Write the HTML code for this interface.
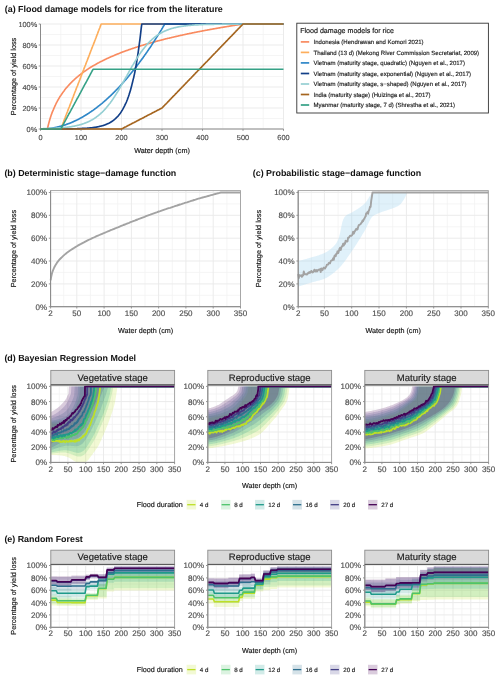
<!DOCTYPE html>
<html><head><meta charset="utf-8"><style>html,body{margin:0;padding:0;background:#fff;width:500px;height:680px;overflow:hidden}svg{display:block;will-change:transform}text{font-family:"Liberation Sans", sans-serif;text-rendering:geometricPrecision}</style></head>
<body><svg width="500" height="680" viewBox="0 0 500 680" font-family='"Liberation Sans", sans-serif'><text x="4.8" y="11.8" font-size="8.9" text-anchor="start" fill="#111" font-weight="bold">(a) Flood damage models for rice from the literature</text>
<text x="4.4" y="175.5" font-size="8.9" text-anchor="start" fill="#111" font-weight="bold">(b) Deterministic stage−damage function</text>
<text x="252.8" y="175.5" font-size="8.9" text-anchor="start" fill="#111" font-weight="bold">(c) Probabilistic stage−damage function</text>
<text x="4.4" y="360.6" font-size="8.9" text-anchor="start" fill="#111" font-weight="bold">(d) Bayesian Regression Model</text>
<text x="4.4" y="542.4" font-size="8.9" text-anchor="start" fill="#111" font-weight="bold">(e) Random Forest</text>
<line x1="40.5" y1="118.5" x2="283.5" y2="118.5" stroke="#f3f3f3" stroke-width="0.8"/>
<line x1="40.5" y1="97.5" x2="283.5" y2="97.5" stroke="#f3f3f3" stroke-width="0.8"/>
<line x1="40.5" y1="76.5" x2="283.5" y2="76.5" stroke="#f3f3f3" stroke-width="0.8"/>
<line x1="40.5" y1="55.5" x2="283.5" y2="55.5" stroke="#f3f3f3" stroke-width="0.8"/>
<line x1="40.5" y1="34.5" x2="283.5" y2="34.5" stroke="#f3f3f3" stroke-width="0.8"/>
<line x1="60.8" y1="24" x2="60.8" y2="129" stroke="#f3f3f3" stroke-width="0.8"/>
<line x1="101.2" y1="24" x2="101.2" y2="129" stroke="#f3f3f3" stroke-width="0.8"/>
<line x1="141.8" y1="24" x2="141.8" y2="129" stroke="#f3f3f3" stroke-width="0.8"/>
<line x1="182.2" y1="24" x2="182.2" y2="129" stroke="#f3f3f3" stroke-width="0.8"/>
<line x1="222.8" y1="24" x2="222.8" y2="129" stroke="#f3f3f3" stroke-width="0.8"/>
<line x1="263.2" y1="24" x2="263.2" y2="129" stroke="#f3f3f3" stroke-width="0.8"/>
<line x1="40.5" y1="129" x2="283.5" y2="129" stroke="#ebebeb" stroke-width="1"/>
<line x1="40.5" y1="108" x2="283.5" y2="108" stroke="#ebebeb" stroke-width="1"/>
<line x1="40.5" y1="87" x2="283.5" y2="87" stroke="#ebebeb" stroke-width="1"/>
<line x1="40.5" y1="66" x2="283.5" y2="66" stroke="#ebebeb" stroke-width="1"/>
<line x1="40.5" y1="45" x2="283.5" y2="45" stroke="#ebebeb" stroke-width="1"/>
<line x1="40.5" y1="24" x2="283.5" y2="24" stroke="#ebebeb" stroke-width="1"/>
<line x1="40.5" y1="24" x2="40.5" y2="129" stroke="#ebebeb" stroke-width="1"/>
<line x1="81" y1="24" x2="81" y2="129" stroke="#ebebeb" stroke-width="1"/>
<line x1="121.5" y1="24" x2="121.5" y2="129" stroke="#ebebeb" stroke-width="1"/>
<line x1="162" y1="24" x2="162" y2="129" stroke="#ebebeb" stroke-width="1"/>
<line x1="202.5" y1="24" x2="202.5" y2="129" stroke="#ebebeb" stroke-width="1"/>
<line x1="243" y1="24" x2="243" y2="129" stroke="#ebebeb" stroke-width="1"/>
<line x1="283.5" y1="24" x2="283.5" y2="129" stroke="#ebebeb" stroke-width="1"/>
<line x1="40.5" y1="24" x2="40.5" y2="129" stroke="#8a8a8a" stroke-width="1"/>
<line x1="40.5" y1="129" x2="283.5" y2="129" stroke="#8a8a8a" stroke-width="1"/>
<line x1="38.7" y1="129" x2="40.5" y2="129" stroke="#8a8a8a" stroke-width="0.9"/>
<text x="37.2" y="131.6" font-size="7.35" text-anchor="end" fill="#4d4d4d" stroke="#4d4d4d" stroke-width="0.15">0%</text>
<line x1="38.7" y1="108" x2="40.5" y2="108" stroke="#8a8a8a" stroke-width="0.9"/>
<text x="37.2" y="110.6" font-size="7.35" text-anchor="end" fill="#4d4d4d" stroke="#4d4d4d" stroke-width="0.15">20%</text>
<line x1="38.7" y1="87" x2="40.5" y2="87" stroke="#8a8a8a" stroke-width="0.9"/>
<text x="37.2" y="89.6" font-size="7.35" text-anchor="end" fill="#4d4d4d" stroke="#4d4d4d" stroke-width="0.15">40%</text>
<line x1="38.7" y1="66" x2="40.5" y2="66" stroke="#8a8a8a" stroke-width="0.9"/>
<text x="37.2" y="68.6" font-size="7.35" text-anchor="end" fill="#4d4d4d" stroke="#4d4d4d" stroke-width="0.15">60%</text>
<line x1="38.7" y1="45" x2="40.5" y2="45" stroke="#8a8a8a" stroke-width="0.9"/>
<text x="37.2" y="47.6" font-size="7.35" text-anchor="end" fill="#4d4d4d" stroke="#4d4d4d" stroke-width="0.15">80%</text>
<line x1="38.7" y1="24" x2="40.5" y2="24" stroke="#8a8a8a" stroke-width="0.9"/>
<text x="37.2" y="26.6" font-size="7.35" text-anchor="end" fill="#4d4d4d" stroke="#4d4d4d" stroke-width="0.15">100%</text>
<line x1="40.5" y1="129" x2="40.5" y2="130.8" stroke="#8a8a8a" stroke-width="0.9"/>
<text x="40.5" y="140" font-size="7.35" text-anchor="middle" fill="#4d4d4d" stroke="#4d4d4d" stroke-width="0.15">0</text>
<line x1="81" y1="129" x2="81" y2="130.8" stroke="#8a8a8a" stroke-width="0.9"/>
<text x="81" y="140" font-size="7.35" text-anchor="middle" fill="#4d4d4d" stroke="#4d4d4d" stroke-width="0.15">100</text>
<line x1="121.5" y1="129" x2="121.5" y2="130.8" stroke="#8a8a8a" stroke-width="0.9"/>
<text x="121.5" y="140" font-size="7.35" text-anchor="middle" fill="#4d4d4d" stroke="#4d4d4d" stroke-width="0.15">200</text>
<line x1="162" y1="129" x2="162" y2="130.8" stroke="#8a8a8a" stroke-width="0.9"/>
<text x="162" y="140" font-size="7.35" text-anchor="middle" fill="#4d4d4d" stroke="#4d4d4d" stroke-width="0.15">300</text>
<line x1="202.5" y1="129" x2="202.5" y2="130.8" stroke="#8a8a8a" stroke-width="0.9"/>
<text x="202.5" y="140" font-size="7.35" text-anchor="middle" fill="#4d4d4d" stroke="#4d4d4d" stroke-width="0.15">400</text>
<line x1="243" y1="129" x2="243" y2="130.8" stroke="#8a8a8a" stroke-width="0.9"/>
<text x="243" y="140" font-size="7.35" text-anchor="middle" fill="#4d4d4d" stroke="#4d4d4d" stroke-width="0.15">500</text>
<line x1="283.5" y1="129" x2="283.5" y2="130.8" stroke="#8a8a8a" stroke-width="0.9"/>
<text x="283.5" y="140" font-size="7.35" text-anchor="middle" fill="#4d4d4d" stroke="#4d4d4d" stroke-width="0.15">600</text>
<polyline points="40.5,129 40.9,129 41.3,129 41.7,129 42.1,129 42.5,129 42.9,129 43.3,129 43.7,129 44.1,129 44.5,129 45,129 45.4,129 45.8,129 46.2,129 46.6,129 47,129 47.4,129 47.8,127.2 48.2,125.5 48.6,124 49,122.4 49.4,121 49.8,119.6 50.2,118.3 50.6,117 51,115.8 51.4,114.6 51.8,113.5 52.2,112.4 52.6,111.4 53.1,110.3 53.5,109.4 53.9,108.4 54.3,107.5 54.7,106.6 55.1,105.7 55.5,104.9 55.9,104 56.3,103.2 56.7,102.4 57.1,101.7 57.5,100.9 57.9,100.2 58.3,99.5 58.7,98.8 59.1,98.1 59.5,97.4 59.9,96.8 60.3,96.1 60.8,95.5 61.2,94.9 61.6,94.3 62,93.7 62.4,93.1 62.8,92.5 63.2,92 63.6,91.4 64,90.9 64.4,90.4 64.8,89.8 65.2,89.3 65.6,88.8 66,88.3 66.4,87.8 66.8,87.4 67.2,86.9 67.6,86.4 68,86 68.4,85.5 68.8,85.1 69.3,84.6 69.7,84.2 70.1,83.7 70.5,83.3 70.9,82.9 71.3,82.5 71.7,82.1 72.1,81.7 72.5,81.3 72.9,80.9 73.3,80.5 73.7,80.1 74.1,79.8 74.5,79.4 74.9,79 75.3,78.7 75.7,78.3 76.1,77.9 76.5,77.6 76.9,77.2 77.4,76.9 77.8,76.6 78.2,76.2 78.6,75.9 79,75.6 79.4,75.2 79.8,74.9 80.2,74.6 80.6,74.3 81,74 81.4,73.7 81.8,73.4 82.2,73.1 82.6,72.8 83,72.5 83.4,72.2 83.8,71.9 84.2,71.6 84.6,71.3 85,71 85.5,70.7 85.9,70.5 86.3,70.2 86.7,69.9 87.1,69.6 87.5,69.4 87.9,69.1 88.3,68.8 88.7,68.6 89.1,68.3 89.5,68.1 89.9,67.8 90.3,67.5 90.7,67.3 91.1,67 91.5,66.8 91.9,66.6 92.3,66.3 92.7,66.1 93.2,65.8 93.6,65.6 94,65.4 94.4,65.1 94.8,64.9 95.2,64.7 95.6,64.4 96,64.2 96.4,64 96.8,63.8 97.2,63.5 97.6,63.3 98,63.1 98.4,62.9 98.8,62.7 99.2,62.4 99.6,62.2 100,62 100.4,61.8 100.8,61.6 101.2,61.4 101.7,61.2 102.1,61 102.5,60.8 102.9,60.6 103.3,60.4 103.7,60.2 104.1,60 104.5,59.8 104.9,59.6 105.3,59.4 105.7,59.2 106.1,59 106.5,58.8 106.9,58.6 107.3,58.4 107.7,58.2 108.1,58.1 108.5,57.9 108.9,57.7 109.3,57.5 109.8,57.3 110.2,57.1 110.6,57 111,56.8 111.4,56.6 111.8,56.4 112.2,56.2 112.6,56.1 113,55.9 113.4,55.7 113.8,55.6 114.2,55.4 114.6,55.2 115,55 115.4,54.9 115.8,54.7 116.2,54.5 116.6,54.4 117,54.2 117.5,54 117.9,53.9 118.3,53.7 118.7,53.6 119.1,53.4 119.5,53.2 119.9,53.1 120.3,52.9 120.7,52.8 121.1,52.6 121.5,52.5 121.9,52.3 122.3,52.1 122.7,52 123.1,51.8 123.5,51.7 123.9,51.5 124.3,51.4 124.7,51.2 125.1,51.1 125.5,50.9 126,50.8 126.4,50.6 126.8,50.5 127.2,50.4 127.6,50.2 128,50.1 128.4,49.9 128.8,49.8 129.2,49.6 129.6,49.5 130,49.4 130.4,49.2 130.8,49.1 131.2,48.9 131.6,48.8 132,48.7 132.4,48.5 132.8,48.4 133.2,48.2 133.7,48.1 134.1,48 134.5,47.8 134.9,47.7 135.3,47.6 135.7,47.4 136.1,47.3 136.5,47.2 136.9,47.1 137.3,46.9 137.7,46.8 138.1,46.7 138.5,46.5 138.9,46.4 139.3,46.3 139.7,46.2 140.1,46 140.5,45.9 140.9,45.8 141.3,45.6 141.8,45.5 142.2,45.4 142.6,45.3 143,45.2 143.4,45 143.8,44.9 144.2,44.8 144.6,44.7 145,44.5 145.4,44.4 145.8,44.3 146.2,44.2 146.6,44.1 147,43.9 147.4,43.8 147.8,43.7 148.2,43.6 148.6,43.5 149,43.4 149.4,43.2 149.9,43.1 150.3,43 150.7,42.9 151.1,42.8 151.5,42.7 151.9,42.6 152.3,42.5 152.7,42.3 153.1,42.2 153.5,42.1 153.9,42 154.3,41.9 154.7,41.8 155.1,41.7 155.5,41.6 155.9,41.5 156.3,41.3 156.7,41.2 157.1,41.1 157.5,41 157.9,40.9 158.4,40.8 158.8,40.7 159.2,40.6 159.6,40.5 160,40.4 160.4,40.3 160.8,40.2 161.2,40.1 161.6,40 162,39.9 162.4,39.8 162.8,39.7 163.2,39.6 163.6,39.5 164,39.3 164.4,39.2 164.8,39.1 165.2,39 165.6,38.9 166.1,38.8 166.5,38.7 166.9,38.6 167.3,38.5 167.7,38.4 168.1,38.3 168.5,38.2 168.9,38.2 169.3,38.1 169.7,38 170.1,37.9 170.5,37.8 170.9,37.7 171.3,37.6 171.7,37.5 172.1,37.4 172.5,37.3 172.9,37.2 173.3,37.1 173.7,37 174.2,36.9 174.6,36.8 175,36.7 175.4,36.6 175.8,36.5 176.2,36.4 176.6,36.3 177,36.3 177.4,36.2 177.8,36.1 178.2,36 178.6,35.9 179,35.8 179.4,35.7 179.8,35.6 180.2,35.5 180.6,35.4 181,35.3 181.4,35.3 181.8,35.2 182.2,35.1 182.7,35 183.1,34.9 183.5,34.8 183.9,34.7 184.3,34.6 184.7,34.5 185.1,34.5 185.5,34.4 185.9,34.3 186.3,34.2 186.7,34.1 187.1,34 187.5,33.9 187.9,33.9 188.3,33.8 188.7,33.7 189.1,33.6 189.5,33.5 189.9,33.4 190.3,33.3 190.8,33.3 191.2,33.2 191.6,33.1 192,33 192.4,32.9 192.8,32.9 193.2,32.8 193.6,32.7 194,32.6 194.4,32.5 194.8,32.4 195.2,32.4 195.6,32.3 196,32.2 196.4,32.1 196.8,32 197.2,32 197.6,31.9 198,31.8 198.5,31.7 198.9,31.6 199.3,31.6 199.7,31.5 200.1,31.4 200.5,31.3 200.9,31.2 201.3,31.2 201.7,31.1 202.1,31 202.5,30.9 202.9,30.9 203.3,30.8 203.7,30.7 204.1,30.6 204.5,30.5 204.9,30.5 205.3,30.4 205.7,30.3 206.1,30.2 206.6,30.2 207,30.1 207.4,30 207.8,29.9 208.2,29.9 208.6,29.8 209,29.7 209.4,29.6 209.8,29.6 210.2,29.5 210.6,29.4 211,29.3 211.4,29.3 211.8,29.2 212.2,29.1 212.6,29 213,29 213.4,28.9 213.8,28.8 214.2,28.8 214.7,28.7 215.1,28.6 215.5,28.5 215.9,28.5 216.3,28.4 216.7,28.3 217.1,28.3 217.5,28.2 217.9,28.1 218.3,28 218.7,28 219.1,27.9 219.5,27.8 219.9,27.8 220.3,27.7 220.7,27.6 221.1,27.5 221.5,27.5 221.9,27.4 222.3,27.3 222.8,27.3 223.2,27.2 223.6,27.1 224,27.1 224.4,27 224.8,26.9 225.2,26.9 225.6,26.8 226,26.7 226.4,26.7 226.8,26.6 227.2,26.5 227.6,26.5 228,26.4 228.4,26.3 228.8,26.3 229.2,26.2 229.6,26.1 230,26.1 230.4,26 230.8,25.9 231.3,25.9 231.7,25.8 232.1,25.7 232.5,25.7 232.9,25.6 233.3,25.5 233.7,25.5 234.1,25.4 234.5,25.3 234.9,25.3 235.3,25.2 235.7,25.1 236.1,25.1 236.5,25 236.9,24.9 237.3,24.9 237.7,24.8 238.1,24.8 238.5,24.7 238.9,24.6 239.4,24.6 239.8,24.5 240.2,24.4 240.6,24.4 241,24.3 241.4,24.2 241.8,24.2 242.2,24.1 242.6,24.1 243,24 243.4,24 243.8,24 244.2,24 244.6,24 245,24 245.4,24 245.8,24 246.2,24 246.6,24 247,24 247.5,24 247.9,24 248.3,24 248.7,24 249.1,24 249.5,24 249.9,24 250.3,24 250.7,24 251.1,24 251.5,24 251.9,24 252.3,24 252.7,24 253.1,24 253.5,24 253.9,24 254.3,24 254.7,24 255.2,24 255.6,24 256,24 256.4,24 256.8,24 257.2,24 257.6,24 258,24 258.4,24 258.8,24 259.2,24 259.6,24 260,24 260.4,24 260.8,24 261.2,24 261.6,24 262,24 262.4,24 262.8,24 263.2,24 263.7,24 264.1,24 264.5,24 264.9,24 265.3,24 265.7,24 266.1,24 266.5,24 266.9,24 267.3,24 267.7,24 268.1,24 268.5,24 268.9,24 269.3,24 269.7,24 270.1,24 270.5,24 270.9,24 271.4,24 271.8,24 272.2,24 272.6,24 273,24 273.4,24 273.8,24 274.2,24 274.6,24 275,24 275.4,24 275.8,24 276.2,24 276.6,24 277,24 277.4,24 277.8,24 278.2,24 278.6,24 279,24 279.4,24 279.9,24 280.3,24 280.7,24 281.1,24 281.5,24 281.9,24 282.3,24 282.7,24 283.1,24 283.5,24" fill="none" stroke="#f98b60" stroke-width="1.65" stroke-linejoin="round"/>
<polyline points="40.5,129 40.9,129 41.3,129 41.7,129 42.1,129 42.5,129 42.9,129 43.3,129 43.7,129 44.1,129 44.5,129 45,129 45.4,129 45.8,129 46.2,129 46.6,129 47,129 47.4,129 47.8,129 48.2,129 48.6,129 49,129 49.4,129 49.8,129 50.2,129 50.6,129 51,129 51.4,129 51.8,129 52.2,129 52.6,129 53.1,129 53.5,129 53.9,129 54.3,129 54.7,129 55.1,129 55.5,129 55.9,129 56.3,129 56.7,129 57.1,129 57.5,129 57.9,129 58.3,129 58.7,129 59.1,129 59.5,129 59.9,129 60.3,129 60.8,129 61.2,128 61.6,126.9 62,125.8 62.4,124.8 62.8,123.8 63.2,122.7 63.6,121.7 64,120.6 64.4,119.5 64.8,118.5 65.2,117.5 65.6,116.4 66,115.3 66.4,114.3 66.8,113.2 67.2,112.2 67.6,111.2 68,110.1 68.4,109 68.8,108 69.3,107 69.7,105.9 70.1,104.8 70.5,103.8 70.9,102.8 71.3,101.7 71.7,100.7 72.1,99.6 72.5,98.5 72.9,97.5 73.3,96.5 73.7,95.4 74.1,94.3 74.5,93.3 74.9,92.2 75.3,91.2 75.7,90.2 76.1,89.1 76.5,88 76.9,87 77.4,86 77.8,84.9 78.2,83.8 78.6,82.8 79,81.8 79.4,80.7 79.8,79.7 80.2,78.6 80.6,77.6 81,76.5 81.4,75.4 81.8,74.4 82.2,73.3 82.6,72.3 83,71.2 83.4,70.2 83.8,69.2 84.2,68.1 84.6,67.1 85,66 85.5,65 85.9,63.9 86.3,62.8 86.7,61.8 87.1,60.8 87.5,59.7 87.9,58.6 88.3,57.6 88.7,56.6 89.1,55.5 89.5,54.5 89.9,53.4 90.3,52.4 90.7,51.3 91.1,50.2 91.5,49.2 91.9,48.1 92.3,47.1 92.7,46 93.2,45 93.6,43.9 94,42.9 94.4,41.9 94.8,40.8 95.2,39.8 95.6,38.7 96,37.7 96.4,36.6 96.8,35.5 97.2,34.5 97.6,33.5 98,32.4 98.4,31.3 98.8,30.3 99.2,29.2 99.6,28.2 100,27.2 100.4,26.1 100.8,25 101.2,24 101.7,24 102.1,24 102.5,24 102.9,24 103.3,24 103.7,24 104.1,24 104.5,24 104.9,24 105.3,24 105.7,24 106.1,24 106.5,24 106.9,24 107.3,24 107.7,24 108.1,24 108.5,24 108.9,24 109.3,24 109.8,24 110.2,24 110.6,24 111,24 111.4,24 111.8,24 112.2,24 112.6,24 113,24 113.4,24 113.8,24 114.2,24 114.6,24 115,24 115.4,24 115.8,24 116.2,24 116.6,24 117,24 117.5,24 117.9,24 118.3,24 118.7,24 119.1,24 119.5,24 119.9,24 120.3,24 120.7,24 121.1,24 121.5,24 121.9,24 122.3,24 122.7,24 123.1,24 123.5,24 123.9,24 124.3,24 124.7,24 125.1,24 125.5,24 126,24 126.4,24 126.8,24 127.2,24 127.6,24 128,24 128.4,24 128.8,24 129.2,24 129.6,24 130,24 130.4,24 130.8,24 131.2,24 131.6,24 132,24 132.4,24 132.8,24 133.2,24 133.7,24 134.1,24 134.5,24 134.9,24 135.3,24 135.7,24 136.1,24 136.5,24 136.9,24 137.3,24 137.7,24 138.1,24 138.5,24 138.9,24 139.3,24 139.7,24 140.1,24 140.5,24 140.9,24 141.3,24 141.8,24 142.2,24 142.6,24 143,24 143.4,24 143.8,24 144.2,24 144.6,24 145,24 145.4,24 145.8,24 146.2,24 146.6,24 147,24 147.4,24 147.8,24 148.2,24 148.6,24 149,24 149.4,24 149.9,24 150.3,24 150.7,24 151.1,24 151.5,24 151.9,24 152.3,24 152.7,24 153.1,24 153.5,24 153.9,24 154.3,24 154.7,24 155.1,24 155.5,24 155.9,24 156.3,24 156.7,24 157.1,24 157.5,24 157.9,24 158.4,24 158.8,24 159.2,24 159.6,24 160,24 160.4,24 160.8,24 161.2,24 161.6,24 162,24 162.4,24 162.8,24 163.2,24 163.6,24 164,24 164.4,24 164.8,24 165.2,24 165.6,24 166.1,24 166.5,24 166.9,24 167.3,24 167.7,24 168.1,24 168.5,24 168.9,24 169.3,24 169.7,24 170.1,24 170.5,24 170.9,24 171.3,24 171.7,24 172.1,24 172.5,24 172.9,24 173.3,24 173.7,24 174.2,24 174.6,24 175,24 175.4,24 175.8,24 176.2,24 176.6,24 177,24 177.4,24 177.8,24 178.2,24 178.6,24 179,24 179.4,24 179.8,24 180.2,24 180.6,24 181,24 181.4,24 181.8,24 182.2,24 182.7,24 183.1,24 183.5,24 183.9,24 184.3,24 184.7,24 185.1,24 185.5,24 185.9,24 186.3,24 186.7,24 187.1,24 187.5,24 187.9,24 188.3,24 188.7,24 189.1,24 189.5,24 189.9,24 190.3,24 190.8,24 191.2,24 191.6,24 192,24 192.4,24 192.8,24 193.2,24 193.6,24 194,24 194.4,24 194.8,24 195.2,24 195.6,24 196,24 196.4,24 196.8,24 197.2,24 197.6,24 198,24 198.5,24 198.9,24 199.3,24 199.7,24 200.1,24 200.5,24 200.9,24 201.3,24 201.7,24 202.1,24 202.5,24 202.9,24 203.3,24 203.7,24 204.1,24 204.5,24 204.9,24 205.3,24 205.7,24 206.1,24 206.6,24 207,24 207.4,24 207.8,24 208.2,24 208.6,24 209,24 209.4,24 209.8,24 210.2,24 210.6,24 211,24 211.4,24 211.8,24 212.2,24 212.6,24 213,24 213.4,24 213.8,24 214.2,24 214.7,24 215.1,24 215.5,24 215.9,24 216.3,24 216.7,24 217.1,24 217.5,24 217.9,24 218.3,24 218.7,24 219.1,24 219.5,24 219.9,24 220.3,24 220.7,24 221.1,24 221.5,24 221.9,24 222.3,24 222.8,24 223.2,24 223.6,24 224,24 224.4,24 224.8,24 225.2,24 225.6,24 226,24 226.4,24 226.8,24 227.2,24 227.6,24 228,24 228.4,24 228.8,24 229.2,24 229.6,24 230,24 230.4,24 230.8,24 231.3,24 231.7,24 232.1,24 232.5,24 232.9,24 233.3,24 233.7,24 234.1,24 234.5,24 234.9,24 235.3,24 235.7,24 236.1,24 236.5,24 236.9,24 237.3,24 237.7,24 238.1,24 238.5,24 238.9,24 239.4,24 239.8,24 240.2,24 240.6,24 241,24 241.4,24 241.8,24 242.2,24 242.6,24 243,24 243.4,24 243.8,24 244.2,24 244.6,24 245,24 245.4,24 245.8,24 246.2,24 246.6,24 247,24 247.5,24 247.9,24 248.3,24 248.7,24 249.1,24 249.5,24 249.9,24 250.3,24 250.7,24 251.1,24 251.5,24 251.9,24 252.3,24 252.7,24 253.1,24 253.5,24 253.9,24 254.3,24 254.7,24 255.2,24 255.6,24 256,24 256.4,24 256.8,24 257.2,24 257.6,24 258,24 258.4,24 258.8,24 259.2,24 259.6,24 260,24 260.4,24 260.8,24 261.2,24 261.6,24 262,24 262.4,24 262.8,24 263.2,24 263.7,24 264.1,24 264.5,24 264.9,24 265.3,24 265.7,24 266.1,24 266.5,24 266.9,24 267.3,24 267.7,24 268.1,24 268.5,24 268.9,24 269.3,24 269.7,24 270.1,24 270.5,24 270.9,24 271.4,24 271.8,24 272.2,24 272.6,24 273,24 273.4,24 273.8,24 274.2,24 274.6,24 275,24 275.4,24 275.8,24 276.2,24 276.6,24 277,24 277.4,24 277.8,24 278.2,24 278.6,24 279,24 279.4,24 279.9,24 280.3,24 280.7,24 281.1,24 281.5,24 281.9,24 282.3,24 282.7,24 283.1,24 283.5,24" fill="none" stroke="#fdae5c" stroke-width="1.65" stroke-linejoin="round"/>
<polyline points="40.5,129 40.9,129 41.3,129 41.7,129 42.1,129 42.5,129 42.9,129 43.3,128.9 43.7,128.9 44.1,128.9 44.5,128.9 45,128.9 45.4,128.8 45.8,128.8 46.2,128.8 46.6,128.7 47,128.7 47.4,128.7 47.8,128.6 48.2,128.6 48.6,128.6 49,128.5 49.4,128.5 49.8,128.4 50.2,128.4 50.6,128.3 51,128.2 51.4,128.2 51.8,128.1 52.2,128.1 52.6,128 53.1,127.9 53.5,127.9 53.9,127.8 54.3,127.7 54.7,127.6 55.1,127.6 55.5,127.5 55.9,127.4 56.3,127.3 56.7,127.2 57.1,127.1 57.5,127 57.9,126.9 58.3,126.8 58.7,126.7 59.1,126.6 59.5,126.5 59.9,126.4 60.3,126.3 60.8,126.2 61.2,126.1 61.6,126 62,125.9 62.4,125.8 62.8,125.6 63.2,125.5 63.6,125.4 64,125.3 64.4,125.1 64.8,125 65.2,124.9 65.6,124.7 66,124.6 66.4,124.4 66.8,124.3 67.2,124.1 67.6,124 68,123.8 68.4,123.7 68.8,123.5 69.3,123.4 69.7,123.2 70.1,123.1 70.5,122.9 70.9,122.7 71.3,122.6 71.7,122.4 72.1,122.2 72.5,122 72.9,121.9 73.3,121.7 73.7,121.5 74.1,121.3 74.5,121.1 74.9,121 75.3,120.8 75.7,120.6 76.1,120.4 76.5,120.2 76.9,120 77.4,119.8 77.8,119.6 78.2,119.4 78.6,119.2 79,118.9 79.4,118.7 79.8,118.5 80.2,118.3 80.6,118.1 81,117.9 81.4,117.6 81.8,117.4 82.2,117.2 82.6,117 83,116.7 83.4,116.5 83.8,116.2 84.2,116 84.6,115.8 85,115.5 85.5,115.3 85.9,115 86.3,114.8 86.7,114.5 87.1,114.3 87.5,114 87.9,113.7 88.3,113.5 88.7,113.2 89.1,113 89.5,112.7 89.9,112.4 90.3,112.1 90.7,111.9 91.1,111.6 91.5,111.3 91.9,111 92.3,110.7 92.7,110.5 93.2,110.2 93.6,109.9 94,109.6 94.4,109.3 94.8,109 95.2,108.7 95.6,108.4 96,108.1 96.4,107.8 96.8,107.5 97.2,107.2 97.6,106.9 98,106.5 98.4,106.2 98.8,105.9 99.2,105.6 99.6,105.3 100,104.9 100.4,104.6 100.8,104.3 101.2,103.9 101.7,103.6 102.1,103.3 102.5,102.9 102.9,102.6 103.3,102.2 103.7,101.9 104.1,101.5 104.5,101.2 104.9,100.8 105.3,100.5 105.7,100.1 106.1,99.8 106.5,99.4 106.9,99 107.3,98.7 107.7,98.3 108.1,97.9 108.5,97.6 108.9,97.2 109.3,96.8 109.8,96.4 110.2,96 110.6,95.7 111,95.3 111.4,94.9 111.8,94.5 112.2,94.1 112.6,93.7 113,93.3 113.4,92.9 113.8,92.5 114.2,92.1 114.6,91.7 115,91.3 115.4,90.9 115.8,90.5 116.2,90 116.6,89.6 117,89.2 117.5,88.8 117.9,88.4 118.3,87.9 118.7,87.5 119.1,87.1 119.5,86.6 119.9,86.2 120.3,85.8 120.7,85.3 121.1,84.9 121.5,84.4 121.9,84 122.3,83.5 122.7,83.1 123.1,82.6 123.5,82.2 123.9,81.7 124.3,81.3 124.7,80.8 125.1,80.3 125.5,79.9 126,79.4 126.4,78.9 126.8,78.5 127.2,78 127.6,77.5 128,77 128.4,76.5 128.8,76.1 129.2,75.6 129.6,75.1 130,74.6 130.4,74.1 130.8,73.6 131.2,73.1 131.6,72.6 132,72.1 132.4,71.6 132.8,71.1 133.2,70.6 133.7,70.1 134.1,69.6 134.5,69 134.9,68.5 135.3,68 135.7,67.5 136.1,67 136.5,66.4 136.9,65.9 137.3,65.4 137.7,64.8 138.1,64.3 138.5,63.8 138.9,63.2 139.3,62.7 139.7,62.1 140.1,61.6 140.5,61 140.9,60.5 141.3,59.9 141.8,59.4 142.2,58.8 142.6,58.3 143,57.7 143.4,57.1 143.8,56.6 144.2,56 144.6,55.4 145,54.8 145.4,54.3 145.8,53.7 146.2,53.1 146.6,52.5 147,51.9 147.4,51.4 147.8,50.8 148.2,50.2 148.6,49.6 149,49 149.4,48.4 149.9,47.8 150.3,47.2 150.7,46.6 151.1,46 151.5,45.4 151.9,44.7 152.3,44.1 152.7,43.5 153.1,42.9 153.5,42.3 153.9,41.7 154.3,41 154.7,40.4 155.1,39.8 155.5,39.1 155.9,38.5 156.3,37.9 156.7,37.2 157.1,36.6 157.5,36 157.9,35.3 158.4,34.7 158.8,34 159.2,33.4 159.6,32.7 160,32 160.4,31.4 160.8,30.7 161.2,30.1 161.6,29.4 162,28.7 162.4,28.1 162.8,27.4 163.2,26.7 163.6,26 164,25.4 164.4,24.7 164.8,24 165.2,24 165.6,24 166.1,24 166.5,24 166.9,24 167.3,24 167.7,24 168.1,24 168.5,24 168.9,24 169.3,24 169.7,24 170.1,24 170.5,24 170.9,24 171.3,24 171.7,24 172.1,24 172.5,24 172.9,24 173.3,24 173.7,24 174.2,24 174.6,24 175,24 175.4,24 175.8,24 176.2,24 176.6,24 177,24 177.4,24 177.8,24 178.2,24 178.6,24 179,24 179.4,24 179.8,24 180.2,24 180.6,24 181,24 181.4,24 181.8,24 182.2,24 182.7,24 183.1,24 183.5,24 183.9,24 184.3,24 184.7,24 185.1,24 185.5,24 185.9,24 186.3,24 186.7,24 187.1,24 187.5,24 187.9,24 188.3,24 188.7,24 189.1,24 189.5,24 189.9,24 190.3,24 190.8,24 191.2,24 191.6,24 192,24 192.4,24 192.8,24 193.2,24 193.6,24 194,24 194.4,24 194.8,24 195.2,24 195.6,24 196,24 196.4,24 196.8,24 197.2,24 197.6,24 198,24 198.5,24 198.9,24 199.3,24 199.7,24 200.1,24 200.5,24 200.9,24 201.3,24 201.7,24 202.1,24 202.5,24 202.9,24 203.3,24 203.7,24 204.1,24 204.5,24 204.9,24 205.3,24 205.7,24 206.1,24 206.6,24 207,24 207.4,24 207.8,24 208.2,24 208.6,24 209,24 209.4,24 209.8,24 210.2,24 210.6,24 211,24 211.4,24 211.8,24 212.2,24 212.6,24 213,24 213.4,24 213.8,24 214.2,24 214.7,24 215.1,24 215.5,24 215.9,24 216.3,24 216.7,24 217.1,24 217.5,24 217.9,24 218.3,24 218.7,24 219.1,24 219.5,24 219.9,24 220.3,24 220.7,24 221.1,24 221.5,24 221.9,24 222.3,24 222.8,24 223.2,24 223.6,24 224,24 224.4,24 224.8,24 225.2,24 225.6,24 226,24 226.4,24 226.8,24 227.2,24 227.6,24 228,24 228.4,24 228.8,24 229.2,24 229.6,24 230,24 230.4,24 230.8,24 231.3,24 231.7,24 232.1,24 232.5,24 232.9,24 233.3,24 233.7,24 234.1,24 234.5,24 234.9,24 235.3,24 235.7,24 236.1,24 236.5,24 236.9,24 237.3,24 237.7,24 238.1,24 238.5,24 238.9,24 239.4,24 239.8,24 240.2,24 240.6,24 241,24 241.4,24 241.8,24 242.2,24 242.6,24 243,24 243.4,24 243.8,24 244.2,24 244.6,24 245,24 245.4,24 245.8,24 246.2,24 246.6,24 247,24 247.5,24 247.9,24 248.3,24 248.7,24 249.1,24 249.5,24 249.9,24 250.3,24 250.7,24 251.1,24 251.5,24 251.9,24 252.3,24 252.7,24 253.1,24 253.5,24 253.9,24 254.3,24 254.7,24 255.2,24 255.6,24 256,24 256.4,24 256.8,24 257.2,24 257.6,24 258,24 258.4,24 258.8,24 259.2,24 259.6,24 260,24 260.4,24 260.8,24 261.2,24 261.6,24 262,24 262.4,24 262.8,24 263.2,24 263.7,24 264.1,24 264.5,24 264.9,24 265.3,24 265.7,24 266.1,24 266.5,24 266.9,24 267.3,24 267.7,24 268.1,24 268.5,24 268.9,24 269.3,24 269.7,24 270.1,24 270.5,24 270.9,24 271.4,24 271.8,24 272.2,24 272.6,24 273,24 273.4,24 273.8,24 274.2,24 274.6,24 275,24 275.4,24 275.8,24 276.2,24 276.6,24 277,24 277.4,24 277.8,24 278.2,24 278.6,24 279,24 279.4,24 279.9,24 280.3,24 280.7,24 281.1,24 281.5,24 281.9,24 282.3,24 282.7,24 283.1,24 283.5,24" fill="none" stroke="#2f87c8" stroke-width="1.65" stroke-linejoin="round"/>
<polyline points="40.5,129 40.9,129 41.3,129 41.7,129 42.1,129 42.5,129 42.9,129 43.3,129 43.7,129 44.1,129 44.5,129 45,129 45.4,129 45.8,129 46.2,129 46.6,129 47,129 47.4,129 47.8,129 48.2,129 48.6,129 49,129 49.4,129 49.8,129 50.2,129 50.6,129 51,129 51.4,129 51.8,129 52.2,129 52.6,129 53.1,129 53.5,129 53.9,129 54.3,129 54.7,129 55.1,128.9 55.5,128.9 55.9,128.9 56.3,128.9 56.7,128.9 57.1,128.9 57.5,128.9 57.9,128.9 58.3,128.9 58.7,128.9 59.1,128.9 59.5,128.9 59.9,128.9 60.3,128.9 60.8,128.9 61.2,128.9 61.6,128.9 62,128.9 62.4,128.9 62.8,128.9 63.2,128.9 63.6,128.9 64,128.9 64.4,128.9 64.8,128.9 65.2,128.9 65.6,128.9 66,128.9 66.4,128.9 66.8,128.9 67.2,128.9 67.6,128.8 68,128.8 68.4,128.8 68.8,128.8 69.3,128.8 69.7,128.8 70.1,128.8 70.5,128.8 70.9,128.8 71.3,128.8 71.7,128.8 72.1,128.8 72.5,128.8 72.9,128.8 73.3,128.7 73.7,128.7 74.1,128.7 74.5,128.7 74.9,128.7 75.3,128.7 75.7,128.7 76.1,128.7 76.5,128.7 76.9,128.7 77.4,128.6 77.8,128.6 78.2,128.6 78.6,128.6 79,128.6 79.4,128.6 79.8,128.6 80.2,128.5 80.6,128.5 81,128.5 81.4,128.5 81.8,128.5 82.2,128.4 82.6,128.4 83,128.4 83.4,128.4 83.8,128.4 84.2,128.3 84.6,128.3 85,128.3 85.5,128.3 85.9,128.2 86.3,128.2 86.7,128.2 87.1,128.2 87.5,128.1 87.9,128.1 88.3,128.1 88.7,128 89.1,128 89.5,128 89.9,127.9 90.3,127.9 90.7,127.8 91.1,127.8 91.5,127.7 91.9,127.7 92.3,127.7 92.7,127.6 93.2,127.6 93.6,127.5 94,127.4 94.4,127.4 94.8,127.3 95.2,127.3 95.6,127.2 96,127.1 96.4,127.1 96.8,127 97.2,126.9 97.6,126.9 98,126.8 98.4,126.7 98.8,126.6 99.2,126.5 99.6,126.4 100,126.3 100.4,126.2 100.8,126.1 101.2,126 101.7,125.9 102.1,125.8 102.5,125.7 102.9,125.6 103.3,125.5 103.7,125.3 104.1,125.2 104.5,125.1 104.9,124.9 105.3,124.8 105.7,124.6 106.1,124.5 106.5,124.3 106.9,124.1 107.3,123.9 107.7,123.8 108.1,123.6 108.5,123.4 108.9,123.2 109.3,123 109.8,122.7 110.2,122.5 110.6,122.3 111,122 111.4,121.8 111.8,121.5 112.2,121.2 112.6,121 113,120.7 113.4,120.4 113.8,120.1 114.2,119.7 114.6,119.4 115,119 115.4,118.7 115.8,118.3 116.2,117.9 116.6,117.5 117,117.1 117.5,116.7 117.9,116.2 118.3,115.8 118.7,115.3 119.1,114.8 119.5,114.3 119.9,113.7 120.3,113.2 120.7,112.6 121.1,112 121.5,111.4 121.9,110.7 122.3,110.1 122.7,109.4 123.1,108.7 123.5,107.9 123.9,107.2 124.3,106.4 124.7,105.6 125.1,104.7 125.5,103.8 126,102.9 126.4,102 126.8,101 127.2,100 127.6,98.9 128,97.8 128.4,96.7 128.8,95.5 129.2,94.3 129.6,93 130,91.7 130.4,90.4 130.8,89 131.2,87.5 131.6,86 132,84.4 132.4,82.8 132.8,81.1 133.2,79.4 133.7,77.6 134.1,75.7 134.5,73.8 134.9,71.8 135.3,69.7 135.7,67.5 136.1,65.3 136.5,63 136.9,60.6 137.3,58.1 137.7,55.5 138.1,52.9 138.5,50.1 138.9,47.2 139.3,44.2 139.7,41.2 140.1,38 140.5,34.7 140.9,31.2 141.3,27.7 141.8,24 142.2,24 142.6,24 143,24 143.4,24 143.8,24 144.2,24 144.6,24 145,24 145.4,24 145.8,24 146.2,24 146.6,24 147,24 147.4,24 147.8,24 148.2,24 148.6,24 149,24 149.4,24 149.9,24 150.3,24 150.7,24 151.1,24 151.5,24 151.9,24 152.3,24 152.7,24 153.1,24 153.5,24 153.9,24 154.3,24 154.7,24 155.1,24 155.5,24 155.9,24 156.3,24 156.7,24 157.1,24 157.5,24 157.9,24 158.4,24 158.8,24 159.2,24 159.6,24 160,24 160.4,24 160.8,24 161.2,24 161.6,24 162,24 162.4,24 162.8,24 163.2,24 163.6,24 164,24 164.4,24 164.8,24 165.2,24 165.6,24 166.1,24 166.5,24 166.9,24 167.3,24 167.7,24 168.1,24 168.5,24 168.9,24 169.3,24 169.7,24 170.1,24 170.5,24 170.9,24 171.3,24 171.7,24 172.1,24 172.5,24 172.9,24 173.3,24 173.7,24 174.2,24 174.6,24 175,24 175.4,24 175.8,24 176.2,24 176.6,24 177,24 177.4,24 177.8,24 178.2,24 178.6,24 179,24 179.4,24 179.8,24 180.2,24 180.6,24 181,24 181.4,24 181.8,24 182.2,24 182.7,24 183.1,24 183.5,24 183.9,24 184.3,24 184.7,24 185.1,24 185.5,24 185.9,24 186.3,24 186.7,24 187.1,24 187.5,24 187.9,24 188.3,24 188.7,24 189.1,24 189.5,24 189.9,24 190.3,24 190.8,24 191.2,24 191.6,24 192,24 192.4,24 192.8,24 193.2,24 193.6,24 194,24 194.4,24 194.8,24 195.2,24 195.6,24 196,24 196.4,24 196.8,24 197.2,24 197.6,24 198,24 198.5,24 198.9,24 199.3,24 199.7,24 200.1,24 200.5,24 200.9,24 201.3,24 201.7,24 202.1,24 202.5,24 202.9,24 203.3,24 203.7,24 204.1,24 204.5,24 204.9,24 205.3,24 205.7,24 206.1,24 206.6,24 207,24 207.4,24 207.8,24 208.2,24 208.6,24 209,24 209.4,24 209.8,24 210.2,24 210.6,24 211,24 211.4,24 211.8,24 212.2,24 212.6,24 213,24 213.4,24 213.8,24 214.2,24 214.7,24 215.1,24 215.5,24 215.9,24 216.3,24 216.7,24 217.1,24 217.5,24 217.9,24 218.3,24 218.7,24 219.1,24 219.5,24 219.9,24 220.3,24 220.7,24 221.1,24 221.5,24 221.9,24 222.3,24 222.8,24 223.2,24 223.6,24 224,24 224.4,24 224.8,24 225.2,24 225.6,24 226,24 226.4,24 226.8,24 227.2,24 227.6,24 228,24 228.4,24 228.8,24 229.2,24 229.6,24 230,24 230.4,24 230.8,24 231.3,24 231.7,24 232.1,24 232.5,24 232.9,24 233.3,24 233.7,24 234.1,24 234.5,24 234.9,24 235.3,24 235.7,24 236.1,24 236.5,24 236.9,24 237.3,24 237.7,24 238.1,24 238.5,24 238.9,24 239.4,24 239.8,24 240.2,24 240.6,24 241,24 241.4,24 241.8,24 242.2,24 242.6,24 243,24 243.4,24 243.8,24 244.2,24 244.6,24 245,24 245.4,24 245.8,24 246.2,24 246.6,24 247,24 247.5,24 247.9,24 248.3,24 248.7,24 249.1,24 249.5,24 249.9,24 250.3,24 250.7,24 251.1,24 251.5,24 251.9,24 252.3,24 252.7,24 253.1,24 253.5,24 253.9,24 254.3,24 254.7,24 255.2,24 255.6,24 256,24 256.4,24 256.8,24 257.2,24 257.6,24 258,24 258.4,24 258.8,24 259.2,24 259.6,24 260,24 260.4,24 260.8,24 261.2,24 261.6,24 262,24 262.4,24 262.8,24 263.2,24 263.7,24 264.1,24 264.5,24 264.9,24 265.3,24 265.7,24 266.1,24 266.5,24 266.9,24 267.3,24 267.7,24 268.1,24 268.5,24 268.9,24 269.3,24 269.7,24 270.1,24 270.5,24 270.9,24 271.4,24 271.8,24 272.2,24 272.6,24 273,24 273.4,24 273.8,24 274.2,24 274.6,24 275,24 275.4,24 275.8,24 276.2,24 276.6,24 277,24 277.4,24 277.8,24 278.2,24 278.6,24 279,24 279.4,24 279.9,24 280.3,24 280.7,24 281.1,24 281.5,24 281.9,24 282.3,24 282.7,24 283.1,24 283.5,24" fill="none" stroke="#123f88" stroke-width="1.65" stroke-linejoin="round"/>
<polyline points="40.5,128.7 40.9,128.7 41.3,128.7 41.7,128.7 42.1,128.7 42.5,128.7 42.9,128.7 43.3,128.6 43.7,128.6 44.1,128.6 44.5,128.6 45,128.6 45.4,128.6 45.8,128.6 46.2,128.6 46.6,128.6 47,128.5 47.4,128.5 47.8,128.5 48.2,128.5 48.6,128.5 49,128.5 49.4,128.5 49.8,128.4 50.2,128.4 50.6,128.4 51,128.4 51.4,128.4 51.8,128.4 52.2,128.3 52.6,128.3 53.1,128.3 53.5,128.3 53.9,128.3 54.3,128.2 54.7,128.2 55.1,128.2 55.5,128.2 55.9,128.2 56.3,128.1 56.7,128.1 57.1,128.1 57.5,128.1 57.9,128 58.3,128 58.7,128 59.1,128 59.5,127.9 59.9,127.9 60.3,127.9 60.8,127.8 61.2,127.8 61.6,127.8 62,127.7 62.4,127.7 62.8,127.7 63.2,127.6 63.6,127.6 64,127.5 64.4,127.5 64.8,127.5 65.2,127.4 65.6,127.4 66,127.3 66.4,127.3 66.8,127.2 67.2,127.2 67.6,127.1 68,127.1 68.4,127 68.8,127 69.3,126.9 69.7,126.9 70.1,126.8 70.5,126.8 70.9,126.7 71.3,126.6 71.7,126.6 72.1,126.5 72.5,126.4 72.9,126.4 73.3,126.3 73.7,126.2 74.1,126.1 74.5,126.1 74.9,126 75.3,125.9 75.7,125.8 76.1,125.7 76.5,125.6 76.9,125.5 77.4,125.4 77.8,125.4 78.2,125.3 78.6,125.2 79,125 79.4,124.9 79.8,124.8 80.2,124.7 80.6,124.6 81,124.5 81.4,124.4 81.8,124.2 82.2,124.1 82.6,124 83,123.8 83.4,123.7 83.8,123.6 84.2,123.4 84.6,123.3 85,123.1 85.5,123 85.9,122.8 86.3,122.6 86.7,122.5 87.1,122.3 87.5,122.1 87.9,122 88.3,121.8 88.7,121.6 89.1,121.4 89.5,121.2 89.9,121 90.3,120.8 90.7,120.6 91.1,120.3 91.5,120.1 91.9,119.9 92.3,119.7 92.7,119.4 93.2,119.2 93.6,118.9 94,118.7 94.4,118.4 94.8,118.1 95.2,117.9 95.6,117.6 96,117.3 96.4,117 96.8,116.7 97.2,116.4 97.6,116.1 98,115.8 98.4,115.5 98.8,115.1 99.2,114.8 99.6,114.5 100,114.1 100.4,113.8 100.8,113.4 101.2,113 101.7,112.6 102.1,112.3 102.5,111.9 102.9,111.5 103.3,111.1 103.7,110.6 104.1,110.2 104.5,109.8 104.9,109.3 105.3,108.9 105.7,108.4 106.1,108 106.5,107.5 106.9,107 107.3,106.5 107.7,106.1 108.1,105.6 108.5,105 108.9,104.5 109.3,104 109.8,103.5 110.2,102.9 110.6,102.4 111,101.8 111.4,101.3 111.8,100.7 112.2,100.1 112.6,99.5 113,99 113.4,98.4 113.8,97.8 114.2,97.1 114.6,96.5 115,95.9 115.4,95.3 115.8,94.6 116.2,94 116.6,93.3 117,92.7 117.5,92 117.9,91.4 118.3,90.7 118.7,90 119.1,89.3 119.5,88.6 119.9,87.9 120.3,87.3 120.7,86.6 121.1,85.9 121.5,85.1 121.9,84.4 122.3,83.7 122.7,83 123.1,82.3 123.5,81.6 123.9,80.9 124.3,80.1 124.7,79.4 125.1,78.7 125.5,78 126,77.2 126.4,76.5 126.8,75.8 127.2,75 127.6,74.3 128,73.6 128.4,72.9 128.8,72.1 129.2,71.4 129.6,70.7 130,70 130.4,69.3 130.8,68.6 131.2,67.9 131.6,67.1 132,66.4 132.4,65.7 132.8,65.1 133.2,64.4 133.7,63.7 134.1,63 134.5,62.3 134.9,61.6 135.3,61 135.7,60.3 136.1,59.7 136.5,59 136.9,58.4 137.3,57.7 137.7,57.1 138.1,56.5 138.5,55.9 138.9,55.2 139.3,54.6 139.7,54 140.1,53.5 140.5,52.9 140.9,52.3 141.3,51.7 141.8,51.2 142.2,50.6 142.6,50.1 143,49.5 143.4,49 143.8,48.5 144.2,48 144.6,47.4 145,46.9 145.4,46.5 145.8,46 146.2,45.5 146.6,45 147,44.6 147.4,44.1 147.8,43.7 148.2,43.2 148.6,42.8 149,42.4 149.4,41.9 149.9,41.5 150.3,41.1 150.7,40.7 151.1,40.4 151.5,40 151.9,39.6 152.3,39.2 152.7,38.9 153.1,38.5 153.5,38.2 153.9,37.9 154.3,37.5 154.7,37.2 155.1,36.9 155.5,36.6 155.9,36.3 156.3,36 156.7,35.7 157.1,35.4 157.5,35.1 157.9,34.9 158.4,34.6 158.8,34.3 159.2,34.1 159.6,33.8 160,33.6 160.4,33.3 160.8,33.1 161.2,32.9 161.6,32.7 162,32.4 162.4,32.2 162.8,32 163.2,31.8 163.6,31.6 164,31.4 164.4,31.2 164.8,31 165.2,30.9 165.6,30.7 166.1,30.5 166.5,30.4 166.9,30.2 167.3,30 167.7,29.9 168.1,29.7 168.5,29.6 168.9,29.4 169.3,29.3 169.7,29.2 170.1,29 170.5,28.9 170.9,28.8 171.3,28.6 171.7,28.5 172.1,28.4 172.5,28.3 172.9,28.2 173.3,28.1 173.7,28 174.2,27.8 174.6,27.7 175,27.6 175.4,27.6 175.8,27.5 176.2,27.4 176.6,27.3 177,27.2 177.4,27.1 177.8,27 178.2,26.9 178.6,26.9 179,26.8 179.4,26.7 179.8,26.6 180.2,26.6 180.6,26.5 181,26.4 181.4,26.4 181.8,26.3 182.2,26.2 182.7,26.2 183.1,26.1 183.5,26.1 183.9,26 184.3,26 184.7,25.9 185.1,25.9 185.5,25.8 185.9,25.8 186.3,25.7 186.7,25.7 187.1,25.6 187.5,25.6 187.9,25.5 188.3,25.5 188.7,25.5 189.1,25.4 189.5,25.4 189.9,25.3 190.3,25.3 190.8,25.3 191.2,25.2 191.6,25.2 192,25.2 192.4,25.1 192.8,25.1 193.2,25.1 193.6,25 194,25 194.4,25 194.8,25 195.2,24.9 195.6,24.9 196,24.9 196.4,24.9 196.8,24.8 197.2,24.8 197.6,24.8 198,24.8 198.5,24.8 198.9,24.7 199.3,24.7 199.7,24.7 200.1,24.7 200.5,24.7 200.9,24.6 201.3,24.6 201.7,24.6 202.1,24.6 202.5,24.6 202.9,24.6 203.3,24.5 203.7,24.5 204.1,24.5 204.5,24.5 204.9,24.5 205.3,24.5 205.7,24.5 206.1,24.4 206.6,24.4 207,24.4 207.4,24.4 207.8,24.4 208.2,24.4 208.6,24.4 209,24.4 209.4,24.4 209.8,24.3 210.2,24.3 210.6,24.3 211,24.3 211.4,24.3 211.8,24.3 212.2,24.3 212.6,24.3 213,24.3 213.4,24.3 213.8,24.3 214.2,24.3 214.7,24.2 215.1,24.2 215.5,24.2 215.9,24.2 216.3,24.2 216.7,24.2 217.1,24.2 217.5,24.2 217.9,24.2 218.3,24.2 218.7,24.2 219.1,24.2 219.5,24.2 219.9,24.2 220.3,24.2 220.7,24.2 221.1,24.2 221.5,24.2 221.9,24.2 222.3,24.1 222.8,24.1 223.2,24.1 223.6,24.1 224,24.1 224.4,24.1 224.8,24.1 225.2,24.1 225.6,24.1 226,24.1 226.4,24.1 226.8,24.1 227.2,24.1 227.6,24.1 228,24.1 228.4,24.1 228.8,24.1 229.2,24.1 229.6,24.1 230,24.1 230.4,24.1 230.8,24.1 231.3,24.1 231.7,24.1 232.1,24.1 232.5,24.1 232.9,24.1 233.3,24.1 233.7,24.1 234.1,24.1 234.5,24.1 234.9,24.1 235.3,24.1 235.7,24.1 236.1,24.1 236.5,24.1 236.9,24.1 237.3,24.1 237.7,24.1 238.1,24.1 238.5,24 238.9,24 239.4,24 239.8,24 240.2,24 240.6,24 241,24 241.4,24 241.8,24 242.2,24 242.6,24 243,24 243.4,24 243.8,24 244.2,24 244.6,24 245,24 245.4,24 245.8,24 246.2,24 246.6,24 247,24 247.5,24 247.9,24 248.3,24 248.7,24 249.1,24 249.5,24 249.9,24 250.3,24 250.7,24 251.1,24 251.5,24 251.9,24 252.3,24 252.7,24 253.1,24 253.5,24 253.9,24 254.3,24 254.7,24 255.2,24 255.6,24 256,24 256.4,24 256.8,24 257.2,24 257.6,24 258,24 258.4,24 258.8,24 259.2,24 259.6,24 260,24 260.4,24 260.8,24 261.2,24 261.6,24 262,24 262.4,24 262.8,24 263.2,24 263.7,24 264.1,24 264.5,24 264.9,24 265.3,24 265.7,24 266.1,24 266.5,24 266.9,24 267.3,24 267.7,24 268.1,24 268.5,24 268.9,24 269.3,24 269.7,24 270.1,24 270.5,24 270.9,24 271.4,24 271.8,24 272.2,24 272.6,24 273,24 273.4,24 273.8,24 274.2,24 274.6,24 275,24 275.4,24 275.8,24 276.2,24 276.6,24 277,24 277.4,24 277.8,24 278.2,24 278.6,24 279,24 279.4,24 279.9,24 280.3,24 280.7,24 281.1,24 281.5,24 281.9,24 282.3,24 282.7,24 283.1,24 283.5,24" fill="none" stroke="#95cfd3" stroke-width="1.65" stroke-linejoin="round"/>
<polyline points="40.5,129 40.9,129 41.3,129 41.7,129 42.1,129 42.5,129 42.9,129 43.3,129 43.7,129 44.1,129 44.5,129 45,129 45.4,129 45.8,129 46.2,129 46.6,129 47,129 47.4,129 47.8,129 48.2,129 48.6,129 49,129 49.4,129 49.8,129 50.2,129 50.6,129 51,129 51.4,129 51.8,129 52.2,129 52.6,129 53.1,129 53.5,129 53.9,129 54.3,129 54.7,129 55.1,129 55.5,129 55.9,129 56.3,129 56.7,129 57.1,129 57.5,129 57.9,129 58.3,129 58.7,129 59.1,129 59.5,129 59.9,129 60.3,129 60.8,129 61.2,129 61.6,129 62,129 62.4,129 62.8,129 63.2,129 63.6,129 64,129 64.4,129 64.8,129 65.2,129 65.6,129 66,129 66.4,129 66.8,129 67.2,129 67.6,129 68,129 68.4,129 68.8,129 69.3,129 69.7,129 70.1,129 70.5,129 70.9,129 71.3,129 71.7,129 72.1,129 72.5,129 72.9,129 73.3,129 73.7,129 74.1,129 74.5,129 74.9,129 75.3,129 75.7,129 76.1,129 76.5,129 76.9,129 77.4,129 77.8,129 78.2,129 78.6,129 79,129 79.4,129 79.8,129 80.2,129 80.6,129 81,129 81.4,129 81.8,129 82.2,129 82.6,129 83,129 83.4,129 83.8,129 84.2,129 84.6,129 85,129 85.5,129 85.9,129 86.3,129 86.7,129 87.1,129 87.5,129 87.9,129 88.3,129 88.7,129 89.1,129 89.5,129 89.9,129 90.3,129 90.7,129 91.1,129 91.5,129 91.9,129 92.3,129 92.7,129 93.2,129 93.6,129 94,129 94.4,129 94.8,129 95.2,129 95.6,129 96,129 96.4,129 96.8,129 97.2,129 97.6,129 98,129 98.4,129 98.8,129 99.2,129 99.6,129 100,129 100.4,129 100.8,129 101.2,129 101.7,129 102.1,129 102.5,129 102.9,129 103.3,129 103.7,129 104.1,129 104.5,129 104.9,129 105.3,129 105.7,129 106.1,129 106.5,129 106.9,129 107.3,129 107.7,129 108.1,129 108.5,129 108.9,129 109.3,129 109.8,129 110.2,129 110.6,129 111,129 111.4,129 111.8,129 112.2,129 112.6,129 113,129 113.4,129 113.8,129 114.2,129 114.6,129 115,129 115.4,129 115.8,129 116.2,129 116.6,129 117,129 117.5,129 117.9,129 118.3,129 118.7,129 119.1,129 119.5,129 119.9,129 120.3,129 120.7,129 121.1,129 121.5,129 121.9,128.8 122.3,128.6 122.7,128.4 123.1,128.2 123.5,128 123.9,127.7 124.3,127.5 124.7,127.3 125.1,127.1 125.5,126.9 126,126.7 126.4,126.5 126.8,126.3 127.2,126.1 127.6,125.8 128,125.6 128.4,125.4 128.8,125.2 129.2,125 129.6,124.8 130,124.6 130.4,124.4 130.8,124.2 131.2,124 131.6,123.8 132,123.5 132.4,123.3 132.8,123.1 133.2,122.9 133.7,122.7 134.1,122.5 134.5,122.3 134.9,122.1 135.3,121.9 135.7,121.7 136.1,121.4 136.5,121.2 136.9,121 137.3,120.8 137.7,120.6 138.1,120.4 138.5,120.2 138.9,120 139.3,119.8 139.7,119.5 140.1,119.3 140.5,119.1 140.9,118.9 141.3,118.7 141.8,118.5 142.2,118.3 142.6,118.1 143,117.9 143.4,117.7 143.8,117.5 144.2,117.2 144.6,117 145,116.8 145.4,116.6 145.8,116.4 146.2,116.2 146.6,116 147,115.8 147.4,115.6 147.8,115.3 148.2,115.1 148.6,114.9 149,114.7 149.4,114.5 149.9,114.3 150.3,114.1 150.7,113.9 151.1,113.7 151.5,113.5 151.9,113.2 152.3,113 152.7,112.8 153.1,112.6 153.5,112.4 153.9,112.2 154.3,112 154.7,111.8 155.1,111.6 155.5,111.4 155.9,111.2 156.3,110.9 156.7,110.7 157.1,110.5 157.5,110.3 157.9,110.1 158.4,109.9 158.8,109.7 159.2,109.5 159.6,109.3 160,109 160.4,108.8 160.8,108.6 161.2,108.4 161.6,108.2 162,108 162.4,107.6 162.8,107.2 163.2,106.7 163.6,106.3 164,105.9 164.4,105.5 164.8,105.1 165.2,104.6 165.6,104.2 166.1,103.8 166.5,103.4 166.9,103 167.3,102.5 167.7,102.1 168.1,101.7 168.5,101.3 168.9,100.9 169.3,100.4 169.7,100 170.1,99.6 170.5,99.2 170.9,98.8 171.3,98.3 171.7,97.9 172.1,97.5 172.5,97.1 172.9,96.7 173.3,96.2 173.7,95.8 174.2,95.4 174.6,95 175,94.6 175.4,94.1 175.8,93.7 176.2,93.3 176.6,92.9 177,92.5 177.4,92 177.8,91.6 178.2,91.2 178.6,90.8 179,90.4 179.4,89.9 179.8,89.5 180.2,89.1 180.6,88.7 181,88.3 181.4,87.8 181.8,87.4 182.2,87 182.7,86.6 183.1,86.2 183.5,85.7 183.9,85.3 184.3,84.9 184.7,84.5 185.1,84.1 185.5,83.6 185.9,83.2 186.3,82.8 186.7,82.4 187.1,82 187.5,81.5 187.9,81.1 188.3,80.7 188.7,80.3 189.1,79.9 189.5,79.4 189.9,79 190.3,78.6 190.8,78.2 191.2,77.8 191.6,77.3 192,76.9 192.4,76.5 192.8,76.1 193.2,75.7 193.6,75.2 194,74.8 194.4,74.4 194.8,74 195.2,73.6 195.6,73.1 196,72.7 196.4,72.3 196.8,71.9 197.2,71.5 197.6,71 198,70.6 198.5,70.2 198.9,69.8 199.3,69.4 199.7,68.9 200.1,68.5 200.5,68.1 200.9,67.7 201.3,67.3 201.7,66.8 202.1,66.4 202.5,66 202.9,65.6 203.3,65.2 203.7,64.7 204.1,64.3 204.5,63.9 204.9,63.5 205.3,63.1 205.7,62.6 206.1,62.2 206.6,61.8 207,61.4 207.4,61 207.8,60.5 208.2,60.1 208.6,59.7 209,59.3 209.4,58.9 209.8,58.4 210.2,58 210.6,57.6 211,57.2 211.4,56.8 211.8,56.3 212.2,55.9 212.6,55.5 213,55.1 213.4,54.7 213.8,54.2 214.2,53.8 214.7,53.4 215.1,53 215.5,52.6 215.9,52.1 216.3,51.7 216.7,51.3 217.1,50.9 217.5,50.5 217.9,50 218.3,49.6 218.7,49.2 219.1,48.8 219.5,48.4 219.9,47.9 220.3,47.5 220.7,47.1 221.1,46.7 221.5,46.3 221.9,45.8 222.3,45.4 222.8,45 223.2,44.6 223.6,44.2 224,43.7 224.4,43.3 224.8,42.9 225.2,42.5 225.6,42.1 226,41.6 226.4,41.2 226.8,40.8 227.2,40.4 227.6,40 228,39.5 228.4,39.1 228.8,38.7 229.2,38.3 229.6,37.9 230,37.4 230.4,37 230.8,36.6 231.3,36.2 231.7,35.8 232.1,35.3 232.5,34.9 232.9,34.5 233.3,34.1 233.7,33.7 234.1,33.2 234.5,32.8 234.9,32.4 235.3,32 235.7,31.6 236.1,31.1 236.5,30.7 236.9,30.3 237.3,29.9 237.7,29.5 238.1,29 238.5,28.6 238.9,28.2 239.4,27.8 239.8,27.4 240.2,26.9 240.6,26.5 241,26.1 241.4,25.7 241.8,25.3 242.2,24.8 242.6,24.4 243,24 243.4,24 243.8,24 244.2,24 244.6,24 245,24 245.4,24 245.8,24 246.2,24 246.6,24 247,24 247.5,24 247.9,24 248.3,24 248.7,24 249.1,24 249.5,24 249.9,24 250.3,24 250.7,24 251.1,24 251.5,24 251.9,24 252.3,24 252.7,24 253.1,24 253.5,24 253.9,24 254.3,24 254.7,24 255.2,24 255.6,24 256,24 256.4,24 256.8,24 257.2,24 257.6,24 258,24 258.4,24 258.8,24 259.2,24 259.6,24 260,24 260.4,24 260.8,24 261.2,24 261.6,24 262,24 262.4,24 262.8,24 263.2,24 263.7,24 264.1,24 264.5,24 264.9,24 265.3,24 265.7,24 266.1,24 266.5,24 266.9,24 267.3,24 267.7,24 268.1,24 268.5,24 268.9,24 269.3,24 269.7,24 270.1,24 270.5,24 270.9,24 271.4,24 271.8,24 272.2,24 272.6,24 273,24 273.4,24 273.8,24 274.2,24 274.6,24 275,24 275.4,24 275.8,24 276.2,24 276.6,24 277,24 277.4,24 277.8,24 278.2,24 278.6,24 279,24 279.4,24 279.9,24 280.3,24 280.7,24 281.1,24 281.5,24 281.9,24 282.3,24 282.7,24 283.1,24 283.5,24" fill="none" stroke="#a5651f" stroke-width="1.65" stroke-linejoin="round"/>
<polyline points="40.5,129 40.9,129 41.3,129 41.7,129 42.1,129 42.5,129 42.9,129 43.3,129 43.7,129 44.1,129 44.5,129 45,129 45.4,129 45.8,129 46.2,129 46.6,129 47,129 47.4,129 47.8,129 48.2,129 48.6,129 49,129 49.4,129 49.8,129 50.2,129 50.6,129 51,129 51.4,129 51.8,129 52.2,129 52.6,129 53.1,129 53.5,129 53.9,129 54.3,129 54.7,129 55.1,129 55.5,129 55.9,129 56.3,129 56.7,129 57.1,129 57.5,129 57.9,129 58.3,129 58.7,129 59.1,129 59.5,129 59.9,129 60.3,129 60.8,129 61.2,128.3 61.6,127.5 62,126.8 62.4,126 62.8,125.3 63.2,124.5 63.6,123.8 64,123 64.4,122.3 64.8,121.5 65.2,120.8 65.6,120 66,119.3 66.4,118.5 66.8,117.8 67.2,117 67.6,116.3 68,115.5 68.4,114.8 68.8,114 69.3,113.3 69.7,112.5 70.1,111.8 70.5,111 70.9,110.3 71.3,109.5 71.7,108.8 72.1,108.1 72.5,107.3 72.9,106.6 73.3,105.8 73.7,105.1 74.1,104.3 74.5,103.6 74.9,102.8 75.3,102.1 75.7,101.3 76.1,100.6 76.5,99.8 76.9,99.1 77.4,98.3 77.8,97.6 78.2,96.8 78.6,96.1 79,95.3 79.4,94.6 79.8,93.8 80.2,93.1 80.6,92.3 81,91.6 81.4,90.8 81.8,90.1 82.2,89.3 82.6,88.6 83,87.9 83.4,87.1 83.8,86.4 84.2,85.6 84.6,84.9 85,84.1 85.5,83.4 85.9,82.6 86.3,81.9 86.7,81.1 87.1,80.4 87.5,79.6 87.9,78.9 88.3,78.1 88.7,77.4 89.1,76.6 89.5,75.9 89.9,75.1 90.3,74.4 90.7,73.6 91.1,72.9 91.5,72.1 91.9,71.4 92.3,70.6 92.7,69.9 93.2,69.2 93.6,69.2 94,69.2 94.4,69.2 94.8,69.2 95.2,69.2 95.6,69.2 96,69.2 96.4,69.2 96.8,69.2 97.2,69.2 97.6,69.2 98,69.2 98.4,69.2 98.8,69.2 99.2,69.2 99.6,69.2 100,69.2 100.4,69.2 100.8,69.2 101.2,69.2 101.7,69.2 102.1,69.2 102.5,69.2 102.9,69.2 103.3,69.2 103.7,69.2 104.1,69.2 104.5,69.2 104.9,69.2 105.3,69.2 105.7,69.2 106.1,69.2 106.5,69.2 106.9,69.2 107.3,69.2 107.7,69.2 108.1,69.2 108.5,69.2 108.9,69.2 109.3,69.2 109.8,69.2 110.2,69.2 110.6,69.2 111,69.2 111.4,69.2 111.8,69.2 112.2,69.2 112.6,69.2 113,69.2 113.4,69.2 113.8,69.2 114.2,69.2 114.6,69.2 115,69.2 115.4,69.2 115.8,69.2 116.2,69.2 116.6,69.2 117,69.2 117.5,69.2 117.9,69.2 118.3,69.2 118.7,69.2 119.1,69.2 119.5,69.2 119.9,69.2 120.3,69.2 120.7,69.2 121.1,69.2 121.5,69.2 121.9,69.2 122.3,69.2 122.7,69.2 123.1,69.2 123.5,69.2 123.9,69.2 124.3,69.2 124.7,69.2 125.1,69.2 125.5,69.2 126,69.2 126.4,69.2 126.8,69.2 127.2,69.2 127.6,69.2 128,69.2 128.4,69.2 128.8,69.2 129.2,69.2 129.6,69.2 130,69.2 130.4,69.2 130.8,69.2 131.2,69.2 131.6,69.2 132,69.2 132.4,69.2 132.8,69.2 133.2,69.2 133.7,69.2 134.1,69.2 134.5,69.2 134.9,69.2 135.3,69.2 135.7,69.2 136.1,69.2 136.5,69.2 136.9,69.2 137.3,69.2 137.7,69.2 138.1,69.2 138.5,69.2 138.9,69.2 139.3,69.2 139.7,69.2 140.1,69.2 140.5,69.2 140.9,69.2 141.3,69.2 141.8,69.2 142.2,69.2 142.6,69.2 143,69.2 143.4,69.2 143.8,69.2 144.2,69.2 144.6,69.2 145,69.2 145.4,69.2 145.8,69.2 146.2,69.2 146.6,69.2 147,69.2 147.4,69.2 147.8,69.2 148.2,69.2 148.6,69.2 149,69.2 149.4,69.2 149.9,69.2 150.3,69.2 150.7,69.2 151.1,69.2 151.5,69.2 151.9,69.2 152.3,69.2 152.7,69.2 153.1,69.2 153.5,69.2 153.9,69.2 154.3,69.2 154.7,69.2 155.1,69.2 155.5,69.2 155.9,69.2 156.3,69.2 156.7,69.2 157.1,69.2 157.5,69.2 157.9,69.2 158.4,69.2 158.8,69.2 159.2,69.2 159.6,69.2 160,69.2 160.4,69.2 160.8,69.2 161.2,69.2 161.6,69.2 162,69.2 162.4,69.2 162.8,69.2 163.2,69.2 163.6,69.2 164,69.2 164.4,69.2 164.8,69.2 165.2,69.2 165.6,69.2 166.1,69.2 166.5,69.2 166.9,69.2 167.3,69.2 167.7,69.2 168.1,69.2 168.5,69.2 168.9,69.2 169.3,69.2 169.7,69.2 170.1,69.2 170.5,69.2 170.9,69.2 171.3,69.2 171.7,69.2 172.1,69.2 172.5,69.2 172.9,69.2 173.3,69.2 173.7,69.2 174.2,69.2 174.6,69.2 175,69.2 175.4,69.2 175.8,69.2 176.2,69.2 176.6,69.2 177,69.2 177.4,69.2 177.8,69.2 178.2,69.2 178.6,69.2 179,69.2 179.4,69.2 179.8,69.2 180.2,69.2 180.6,69.2 181,69.2 181.4,69.2 181.8,69.2 182.2,69.2 182.7,69.2 183.1,69.2 183.5,69.2 183.9,69.2 184.3,69.2 184.7,69.2 185.1,69.2 185.5,69.2 185.9,69.2 186.3,69.2 186.7,69.2 187.1,69.2 187.5,69.2 187.9,69.2 188.3,69.2 188.7,69.2 189.1,69.2 189.5,69.2 189.9,69.2 190.3,69.2 190.8,69.2 191.2,69.2 191.6,69.2 192,69.2 192.4,69.2 192.8,69.2 193.2,69.2 193.6,69.2 194,69.2 194.4,69.2 194.8,69.2 195.2,69.2 195.6,69.2 196,69.2 196.4,69.2 196.8,69.2 197.2,69.2 197.6,69.2 198,69.2 198.5,69.2 198.9,69.2 199.3,69.2 199.7,69.2 200.1,69.2 200.5,69.2 200.9,69.2 201.3,69.2 201.7,69.2 202.1,69.2 202.5,69.2 202.9,69.2 203.3,69.2 203.7,69.2 204.1,69.2 204.5,69.2 204.9,69.2 205.3,69.2 205.7,69.2 206.1,69.2 206.6,69.2 207,69.2 207.4,69.2 207.8,69.2 208.2,69.2 208.6,69.2 209,69.2 209.4,69.2 209.8,69.2 210.2,69.2 210.6,69.2 211,69.2 211.4,69.2 211.8,69.2 212.2,69.2 212.6,69.2 213,69.2 213.4,69.2 213.8,69.2 214.2,69.2 214.7,69.2 215.1,69.2 215.5,69.2 215.9,69.2 216.3,69.2 216.7,69.2 217.1,69.2 217.5,69.2 217.9,69.2 218.3,69.2 218.7,69.2 219.1,69.2 219.5,69.2 219.9,69.2 220.3,69.2 220.7,69.2 221.1,69.2 221.5,69.2 221.9,69.2 222.3,69.2 222.8,69.2 223.2,69.2 223.6,69.2 224,69.2 224.4,69.2 224.8,69.2 225.2,69.2 225.6,69.2 226,69.2 226.4,69.2 226.8,69.2 227.2,69.2 227.6,69.2 228,69.2 228.4,69.2 228.8,69.2 229.2,69.2 229.6,69.2 230,69.2 230.4,69.2 230.8,69.2 231.3,69.2 231.7,69.2 232.1,69.2 232.5,69.2 232.9,69.2 233.3,69.2 233.7,69.2 234.1,69.2 234.5,69.2 234.9,69.2 235.3,69.2 235.7,69.2 236.1,69.2 236.5,69.2 236.9,69.2 237.3,69.2 237.7,69.2 238.1,69.2 238.5,69.2 238.9,69.2 239.4,69.2 239.8,69.2 240.2,69.2 240.6,69.2 241,69.2 241.4,69.2 241.8,69.2 242.2,69.2 242.6,69.2 243,69.2 243.4,69.2 243.8,69.2 244.2,69.2 244.6,69.2 245,69.2 245.4,69.2 245.8,69.2 246.2,69.2 246.6,69.2 247,69.2 247.5,69.2 247.9,69.2 248.3,69.2 248.7,69.2 249.1,69.2 249.5,69.2 249.9,69.2 250.3,69.2 250.7,69.2 251.1,69.2 251.5,69.2 251.9,69.2 252.3,69.2 252.7,69.2 253.1,69.2 253.5,69.2 253.9,69.2 254.3,69.2 254.7,69.2 255.2,69.2 255.6,69.2 256,69.2 256.4,69.2 256.8,69.2 257.2,69.2 257.6,69.2 258,69.2 258.4,69.2 258.8,69.2 259.2,69.2 259.6,69.2 260,69.2 260.4,69.2 260.8,69.2 261.2,69.2 261.6,69.2 262,69.2 262.4,69.2 262.8,69.2 263.2,69.2 263.7,69.2 264.1,69.2 264.5,69.2 264.9,69.2 265.3,69.2 265.7,69.2 266.1,69.2 266.5,69.2 266.9,69.2 267.3,69.2 267.7,69.2 268.1,69.2 268.5,69.2 268.9,69.2 269.3,69.2 269.7,69.2 270.1,69.2 270.5,69.2 270.9,69.2 271.4,69.2 271.8,69.2 272.2,69.2 272.6,69.2 273,69.2 273.4,69.2 273.8,69.2 274.2,69.2 274.6,69.2 275,69.2 275.4,69.2 275.8,69.2 276.2,69.2 276.6,69.2 277,69.2 277.4,69.2 277.8,69.2 278.2,69.2 278.6,69.2 279,69.2 279.4,69.2 279.9,69.2 280.3,69.2 280.7,69.2 281.1,69.2 281.5,69.2 281.9,69.2 282.3,69.2 282.7,69.2 283.1,69.2 283.5,69.2" fill="none" stroke="#35a186" stroke-width="1.65" stroke-linejoin="round"/>
<text x="162" y="152.6" font-size="7.25" text-anchor="middle" fill="#111" stroke="#111" stroke-width="0.15">Water depth (cm)</text>
<text x="16.4" y="76.5" font-size="7.3" text-anchor="middle" fill="#111" transform="rotate(-90 16.4 76.5)" stroke="#111" stroke-width="0.15">Percentage of yield loss</text>
<rect x="296.8" y="23.2" width="191.6" height="89.8" fill="#fff" stroke="#333" stroke-width="0.9"/>
<text x="300.2" y="32.6" font-size="7.1" text-anchor="start" fill="#111" stroke="#111" stroke-width="0.15">Flood damage models for rice</text>
<line x1="300.8" y1="41.9" x2="309.2" y2="41.9" stroke="#f98b60" stroke-width="1.7"/>
<text x="313.6" y="44" font-size="6.02" text-anchor="start" fill="#222" stroke="#222" stroke-width="0.15">Indonesia (Hendrawan and Komori 2021)</text>
<line x1="300.8" y1="52.4" x2="309.2" y2="52.4" stroke="#fdae5c" stroke-width="1.7"/>
<text x="313.6" y="54.5" font-size="6.02" text-anchor="start" fill="#222" stroke="#222" stroke-width="0.15">Thailand (13 d) (Mekong River Commission Secretariat, 2009)</text>
<line x1="300.8" y1="62.9" x2="309.2" y2="62.9" stroke="#2f87c8" stroke-width="1.7"/>
<text x="313.6" y="65" font-size="6.02" text-anchor="start" fill="#222" stroke="#222" stroke-width="0.15">Vietnam (maturity stage, quadratic) (Nguyen et al., 2017)</text>
<line x1="300.8" y1="73.5" x2="309.2" y2="73.5" stroke="#123f88" stroke-width="1.7"/>
<text x="313.6" y="75.6" font-size="6.02" text-anchor="start" fill="#222" stroke="#222" stroke-width="0.15">Vietnam (maturity stage, exponential) (Nguyen et al., 2017)</text>
<line x1="300.8" y1="84" x2="309.2" y2="84" stroke="#95cfd3" stroke-width="1.7"/>
<text x="313.6" y="86.1" font-size="6.02" text-anchor="start" fill="#222" stroke="#222" stroke-width="0.15">Vietnam (maturity stage, s−shaped) (Nguyen et al., 2017)</text>
<line x1="300.8" y1="94.5" x2="309.2" y2="94.5" stroke="#a5651f" stroke-width="1.7"/>
<text x="313.6" y="96.6" font-size="6.02" text-anchor="start" fill="#222" stroke="#222" stroke-width="0.15">India (maturity stage) (Huizinga et al., 2017)</text>
<line x1="300.8" y1="105" x2="309.2" y2="105" stroke="#35a186" stroke-width="1.7"/>
<text x="313.6" y="107.1" font-size="6.02" text-anchor="start" fill="#222" stroke="#222" stroke-width="0.15">Myanmar (maturity stage, 7 d) (Shrestha et al., 2021)</text>
<line x1="50.6" y1="295.3" x2="240.5" y2="295.3" stroke="#f3f3f3" stroke-width="0.8"/>
<line x1="50.6" y1="272.4" x2="240.5" y2="272.4" stroke="#f3f3f3" stroke-width="0.8"/>
<line x1="50.6" y1="249.6" x2="240.5" y2="249.6" stroke="#f3f3f3" stroke-width="0.8"/>
<line x1="50.6" y1="226.8" x2="240.5" y2="226.8" stroke="#f3f3f3" stroke-width="0.8"/>
<line x1="50.6" y1="203.9" x2="240.5" y2="203.9" stroke="#f3f3f3" stroke-width="0.8"/>
<line x1="63.7" y1="190.6" x2="63.7" y2="306.7" stroke="#f3f3f3" stroke-width="0.8"/>
<line x1="90.4" y1="190.6" x2="90.4" y2="306.7" stroke="#f3f3f3" stroke-width="0.8"/>
<line x1="117.7" y1="190.6" x2="117.7" y2="306.7" stroke="#f3f3f3" stroke-width="0.8"/>
<line x1="145" y1="190.6" x2="145" y2="306.7" stroke="#f3f3f3" stroke-width="0.8"/>
<line x1="172.3" y1="190.6" x2="172.3" y2="306.7" stroke="#f3f3f3" stroke-width="0.8"/>
<line x1="199.6" y1="190.6" x2="199.6" y2="306.7" stroke="#f3f3f3" stroke-width="0.8"/>
<line x1="226.9" y1="190.6" x2="226.9" y2="306.7" stroke="#f3f3f3" stroke-width="0.8"/>
<line x1="50.6" y1="306.7" x2="240.5" y2="306.7" stroke="#ebebeb" stroke-width="1"/>
<line x1="50.6" y1="283.9" x2="240.5" y2="283.9" stroke="#ebebeb" stroke-width="1"/>
<line x1="50.6" y1="261" x2="240.5" y2="261" stroke="#ebebeb" stroke-width="1"/>
<line x1="50.6" y1="238.2" x2="240.5" y2="238.2" stroke="#ebebeb" stroke-width="1"/>
<line x1="50.6" y1="215.3" x2="240.5" y2="215.3" stroke="#ebebeb" stroke-width="1"/>
<line x1="50.6" y1="192.5" x2="240.5" y2="192.5" stroke="#ebebeb" stroke-width="1"/>
<line x1="50.6" y1="190.6" x2="50.6" y2="306.7" stroke="#ebebeb" stroke-width="1"/>
<line x1="76.8" y1="190.6" x2="76.8" y2="306.7" stroke="#ebebeb" stroke-width="1"/>
<line x1="104.1" y1="190.6" x2="104.1" y2="306.7" stroke="#ebebeb" stroke-width="1"/>
<line x1="131.4" y1="190.6" x2="131.4" y2="306.7" stroke="#ebebeb" stroke-width="1"/>
<line x1="158.6" y1="190.6" x2="158.6" y2="306.7" stroke="#ebebeb" stroke-width="1"/>
<line x1="185.9" y1="190.6" x2="185.9" y2="306.7" stroke="#ebebeb" stroke-width="1"/>
<line x1="213.2" y1="190.6" x2="213.2" y2="306.7" stroke="#ebebeb" stroke-width="1"/>
<line x1="240.5" y1="190.6" x2="240.5" y2="306.7" stroke="#ebebeb" stroke-width="1"/>
<polyline points="50.6,280.3 50.8,279.2 51,277.8 51.3,276.4 51.7,274.5 52.2,272.5 52.8,270.9 54.2,267.5 55.6,264.9 57,262.7 58.4,260.9 59.8,259.2 61.3,257.8 62.7,256.4 64.1,255.1 65.5,253.9 66.9,252.8 68.3,251.8 69.7,250.8 71.2,249.8 72.6,248.9 74,248 75.4,247.1 76.8,246.3 78.2,245.4 79.6,244.6 81,243.9 82.5,243.1 83.9,242.4 85.3,241.6 86.7,240.9 88.1,240.2 89.5,239.5 90.9,238.9 92.3,238.2 93.8,237.5 95.2,236.9 96.6,236.2 98,235.6 99.4,235 100.8,234.4 102.2,233.8 103.7,233.2 105.1,232.6 106.5,232 107.9,231.4 109.3,230.8 110.7,230.2 112.1,229.7 113.5,229.1 115,228.5 116.4,227.9 117.8,227.4 119.2,226.8 120.6,226.2 122,225.6 123.4,225 124.8,224.5 126.3,223.9 127.7,223.3 129.1,222.8 130.5,222.2 131.9,221.7 133.3,221.1 134.7,220.6 136.2,220 137.6,219.5 139,218.9 140.4,218.4 141.8,217.8 143.2,217.3 144.6,216.8 146,216.2 147.5,215.7 148.9,215.2 150.3,214.7 151.7,214.1 153.1,213.6 154.5,213.1 155.9,212.6 157.3,212.1 158.8,211.5 160.2,211.1 161.6,210.6 163,210.1 164.4,209.6 165.8,209.2 167.2,208.7 168.7,208.2 170.1,207.8 171.5,207.3 172.9,206.8 174.3,206.4 175.7,205.9 177.1,205.5 178.5,205 180,204.5 181.4,204.1 182.8,203.6 184.2,203.2 185.6,202.7 187,202.3 188.4,201.8 189.8,201.4 191.3,200.9 192.7,200.5 194.1,200 195.5,199.6 196.9,199.1 198.3,198.7 199.7,198.3 201.2,197.9 202.6,197.5 204,197.1 205.4,196.8 206.8,196.4 208.2,196 209.6,195.6 211,195.2 212.5,194.8 213.9,194.4 215.3,194 216.7,193.6 218.1,193.3 219.5,192.9 220.9,192.5 240.5,192.5" fill="none" stroke="#a3a3a3" stroke-width="1.9" stroke-linejoin="round"/>
<rect x="50.6" y="190.6" width="189.9" height="116.1" fill="none" stroke="#a0a0a0" stroke-width="0.9"/>
<line x1="50.6" y1="190.6" x2="50.6" y2="306.7" stroke="#8a8a8a" stroke-width="1"/>
<line x1="50.6" y1="306.7" x2="240.5" y2="306.7" stroke="#8a8a8a" stroke-width="1"/>
<line x1="48.8" y1="306.7" x2="50.6" y2="306.7" stroke="#8a8a8a" stroke-width="0.9"/>
<text x="47" y="309.6" font-size="8.0" text-anchor="end" fill="#4d4d4d" stroke="#4d4d4d" stroke-width="0.15">0%</text>
<line x1="48.8" y1="283.9" x2="50.6" y2="283.9" stroke="#8a8a8a" stroke-width="0.9"/>
<text x="47" y="286.7" font-size="8.0" text-anchor="end" fill="#4d4d4d" stroke="#4d4d4d" stroke-width="0.15">20%</text>
<line x1="48.8" y1="261" x2="50.6" y2="261" stroke="#8a8a8a" stroke-width="0.9"/>
<text x="47" y="263.9" font-size="8.0" text-anchor="end" fill="#4d4d4d" stroke="#4d4d4d" stroke-width="0.15">40%</text>
<line x1="48.8" y1="238.2" x2="50.6" y2="238.2" stroke="#8a8a8a" stroke-width="0.9"/>
<text x="47" y="241.1" font-size="8.0" text-anchor="end" fill="#4d4d4d" stroke="#4d4d4d" stroke-width="0.15">60%</text>
<line x1="48.8" y1="215.3" x2="50.6" y2="215.3" stroke="#8a8a8a" stroke-width="0.9"/>
<text x="47" y="218.2" font-size="8.0" text-anchor="end" fill="#4d4d4d" stroke="#4d4d4d" stroke-width="0.15">80%</text>
<line x1="48.8" y1="192.5" x2="50.6" y2="192.5" stroke="#8a8a8a" stroke-width="0.9"/>
<text x="47" y="195.4" font-size="8.0" text-anchor="end" fill="#4d4d4d" stroke="#4d4d4d" stroke-width="0.15">100%</text>
<line x1="50.6" y1="306.7" x2="50.6" y2="308.5" stroke="#8a8a8a" stroke-width="0.9"/>
<text x="50.6" y="315.8" font-size="8.0" text-anchor="middle" fill="#4d4d4d" stroke="#4d4d4d" stroke-width="0.15">2</text>
<line x1="76.8" y1="306.7" x2="76.8" y2="308.5" stroke="#8a8a8a" stroke-width="0.9"/>
<text x="76.8" y="315.8" font-size="8.0" text-anchor="middle" fill="#4d4d4d" stroke="#4d4d4d" stroke-width="0.15">50</text>
<line x1="104.1" y1="306.7" x2="104.1" y2="308.5" stroke="#8a8a8a" stroke-width="0.9"/>
<text x="104.1" y="315.8" font-size="8.0" text-anchor="middle" fill="#4d4d4d" stroke="#4d4d4d" stroke-width="0.15">100</text>
<line x1="131.4" y1="306.7" x2="131.4" y2="308.5" stroke="#8a8a8a" stroke-width="0.9"/>
<text x="131.4" y="315.8" font-size="8.0" text-anchor="middle" fill="#4d4d4d" stroke="#4d4d4d" stroke-width="0.15">150</text>
<line x1="158.6" y1="306.7" x2="158.6" y2="308.5" stroke="#8a8a8a" stroke-width="0.9"/>
<text x="158.6" y="315.8" font-size="8.0" text-anchor="middle" fill="#4d4d4d" stroke="#4d4d4d" stroke-width="0.15">200</text>
<line x1="185.9" y1="306.7" x2="185.9" y2="308.5" stroke="#8a8a8a" stroke-width="0.9"/>
<text x="185.9" y="315.8" font-size="8.0" text-anchor="middle" fill="#4d4d4d" stroke="#4d4d4d" stroke-width="0.15">250</text>
<line x1="213.2" y1="306.7" x2="213.2" y2="308.5" stroke="#8a8a8a" stroke-width="0.9"/>
<text x="213.2" y="315.8" font-size="8.0" text-anchor="middle" fill="#4d4d4d" stroke="#4d4d4d" stroke-width="0.15">300</text>
<line x1="240.5" y1="306.7" x2="240.5" y2="308.5" stroke="#8a8a8a" stroke-width="0.9"/>
<text x="240.5" y="315.8" font-size="8.0" text-anchor="middle" fill="#4d4d4d" stroke="#4d4d4d" stroke-width="0.15">350</text>
<text x="145.6" y="332.5" font-size="7.2" text-anchor="middle" fill="#111" stroke="#111" stroke-width="0.15">Water depth (cm)</text>
<text x="16.3" y="248.6" font-size="7.3" text-anchor="middle" fill="#111" transform="rotate(-90 16.3 248.6)" stroke="#111" stroke-width="0.15">Percentage of yield loss</text>
<line x1="298.2" y1="295.3" x2="488.3" y2="295.3" stroke="#f3f3f3" stroke-width="0.8"/>
<line x1="298.2" y1="272.4" x2="488.3" y2="272.4" stroke="#f3f3f3" stroke-width="0.8"/>
<line x1="298.2" y1="249.6" x2="488.3" y2="249.6" stroke="#f3f3f3" stroke-width="0.8"/>
<line x1="298.2" y1="226.8" x2="488.3" y2="226.8" stroke="#f3f3f3" stroke-width="0.8"/>
<line x1="298.2" y1="203.9" x2="488.3" y2="203.9" stroke="#f3f3f3" stroke-width="0.8"/>
<line x1="311.3" y1="190.6" x2="311.3" y2="306.7" stroke="#f3f3f3" stroke-width="0.8"/>
<line x1="338.1" y1="190.6" x2="338.1" y2="306.7" stroke="#f3f3f3" stroke-width="0.8"/>
<line x1="365.4" y1="190.6" x2="365.4" y2="306.7" stroke="#f3f3f3" stroke-width="0.8"/>
<line x1="392.7" y1="190.6" x2="392.7" y2="306.7" stroke="#f3f3f3" stroke-width="0.8"/>
<line x1="420" y1="190.6" x2="420" y2="306.7" stroke="#f3f3f3" stroke-width="0.8"/>
<line x1="447.3" y1="190.6" x2="447.3" y2="306.7" stroke="#f3f3f3" stroke-width="0.8"/>
<line x1="474.6" y1="190.6" x2="474.6" y2="306.7" stroke="#f3f3f3" stroke-width="0.8"/>
<line x1="298.2" y1="306.7" x2="488.3" y2="306.7" stroke="#ebebeb" stroke-width="1"/>
<line x1="298.2" y1="283.9" x2="488.3" y2="283.9" stroke="#ebebeb" stroke-width="1"/>
<line x1="298.2" y1="261" x2="488.3" y2="261" stroke="#ebebeb" stroke-width="1"/>
<line x1="298.2" y1="238.2" x2="488.3" y2="238.2" stroke="#ebebeb" stroke-width="1"/>
<line x1="298.2" y1="215.3" x2="488.3" y2="215.3" stroke="#ebebeb" stroke-width="1"/>
<line x1="298.2" y1="192.5" x2="488.3" y2="192.5" stroke="#ebebeb" stroke-width="1"/>
<line x1="298.2" y1="190.6" x2="298.2" y2="306.7" stroke="#ebebeb" stroke-width="1"/>
<line x1="324.4" y1="190.6" x2="324.4" y2="306.7" stroke="#ebebeb" stroke-width="1"/>
<line x1="351.7" y1="190.6" x2="351.7" y2="306.7" stroke="#ebebeb" stroke-width="1"/>
<line x1="379" y1="190.6" x2="379" y2="306.7" stroke="#ebebeb" stroke-width="1"/>
<line x1="406.4" y1="190.6" x2="406.4" y2="306.7" stroke="#ebebeb" stroke-width="1"/>
<line x1="433.7" y1="190.6" x2="433.7" y2="306.7" stroke="#ebebeb" stroke-width="1"/>
<line x1="461" y1="190.6" x2="461" y2="306.7" stroke="#ebebeb" stroke-width="1"/>
<line x1="488.3" y1="190.6" x2="488.3" y2="306.7" stroke="#ebebeb" stroke-width="1"/>
<polygon points="298.2,261 298.7,260.9 299.3,260.8 299.8,260.6 300.4,260.5 300.9,260.3 301.5,260.2 302,260.1 302.5,259.9 303.1,259.8 303.6,259.6 304.2,259.5 304.7,259.3 305.3,259.2 305.8,259 306.3,258.9 306.9,258.7 307.4,258.6 308,258.4 308.5,258.3 309,258.1 309.6,257.9 310.1,257.8 310.7,257.6 311.2,257.5 311.8,257.3 312.3,257.1 312.8,257 313.4,256.8 313.9,256.7 314.5,256.5 315,256.4 315.6,256.2 316.1,256 316.6,255.9 317.2,255.7 317.7,255.6 318.3,255.4 318.8,255.2 319.4,255 319.9,254.8 320.4,254.6 321,254.5 321.5,254.2 322.1,254 322.6,253.8 323.1,253.6 323.7,253.4 324.2,253.1 324.8,252.9 325.3,252.6 325.9,252.3 326.4,252 326.9,251.7 327.5,251.3 328,251 328.6,250.6 329.1,250.2 329.7,249.8 330.2,249.4 330.7,249 331.3,248.5 331.8,248 332.4,247.5 332.9,247 333.5,246.5 334,245.9 334.5,245.3 335.1,244.7 335.6,244 336.2,243.2 336.7,242.4 337.2,241.5 337.8,240.5 338.3,239.3 338.9,237.7 339.4,235.6 340,233.2 340.5,230.7 341,228 341.6,225.5 342.1,223.1 342.7,221.1 343.2,219.5 343.8,218.4 344.3,217.5 344.8,216.8 345.4,216.2 345.9,215.6 346.5,215.2 347,214.8 347.6,214.5 348.1,214.2 348.6,214 349.2,213.7 349.7,213.5 350.3,213.2 350.8,213 351.3,212.7 351.9,212.4 352.4,212.1 353,211.8 353.5,211.4 354.1,211.1 354.6,210.8 355.1,210.5 355.7,210.2 356.2,209.8 356.8,209.5 357.3,209.2 357.9,208.8 358.4,208.5 358.9,208.1 359.5,207.7 360,207.3 360.6,206.9 361.1,206.5 361.7,206.1 362.2,205.7 362.7,205.2 363.3,204.8 363.8,204.3 364.4,203.8 364.9,203.3 365.4,202.7 366,202.1 366.5,201.3 367.1,200.5 367.6,199.6 368.2,198.7 368.7,197.8 369.2,196.9 369.8,196.1 370.3,195.4 370.9,194.8 371.4,194.2 372,193.7 372.5,193.3 373,192.9 373.6,192.5 406.9,192.5 406.9,192.5 406.4,194.2 405.8,195.8 405.3,197.1 404.7,198.1 404.2,199.1 403.6,200 403.1,200.8 402.5,201.6 402,202.4 401.4,203.1 400.9,203.7 400.4,204.3 399.8,204.8 399.3,205.2 398.7,205.6 398.2,206 397.6,206.3 397.1,206.6 396.5,206.8 396,207.1 395.4,207.3 394.9,207.5 394.3,207.7 393.8,207.9 393.2,208.1 392.7,208.3 392.2,208.5 391.6,208.7 391.1,208.9 390.5,209.1 390,209.3 389.4,209.5 388.9,209.7 388.3,209.8 387.8,210 387.2,210.2 386.7,210.4 386.1,210.5 385.6,210.7 385.1,210.9 384.5,211.1 384,211.2 383.4,211.4 382.9,211.6 382.3,211.8 381.8,212 381.2,212.2 380.7,212.4 380.1,212.6 379.6,212.8 379,213.1 378.5,213.3 378,213.5 377.4,213.7 376.9,214 376.3,214.2 375.8,214.5 375.2,214.7 374.7,215 374.1,215.3 373.6,215.7 373,216.1 372.5,216.5 371.9,217 371.4,217.7 370.9,218.5 370.3,219.5 369.8,220.5 369.2,221.6 368.7,222.8 368.1,223.9 367.6,225.1 367,226.3 366.5,227.4 365.9,228.5 365.4,229.5 364.8,230.4 364.3,231.4 363.8,232.3 363.2,233.2 362.7,234.1 362.1,235.1 361.6,236 361,236.9 360.5,237.8 359.9,238.7 359.4,239.6 358.8,240.5 358.3,241.3 357.7,242.2 357.2,243.1 356.7,243.9 356.1,244.8 355.6,245.6 355,246.5 354.5,247.3 353.9,248.1 353.4,248.9 352.8,249.7 352.3,250.5 351.7,251.3 351.2,252.1 350.6,252.9 350.1,253.7 349.5,254.5 349,255.3 348.5,256 347.9,256.8 347.4,257.6 346.8,258.4 346.3,259.2 345.7,259.9 345.2,260.7 344.6,261.4 344.1,262.1 343.5,262.9 343,263.6 342.4,264.2 341.9,264.9 341.4,265.6 340.8,266.2 340.3,266.8 339.7,267.4 339.2,268 338.6,268.5 338.1,269 337.5,269.5 337,270 336.4,270.5 335.9,271 335.3,271.4 334.8,271.9 334.3,272.4 333.7,272.8 333.2,273.3 332.6,273.7 332.1,274.1 331.5,274.5 331,274.9 330.4,275.3 329.9,275.7 329.3,276.1 328.8,276.4 328.2,276.7 327.7,277.1 327.2,277.4 326.6,277.7 326.1,278 325.5,278.2 325,278.5 324.4,278.7 323.9,278.9 323.3,279.2 322.8,279.4 322.2,279.5 321.7,279.7 321.1,279.9 320.6,280.1 320.1,280.2 319.5,280.4 319,280.5 318.4,280.7 317.9,280.8 317.3,281 316.8,281.1 316.2,281.3 315.7,281.4 315.1,281.5 314.6,281.7 314,281.8 313.5,282 312.9,282.1 312.4,282.2 311.9,282.4 311.3,282.6 310.8,282.7 310.2,282.9 309.7,283 309.1,283.2 308.6,283.4 308,283.5 307.5,283.7 306.9,283.9 306.4,284 305.8,284.2 305.3,284.4 304.8,284.5 304.2,284.7 303.7,284.9 303.1,285.1 302.6,285.2 302,285.4 301.5,285.6 300.9,285.7 300.4,285.9 299.8,286.1 299.3,286.3 298.7,286.4 298.2,286.6" fill="#9fd3ee" fill-opacity="0.32"/>
<polyline points="298.2,274 298.8,278 299.4,275.2 300.1,275.9 300.7,275.7 301.3,275.3 301.9,276.8 302.6,275 303.2,275.4 303.8,271.4 304.4,274 305.1,274.4 305.7,274.2 306.3,274.3 306.9,274.5 307.6,273.7 308.2,272.8 308.8,273.2 309.4,272 310.1,272.8 310.7,272.4 311.3,270.9 311.9,271.6 312.6,272.4 313.2,271.9 313.8,271.1 314.4,269.7 315.1,271.5 315.7,271.3 316.3,270 316.9,271.5 317.6,270.8 318.2,269.6 318.8,269.6 319.4,269.9 320.1,269.1 320.7,272.1 321.3,268.4 321.9,269.9 322.5,270.3 323.2,268.2 323.8,267.6 324.4,268.3 325,268.5 325.7,267 326.3,266.6 326.9,264.6 327.5,264.6 328.2,264.5 328.8,262.9 329.4,263.4 330,263.4 330.7,261.3 331.3,260.5 331.9,260.4 332.5,260 333.2,258.2 333.8,259.8 334.4,256 335,255.2 335.7,256.2 336.3,253.7 336.9,253.8 337.5,251.3 338.2,253.1 338.8,251.2 339.4,249 340,247.8 340.7,250 341.3,247.7 341.9,246.2 342.5,246.3 343.1,243.6 343.8,245.4 344.4,243.2 345,243.8 345.6,240.8 346.3,241.4 346.9,240.9 347.5,241.4 348.1,237.6 348.8,237.7 349.4,236.9 350,235.8 350.6,235.8 351.3,235.9 351.9,235.3 352.5,234.5 353.1,231.8 353.8,233.6 354.4,232.1 355,231.1 355.6,229.8 356.3,228.8 356.9,229.7 357.5,229.4 358.1,227 358.8,225.1 359.4,224.8 360,224.5 360.6,224.2 361.3,222.8 361.9,222.4 362.5,220.6 363.1,221.2 363.8,219.4 364.4,218.7 365,217.2 365.6,216.5 366.2,213.3 366.9,213.1 367.5,211.9 368.1,213.8 368.7,210.8 369.4,209.5 370,206.6 370.6,207 371.2,200.8 371.9,196.6 372.5,192.5 488.3,192.5" fill="none" stroke="#a3a3a3" stroke-width="1.9" stroke-linejoin="round"/>
<rect x="298.2" y="190.6" width="190.1" height="116.1" fill="none" stroke="#a0a0a0" stroke-width="0.9"/>
<line x1="298.2" y1="190.6" x2="298.2" y2="306.7" stroke="#8a8a8a" stroke-width="1"/>
<line x1="298.2" y1="306.7" x2="488.3" y2="306.7" stroke="#8a8a8a" stroke-width="1"/>
<line x1="296.4" y1="306.7" x2="298.2" y2="306.7" stroke="#8a8a8a" stroke-width="0.9"/>
<text x="294.6" y="309.6" font-size="8.0" text-anchor="end" fill="#4d4d4d" stroke="#4d4d4d" stroke-width="0.15">0%</text>
<line x1="296.4" y1="283.9" x2="298.2" y2="283.9" stroke="#8a8a8a" stroke-width="0.9"/>
<text x="294.6" y="286.7" font-size="8.0" text-anchor="end" fill="#4d4d4d" stroke="#4d4d4d" stroke-width="0.15">20%</text>
<line x1="296.4" y1="261" x2="298.2" y2="261" stroke="#8a8a8a" stroke-width="0.9"/>
<text x="294.6" y="263.9" font-size="8.0" text-anchor="end" fill="#4d4d4d" stroke="#4d4d4d" stroke-width="0.15">40%</text>
<line x1="296.4" y1="238.2" x2="298.2" y2="238.2" stroke="#8a8a8a" stroke-width="0.9"/>
<text x="294.6" y="241.1" font-size="8.0" text-anchor="end" fill="#4d4d4d" stroke="#4d4d4d" stroke-width="0.15">60%</text>
<line x1="296.4" y1="215.3" x2="298.2" y2="215.3" stroke="#8a8a8a" stroke-width="0.9"/>
<text x="294.6" y="218.2" font-size="8.0" text-anchor="end" fill="#4d4d4d" stroke="#4d4d4d" stroke-width="0.15">80%</text>
<line x1="296.4" y1="192.5" x2="298.2" y2="192.5" stroke="#8a8a8a" stroke-width="0.9"/>
<text x="294.6" y="195.4" font-size="8.0" text-anchor="end" fill="#4d4d4d" stroke="#4d4d4d" stroke-width="0.15">100%</text>
<line x1="298.2" y1="306.7" x2="298.2" y2="308.5" stroke="#8a8a8a" stroke-width="0.9"/>
<text x="298.2" y="315.8" font-size="8.0" text-anchor="middle" fill="#4d4d4d" stroke="#4d4d4d" stroke-width="0.15">2</text>
<line x1="324.4" y1="306.7" x2="324.4" y2="308.5" stroke="#8a8a8a" stroke-width="0.9"/>
<text x="324.4" y="315.8" font-size="8.0" text-anchor="middle" fill="#4d4d4d" stroke="#4d4d4d" stroke-width="0.15">50</text>
<line x1="351.7" y1="306.7" x2="351.7" y2="308.5" stroke="#8a8a8a" stroke-width="0.9"/>
<text x="351.7" y="315.8" font-size="8.0" text-anchor="middle" fill="#4d4d4d" stroke="#4d4d4d" stroke-width="0.15">100</text>
<line x1="379" y1="306.7" x2="379" y2="308.5" stroke="#8a8a8a" stroke-width="0.9"/>
<text x="379" y="315.8" font-size="8.0" text-anchor="middle" fill="#4d4d4d" stroke="#4d4d4d" stroke-width="0.15">150</text>
<line x1="406.4" y1="306.7" x2="406.4" y2="308.5" stroke="#8a8a8a" stroke-width="0.9"/>
<text x="406.4" y="315.8" font-size="8.0" text-anchor="middle" fill="#4d4d4d" stroke="#4d4d4d" stroke-width="0.15">200</text>
<line x1="433.7" y1="306.7" x2="433.7" y2="308.5" stroke="#8a8a8a" stroke-width="0.9"/>
<text x="433.7" y="315.8" font-size="8.0" text-anchor="middle" fill="#4d4d4d" stroke="#4d4d4d" stroke-width="0.15">250</text>
<line x1="461" y1="306.7" x2="461" y2="308.5" stroke="#8a8a8a" stroke-width="0.9"/>
<text x="461" y="315.8" font-size="8.0" text-anchor="middle" fill="#4d4d4d" stroke="#4d4d4d" stroke-width="0.15">300</text>
<line x1="488.3" y1="306.7" x2="488.3" y2="308.5" stroke="#8a8a8a" stroke-width="0.9"/>
<text x="488.3" y="315.8" font-size="8.0" text-anchor="middle" fill="#4d4d4d" stroke="#4d4d4d" stroke-width="0.15">350</text>
<text x="393.2" y="332.5" font-size="7.2" text-anchor="middle" fill="#111" stroke="#111" stroke-width="0.15">Water depth (cm)</text>
<text x="260.9" y="248.6" font-size="7.3" text-anchor="middle" fill="#111" transform="rotate(-90 260.9 248.6)" stroke="#111" stroke-width="0.15">Percentage of yield loss</text>
<line x1="50.8" y1="454.8" x2="174.6" y2="454.8" stroke="#f3f3f3" stroke-width="0.8"/>
<line x1="50.8" y1="439.6" x2="174.6" y2="439.6" stroke="#f3f3f3" stroke-width="0.8"/>
<line x1="50.8" y1="424.4" x2="174.6" y2="424.4" stroke="#f3f3f3" stroke-width="0.8"/>
<line x1="50.8" y1="409.2" x2="174.6" y2="409.2" stroke="#f3f3f3" stroke-width="0.8"/>
<line x1="50.8" y1="394" x2="174.6" y2="394" stroke="#f3f3f3" stroke-width="0.8"/>
<line x1="59.3" y1="385.2" x2="59.3" y2="462.4" stroke="#f3f3f3" stroke-width="0.8"/>
<line x1="76.8" y1="385.2" x2="76.8" y2="462.4" stroke="#f3f3f3" stroke-width="0.8"/>
<line x1="94.6" y1="385.2" x2="94.6" y2="462.4" stroke="#f3f3f3" stroke-width="0.8"/>
<line x1="112.3" y1="385.2" x2="112.3" y2="462.4" stroke="#f3f3f3" stroke-width="0.8"/>
<line x1="130.1" y1="385.2" x2="130.1" y2="462.4" stroke="#f3f3f3" stroke-width="0.8"/>
<line x1="147.9" y1="385.2" x2="147.9" y2="462.4" stroke="#f3f3f3" stroke-width="0.8"/>
<line x1="165.7" y1="385.2" x2="165.7" y2="462.4" stroke="#f3f3f3" stroke-width="0.8"/>
<line x1="50.8" y1="462.4" x2="174.6" y2="462.4" stroke="#ebebeb" stroke-width="1"/>
<line x1="50.8" y1="447.2" x2="174.6" y2="447.2" stroke="#ebebeb" stroke-width="1"/>
<line x1="50.8" y1="432" x2="174.6" y2="432" stroke="#ebebeb" stroke-width="1"/>
<line x1="50.8" y1="416.8" x2="174.6" y2="416.8" stroke="#ebebeb" stroke-width="1"/>
<line x1="50.8" y1="401.6" x2="174.6" y2="401.6" stroke="#ebebeb" stroke-width="1"/>
<line x1="50.8" y1="386.4" x2="174.6" y2="386.4" stroke="#ebebeb" stroke-width="1"/>
<line x1="50.8" y1="385.2" x2="50.8" y2="462.4" stroke="#ebebeb" stroke-width="1"/>
<line x1="67.9" y1="385.2" x2="67.9" y2="462.4" stroke="#ebebeb" stroke-width="1"/>
<line x1="85.7" y1="385.2" x2="85.7" y2="462.4" stroke="#ebebeb" stroke-width="1"/>
<line x1="103.5" y1="385.2" x2="103.5" y2="462.4" stroke="#ebebeb" stroke-width="1"/>
<line x1="121.2" y1="385.2" x2="121.2" y2="462.4" stroke="#ebebeb" stroke-width="1"/>
<line x1="139" y1="385.2" x2="139" y2="462.4" stroke="#ebebeb" stroke-width="1"/>
<line x1="156.8" y1="385.2" x2="156.8" y2="462.4" stroke="#ebebeb" stroke-width="1"/>
<line x1="174.6" y1="385.2" x2="174.6" y2="462.4" stroke="#ebebeb" stroke-width="1"/>
<polygon points="50.8,423.3 51.3,423.3 51.8,423.3 52.2,423.4 52.7,423.4 53.2,423.4 53.7,423.4 54.1,423.4 54.6,423.4 55.1,423.4 55.6,423.4 56.1,423.4 56.5,423.4 57,423.4 57.5,423.4 58,423.4 58.4,423.4 58.9,423.4 59.4,423.5 59.9,423.5 60.4,423.5 60.8,423.5 61.3,423.5 61.8,423.5 62.3,423.5 62.7,423.5 63.2,423.5 63.7,423.5 64.2,423.5 64.7,423.5 65.1,423.5 65.6,423.5 66.1,423.5 66.6,423.5 67.1,423.4 67.5,423.4 68,423.3 68.5,423.2 69,423.1 69.4,423 69.9,422.7 70.4,422.4 70.9,422.1 71.4,421.8 71.8,421.4 72.3,421.1 72.8,420.7 73.3,420.3 73.7,419.8 74.2,419.3 74.7,418.6 75.2,417.9 75.7,417.1 76.1,416.2 76.6,415.3 77.1,414.3 77.6,413.4 78,412.5 78.5,411.5 79,410.4 79.5,409.3 80,408.2 80.4,407 80.9,405.8 81.4,404.6 81.9,403.3 82.3,401.8 82.8,400 83.3,397.6 83.8,394.7 84.3,386.4 84.7,386.4 85.2,386.4 85.7,386.4 86.2,386.4 86.6,386.4 87.1,386.4 87.6,386.4 88.1,386.4 88.6,386.4 89,386.4 89.5,386.4 90,386.4 90.5,386.4 91,386.4 91.4,386.4 91.9,386.4 92.4,386.4 92.9,386.4 93.3,386.4 93.8,386.4 94.3,386.4 94.8,386.4 95.3,386.4 95.7,386.4 96.2,386.4 96.7,386.4 97.2,386.4 97.6,386.4 98.1,386.4 98.6,386.4 99.1,386.4 99.6,386.4 100,386.4 100.5,386.4 101,386.4 101.5,386.4 101.9,386.4 102.4,386.4 102.9,386.4 103.4,386.4 103.9,386.4 104.3,386.4 104.8,386.4 105.3,386.4 105.8,386.4 106.2,386.4 106.7,386.4 107.2,386.4 107.7,386.4 108.2,386.4 108.6,386.4 109.1,386.4 109.6,386.4 110.1,386.4 110.5,386.4 111,386.4 111.5,386.4 112,386.4 112.5,386.4 112.9,386.4 113.4,386.4 113.9,386.4 114.4,386.4 114.9,386.4 115.3,386.4 115.8,386.4 116.3,386.4 116.8,386.4 117.2,386.4 117.7,386.4 118.2,386.4 118.7,386.4 119.2,386.4 119.6,386.4 120.1,386.4 120.6,386.4 121.1,386.4 121.5,386.4 122,386.4 122.5,386.4 123,386.4 123.5,386.4 123.9,386.4 124.4,386.4 124.9,386.4 125.4,386.4 125.8,386.4 126.3,386.4 126.8,386.4 127.3,386.4 127.8,386.4 128.2,386.4 128.7,386.4 129.2,386.4 129.7,386.4 130.1,386.4 130.6,386.4 131.1,386.4 131.6,386.4 132.1,386.4 132.5,386.4 133,386.4 133.5,386.4 134,386.4 134.4,386.4 134.9,386.4 135.4,386.4 135.9,386.4 136.4,386.4 136.8,386.4 137.3,386.4 137.8,386.4 138.3,386.4 138.8,386.4 139.2,386.4 139.7,386.4 140.2,386.4 140.7,386.4 141.1,386.4 141.6,386.4 142.1,386.4 142.6,386.4 143.1,386.4 143.5,386.4 144,386.4 144.5,386.4 145,386.4 145.4,386.4 145.9,386.4 146.4,386.4 146.9,386.4 147.4,386.4 147.8,386.4 148.3,386.4 148.8,386.4 149.3,386.4 149.7,386.4 150.2,386.4 150.7,386.4 151.2,386.4 151.7,386.4 152.1,386.4 152.6,386.4 153.1,386.4 153.6,386.4 154,386.4 154.5,386.4 155,386.4 155.5,386.4 156,386.4 156.4,386.4 156.9,386.4 157.4,386.4 157.9,386.4 158.3,386.4 158.8,386.4 159.3,386.4 159.8,386.4 160.3,386.4 160.7,386.4 161.2,386.4 161.7,386.4 162.2,386.4 162.7,386.4 163.1,386.4 163.6,386.4 164.1,386.4 164.6,386.4 165,386.4 165.5,386.4 166,386.4 166.5,386.4 167,386.4 167.4,386.4 167.9,386.4 168.4,386.4 168.9,386.4 169.3,386.4 169.8,386.4 170.3,386.4 170.8,386.4 171.3,386.4 171.7,386.4 172.2,386.4 172.7,386.4 173.2,386.4 173.6,386.4 174.1,386.4 174.6,386.4 174.6,386.4 174.1,386.4 173.6,386.4 173.2,386.4 172.7,386.4 172.2,386.4 171.7,386.4 171.3,386.4 170.8,386.4 170.3,386.4 169.8,386.4 169.3,386.4 168.9,386.4 168.4,386.4 167.9,386.4 167.4,386.4 167,386.4 166.5,386.4 166,386.4 165.5,386.4 165,386.4 164.6,386.4 164.1,386.4 163.6,386.4 163.1,386.4 162.7,386.4 162.2,386.4 161.7,386.4 161.2,386.4 160.7,386.4 160.3,386.4 159.8,386.4 159.3,386.4 158.8,386.4 158.3,386.4 157.9,386.4 157.4,386.4 156.9,386.4 156.4,386.4 156,386.4 155.5,386.4 155,386.4 154.5,386.4 154,386.4 153.6,386.4 153.1,386.4 152.6,386.4 152.1,386.4 151.7,386.4 151.2,386.4 150.7,386.4 150.2,386.4 149.7,386.4 149.3,386.4 148.8,386.4 148.3,386.4 147.8,386.4 147.4,386.4 146.9,386.4 146.4,386.4 145.9,386.4 145.4,386.4 145,386.4 144.5,386.4 144,386.4 143.5,386.4 143.1,386.4 142.6,386.4 142.1,386.4 141.6,386.4 141.1,386.4 140.7,386.4 140.2,386.4 139.7,386.4 139.2,386.4 138.8,386.4 138.3,386.4 137.8,386.4 137.3,386.4 136.8,386.4 136.4,386.4 135.9,386.4 135.4,386.4 134.9,386.4 134.4,386.4 134,386.4 133.5,386.4 133,386.4 132.5,386.4 132.1,386.4 131.6,386.4 131.1,386.4 130.6,386.4 130.1,386.4 129.7,386.4 129.2,386.4 128.7,386.4 128.2,386.4 127.8,386.4 127.3,386.4 126.8,386.4 126.3,386.4 125.8,386.4 125.4,386.4 124.9,386.4 124.4,386.4 123.9,386.4 123.5,386.4 123,386.4 122.5,386.4 122,386.4 121.5,386.4 121.1,386.4 120.6,386.4 120.1,386.4 119.6,386.4 119.2,386.4 118.7,386.4 118.2,386.4 117.7,386.4 117.2,387.8 116.8,391.3 116.3,394.6 115.8,397.7 115.3,400.4 114.9,402.7 114.4,404.7 113.9,406.5 113.4,408.2 112.9,409.8 112.5,411.2 112,412.7 111.5,414 111,415.4 110.5,416.8 110.1,418.2 109.6,419.5 109.1,420.9 108.6,422.2 108.2,423.4 107.7,424.7 107.2,425.9 106.7,427.1 106.2,428.3 105.8,429.5 105.3,430.6 104.8,431.7 104.3,432.8 103.9,433.9 103.4,435 102.9,436.1 102.4,437.2 101.9,438.3 101.5,439.4 101,440.5 100.5,441.6 100,442.6 99.6,443.6 99.1,444.5 98.6,445.4 98.1,446.2 97.6,447 97.2,447.7 96.7,448.5 96.2,449.1 95.7,449.8 95.3,450.5 94.8,451.2 94.3,451.8 93.8,452.5 93.3,453.1 92.9,453.8 92.4,454.4 91.9,455 91.4,455.7 91,456.3 90.5,457 90,457.6 89.5,458.3 89,458.9 88.6,459.6 88.1,460.2 87.6,460.7 87.1,461 86.6,461.4 86.2,461.8 85.7,462.1 85.2,462.4 84.7,462.4 84.3,462.4 83.8,462.4 83.3,462.4 82.8,462.4 82.3,462.4 81.9,462.4 81.4,462.4 80.9,462.4 80.4,462.4 80,462.4 79.5,462.4 79,462.4 78.5,462.4 78,462.4 77.6,462.4 77.1,462.4 76.6,462.4 76.1,462.2 75.7,461.9 75.2,461.6 74.7,461.3 74.2,461 73.7,460.7 73.3,460.4 72.8,460.1 72.3,459.7 71.8,459.4 71.4,459.1 70.9,458.8 70.4,458.6 69.9,458.3 69.4,458 69,457.8 68.5,457.5 68,457.3 67.5,457.1 67.1,456.9 66.6,456.7 66.1,456.6 65.6,456.4 65.1,456.3 64.7,456.1 64.2,456 63.7,455.9 63.2,455.8 62.7,455.7 62.3,455.6 61.8,455.6 61.3,455.5 60.8,455.4 60.4,455.4 59.9,455.3 59.4,455.3 58.9,455.2 58.4,455.2 58,455.2 57.5,455.2 57,455.1 56.5,455.1 56.1,455.1 55.6,455.1 55.1,455.1 54.6,455 54.1,455 53.7,455 53.2,455 52.7,455 52.2,455 51.8,455 51.3,455 50.8,455" fill="#bddf26" fill-opacity="0.2"/>
<polygon points="50.8,422.1 51.3,422 51.8,422 52.2,421.9 52.7,421.9 53.2,421.8 53.7,421.7 54.1,421.7 54.6,421.6 55.1,421.5 55.6,421.5 56.1,421.4 56.5,421.3 57,421.2 57.5,421.2 58,421.1 58.4,421 58.9,420.9 59.4,420.8 59.9,420.8 60.4,420.7 60.8,420.6 61.3,420.5 61.8,420.4 62.3,420.3 62.7,420.2 63.2,420.1 63.7,420 64.2,419.9 64.7,419.7 65.1,419.6 65.6,419.4 66.1,419.2 66.6,419 67.1,418.8 67.5,418.4 68,418 68.5,417.6 69,417.3 69.4,416.8 69.9,416.4 70.4,415.9 70.9,415.4 71.4,414.8 71.8,414.1 72.3,413.4 72.8,412.5 73.3,411.6 73.7,410.7 74.2,409.8 74.7,408.8 75.2,407.8 75.7,406.8 76.1,405.6 76.6,404.4 77.1,403.2 77.6,401.9 78,400.6 78.5,399 79,397.1 79.5,394.7 80,386.4 80.4,386.4 80.9,386.4 81.4,386.4 81.9,386.4 82.3,386.4 82.8,386.4 83.3,386.4 83.8,386.4 84.3,386.4 84.7,386.4 85.2,386.4 85.7,386.4 86.2,386.4 86.6,386.4 87.1,386.4 87.6,386.4 88.1,386.4 88.6,386.4 89,386.4 89.5,386.4 90,386.4 90.5,386.4 91,386.4 91.4,386.4 91.9,386.4 92.4,386.4 92.9,386.4 93.3,386.4 93.8,386.4 94.3,386.4 94.8,386.4 95.3,386.4 95.7,386.4 96.2,386.4 96.7,386.4 97.2,386.4 97.6,386.4 98.1,386.4 98.6,386.4 99.1,386.4 99.6,386.4 100,386.4 100.5,386.4 101,386.4 101.5,386.4 101.9,386.4 102.4,386.4 102.9,386.4 103.4,386.4 103.9,386.4 104.3,386.4 104.8,386.4 105.3,386.4 105.8,386.4 106.2,386.4 106.7,386.4 107.2,386.4 107.7,386.4 108.2,386.4 108.6,386.4 109.1,386.4 109.6,386.4 110.1,386.4 110.5,386.4 111,386.4 111.5,386.4 112,386.4 112.5,386.4 112.9,386.4 113.4,386.4 113.9,386.4 114.4,386.4 114.9,386.4 115.3,386.4 115.8,386.4 116.3,386.4 116.8,386.4 117.2,386.4 117.7,386.4 118.2,386.4 118.7,386.4 119.2,386.4 119.6,386.4 120.1,386.4 120.6,386.4 121.1,386.4 121.5,386.4 122,386.4 122.5,386.4 123,386.4 123.5,386.4 123.9,386.4 124.4,386.4 124.9,386.4 125.4,386.4 125.8,386.4 126.3,386.4 126.8,386.4 127.3,386.4 127.8,386.4 128.2,386.4 128.7,386.4 129.2,386.4 129.7,386.4 130.1,386.4 130.6,386.4 131.1,386.4 131.6,386.4 132.1,386.4 132.5,386.4 133,386.4 133.5,386.4 134,386.4 134.4,386.4 134.9,386.4 135.4,386.4 135.9,386.4 136.4,386.4 136.8,386.4 137.3,386.4 137.8,386.4 138.3,386.4 138.8,386.4 139.2,386.4 139.7,386.4 140.2,386.4 140.7,386.4 141.1,386.4 141.6,386.4 142.1,386.4 142.6,386.4 143.1,386.4 143.5,386.4 144,386.4 144.5,386.4 145,386.4 145.4,386.4 145.9,386.4 146.4,386.4 146.9,386.4 147.4,386.4 147.8,386.4 148.3,386.4 148.8,386.4 149.3,386.4 149.7,386.4 150.2,386.4 150.7,386.4 151.2,386.4 151.7,386.4 152.1,386.4 152.6,386.4 153.1,386.4 153.6,386.4 154,386.4 154.5,386.4 155,386.4 155.5,386.4 156,386.4 156.4,386.4 156.9,386.4 157.4,386.4 157.9,386.4 158.3,386.4 158.8,386.4 159.3,386.4 159.8,386.4 160.3,386.4 160.7,386.4 161.2,386.4 161.7,386.4 162.2,386.4 162.7,386.4 163.1,386.4 163.6,386.4 164.1,386.4 164.6,386.4 165,386.4 165.5,386.4 166,386.4 166.5,386.4 167,386.4 167.4,386.4 167.9,386.4 168.4,386.4 168.9,386.4 169.3,386.4 169.8,386.4 170.3,386.4 170.8,386.4 171.3,386.4 171.7,386.4 172.2,386.4 172.7,386.4 173.2,386.4 173.6,386.4 174.1,386.4 174.6,386.4 174.6,386.4 174.1,386.4 173.6,386.4 173.2,386.4 172.7,386.4 172.2,386.4 171.7,386.4 171.3,386.4 170.8,386.4 170.3,386.4 169.8,386.4 169.3,386.4 168.9,386.4 168.4,386.4 167.9,386.4 167.4,386.4 167,386.4 166.5,386.4 166,386.4 165.5,386.4 165,386.4 164.6,386.4 164.1,386.4 163.6,386.4 163.1,386.4 162.7,386.4 162.2,386.4 161.7,386.4 161.2,386.4 160.7,386.4 160.3,386.4 159.8,386.4 159.3,386.4 158.8,386.4 158.3,386.4 157.9,386.4 157.4,386.4 156.9,386.4 156.4,386.4 156,386.4 155.5,386.4 155,386.4 154.5,386.4 154,386.4 153.6,386.4 153.1,386.4 152.6,386.4 152.1,386.4 151.7,386.4 151.2,386.4 150.7,386.4 150.2,386.4 149.7,386.4 149.3,386.4 148.8,386.4 148.3,386.4 147.8,386.4 147.4,386.4 146.9,386.4 146.4,386.4 145.9,386.4 145.4,386.4 145,386.4 144.5,386.4 144,386.4 143.5,386.4 143.1,386.4 142.6,386.4 142.1,386.4 141.6,386.4 141.1,386.4 140.7,386.4 140.2,386.4 139.7,386.4 139.2,386.4 138.8,386.4 138.3,386.4 137.8,386.4 137.3,386.4 136.8,386.4 136.4,386.4 135.9,386.4 135.4,386.4 134.9,386.4 134.4,386.4 134,386.4 133.5,386.4 133,386.4 132.5,386.4 132.1,386.4 131.6,386.4 131.1,386.4 130.6,386.4 130.1,386.4 129.7,386.4 129.2,386.4 128.7,386.4 128.2,386.4 127.8,386.4 127.3,386.4 126.8,386.4 126.3,386.4 125.8,386.4 125.4,386.4 124.9,386.4 124.4,386.4 123.9,386.4 123.5,386.4 123,386.4 122.5,386.4 122,386.4 121.5,386.4 121.1,386.4 120.6,386.4 120.1,386.4 119.6,386.4 119.2,386.4 118.7,386.4 118.2,386.4 117.7,386.4 117.2,386.4 116.8,386.4 116.3,386.4 115.8,386.4 115.3,386.4 114.9,386.4 114.4,386.4 113.9,386.4 113.4,386.4 112.9,387.8 112.5,390.6 112,393.2 111.5,395.7 111,397.8 110.5,399.7 110.1,401.4 109.6,403 109.1,404.5 108.6,406 108.2,407.4 107.7,408.7 107.2,410.1 106.7,411.5 106.2,412.8 105.8,414.2 105.3,415.5 104.8,416.8 104.3,418 103.9,419.2 103.4,420.4 102.9,421.5 102.4,422.6 101.9,423.7 101.5,424.8 101,425.9 100.5,427 100,428.1 99.6,429.1 99.1,430.2 98.6,431.3 98.1,432.4 97.6,433.4 97.2,434.5 96.7,435.5 96.2,436.5 95.7,437.4 95.3,438.4 94.8,439.2 94.3,440.1 93.8,440.9 93.3,441.7 92.9,442.5 92.4,443.2 91.9,444 91.4,444.8 91,445.5 90.5,446.3 90,447 89.5,447.7 89,448.5 88.6,449.2 88.1,449.9 87.6,450.6 87.1,451.3 86.6,452 86.2,452.6 85.7,453.2 85.2,453.7 84.7,454.2 84.3,454.5 83.8,454.9 83.3,455.2 82.8,455.5 82.3,455.8 81.9,456 81.4,456.2 80.9,456.4 80.4,456.5 80,456.6 79.5,456.6 79,456.6 78.5,456.6 78,456.6 77.6,456.5 77.1,456.4 76.6,456.3 76.1,456.1 75.7,456 75.2,455.8 74.7,455.6 74.2,455.4 73.7,455.2 73.3,455 72.8,454.8 72.3,454.6 71.8,454.4 71.4,454.2 70.9,454 70.4,453.8 69.9,453.7 69.4,453.5 69,453.4 68.5,453.2 68,453.1 67.5,453 67.1,452.9 66.6,452.8 66.1,452.7 65.6,452.6 65.1,452.6 64.7,452.6 64.2,452.5 63.7,452.5 63.2,452.5 62.7,452.5 62.3,452.5 61.8,452.5 61.3,452.5 60.8,452.6 60.4,452.6 59.9,452.6 59.4,452.7 58.9,452.7 58.4,452.8 58,452.8 57.5,452.9 57,452.9 56.5,453 56.1,453 55.6,453.1 55.1,453.2 54.6,453.2 54.1,453.3 53.7,453.3 53.2,453.4 52.7,453.5 52.2,453.5 51.8,453.6 51.3,453.7 50.8,453.7" fill="#4ec36b" fill-opacity="0.2"/>
<polygon points="50.8,420.9 51.3,420.8 51.8,420.7 52.2,420.6 52.7,420.5 53.2,420.4 53.7,420.3 54.1,420.2 54.6,420.1 55.1,420 55.6,419.9 56.1,419.8 56.5,419.7 57,419.5 57.5,419.4 58,419.3 58.4,419.2 58.9,419.1 59.4,418.9 59.9,418.8 60.4,418.7 60.8,418.6 61.3,418.4 61.8,418.3 62.3,418.1 62.7,418 63.2,417.8 63.7,417.6 64.2,417.4 64.7,417.2 65.1,416.9 65.6,416.7 66.1,416.4 66.6,416 67.1,415.6 67.5,415.2 68,414.8 68.5,414.3 69,413.9 69.4,413.3 69.9,412.8 70.4,412.1 70.9,411.4 71.4,410.6 71.8,409.7 72.3,408.8 72.8,407.9 73.3,407 73.7,406 74.2,405 74.7,403.8 75.2,402.6 75.7,401.3 76.1,400.1 76.6,398.7 77.1,397 77.6,394.9 78,386.4 78.5,386.4 79,386.4 79.5,386.4 80,386.4 80.4,386.4 80.9,386.4 81.4,386.4 81.9,386.4 82.3,386.4 82.8,386.4 83.3,386.4 83.8,386.4 84.3,386.4 84.7,386.4 85.2,386.4 85.7,386.4 86.2,386.4 86.6,386.4 87.1,386.4 87.6,386.4 88.1,386.4 88.6,386.4 89,386.4 89.5,386.4 90,386.4 90.5,386.4 91,386.4 91.4,386.4 91.9,386.4 92.4,386.4 92.9,386.4 93.3,386.4 93.8,386.4 94.3,386.4 94.8,386.4 95.3,386.4 95.7,386.4 96.2,386.4 96.7,386.4 97.2,386.4 97.6,386.4 98.1,386.4 98.6,386.4 99.1,386.4 99.6,386.4 100,386.4 100.5,386.4 101,386.4 101.5,386.4 101.9,386.4 102.4,386.4 102.9,386.4 103.4,386.4 103.9,386.4 104.3,386.4 104.8,386.4 105.3,386.4 105.8,386.4 106.2,386.4 106.7,386.4 107.2,386.4 107.7,386.4 108.2,386.4 108.6,386.4 109.1,386.4 109.6,386.4 110.1,386.4 110.5,386.4 111,386.4 111.5,386.4 112,386.4 112.5,386.4 112.9,386.4 113.4,386.4 113.9,386.4 114.4,386.4 114.9,386.4 115.3,386.4 115.8,386.4 116.3,386.4 116.8,386.4 117.2,386.4 117.7,386.4 118.2,386.4 118.7,386.4 119.2,386.4 119.6,386.4 120.1,386.4 120.6,386.4 121.1,386.4 121.5,386.4 122,386.4 122.5,386.4 123,386.4 123.5,386.4 123.9,386.4 124.4,386.4 124.9,386.4 125.4,386.4 125.8,386.4 126.3,386.4 126.8,386.4 127.3,386.4 127.8,386.4 128.2,386.4 128.7,386.4 129.2,386.4 129.7,386.4 130.1,386.4 130.6,386.4 131.1,386.4 131.6,386.4 132.1,386.4 132.5,386.4 133,386.4 133.5,386.4 134,386.4 134.4,386.4 134.9,386.4 135.4,386.4 135.9,386.4 136.4,386.4 136.8,386.4 137.3,386.4 137.8,386.4 138.3,386.4 138.8,386.4 139.2,386.4 139.7,386.4 140.2,386.4 140.7,386.4 141.1,386.4 141.6,386.4 142.1,386.4 142.6,386.4 143.1,386.4 143.5,386.4 144,386.4 144.5,386.4 145,386.4 145.4,386.4 145.9,386.4 146.4,386.4 146.9,386.4 147.4,386.4 147.8,386.4 148.3,386.4 148.8,386.4 149.3,386.4 149.7,386.4 150.2,386.4 150.7,386.4 151.2,386.4 151.7,386.4 152.1,386.4 152.6,386.4 153.1,386.4 153.6,386.4 154,386.4 154.5,386.4 155,386.4 155.5,386.4 156,386.4 156.4,386.4 156.9,386.4 157.4,386.4 157.9,386.4 158.3,386.4 158.8,386.4 159.3,386.4 159.8,386.4 160.3,386.4 160.7,386.4 161.2,386.4 161.7,386.4 162.2,386.4 162.7,386.4 163.1,386.4 163.6,386.4 164.1,386.4 164.6,386.4 165,386.4 165.5,386.4 166,386.4 166.5,386.4 167,386.4 167.4,386.4 167.9,386.4 168.4,386.4 168.9,386.4 169.3,386.4 169.8,386.4 170.3,386.4 170.8,386.4 171.3,386.4 171.7,386.4 172.2,386.4 172.7,386.4 173.2,386.4 173.6,386.4 174.1,386.4 174.6,386.4 174.6,386.4 174.1,386.4 173.6,386.4 173.2,386.4 172.7,386.4 172.2,386.4 171.7,386.4 171.3,386.4 170.8,386.4 170.3,386.4 169.8,386.4 169.3,386.4 168.9,386.4 168.4,386.4 167.9,386.4 167.4,386.4 167,386.4 166.5,386.4 166,386.4 165.5,386.4 165,386.4 164.6,386.4 164.1,386.4 163.6,386.4 163.1,386.4 162.7,386.4 162.2,386.4 161.7,386.4 161.2,386.4 160.7,386.4 160.3,386.4 159.8,386.4 159.3,386.4 158.8,386.4 158.3,386.4 157.9,386.4 157.4,386.4 156.9,386.4 156.4,386.4 156,386.4 155.5,386.4 155,386.4 154.5,386.4 154,386.4 153.6,386.4 153.1,386.4 152.6,386.4 152.1,386.4 151.7,386.4 151.2,386.4 150.7,386.4 150.2,386.4 149.7,386.4 149.3,386.4 148.8,386.4 148.3,386.4 147.8,386.4 147.4,386.4 146.9,386.4 146.4,386.4 145.9,386.4 145.4,386.4 145,386.4 144.5,386.4 144,386.4 143.5,386.4 143.1,386.4 142.6,386.4 142.1,386.4 141.6,386.4 141.1,386.4 140.7,386.4 140.2,386.4 139.7,386.4 139.2,386.4 138.8,386.4 138.3,386.4 137.8,386.4 137.3,386.4 136.8,386.4 136.4,386.4 135.9,386.4 135.4,386.4 134.9,386.4 134.4,386.4 134,386.4 133.5,386.4 133,386.4 132.5,386.4 132.1,386.4 131.6,386.4 131.1,386.4 130.6,386.4 130.1,386.4 129.7,386.4 129.2,386.4 128.7,386.4 128.2,386.4 127.8,386.4 127.3,386.4 126.8,386.4 126.3,386.4 125.8,386.4 125.4,386.4 124.9,386.4 124.4,386.4 123.9,386.4 123.5,386.4 123,386.4 122.5,386.4 122,386.4 121.5,386.4 121.1,386.4 120.6,386.4 120.1,386.4 119.6,386.4 119.2,386.4 118.7,386.4 118.2,386.4 117.7,386.4 117.2,386.4 116.8,386.4 116.3,386.4 115.8,386.4 115.3,386.4 114.9,386.4 114.4,386.4 113.9,386.4 113.4,386.4 112.9,386.4 112.5,386.4 112,386.4 111.5,386.4 111,388.1 110.5,390.5 110.1,392.8 109.6,395 109.1,396.8 108.6,398.5 108.2,400.1 107.7,401.6 107.2,403 106.7,404.4 106.2,405.7 105.8,407.1 105.3,408.5 104.8,409.8 104.3,411.2 103.9,412.5 103.4,413.7 102.9,415 102.4,416.2 101.9,417.3 101.5,418.4 101,419.5 100.5,420.6 100,421.7 99.6,422.7 99.1,423.8 98.6,424.9 98.1,425.9 97.6,427 97.2,428.1 96.7,429.1 96.2,430.2 95.7,431.2 95.3,432.2 94.8,433.2 94.3,434.2 93.8,435.1 93.3,436 92.9,436.9 92.4,437.7 91.9,438.5 91.4,439.3 91,440.2 90.5,441 90,441.7 89.5,442.5 89,443.3 88.6,444 88.1,444.8 87.6,445.5 87.1,446.2 86.6,446.9 86.2,447.6 85.7,448.3 85.2,449 84.7,449.5 84.3,450.1 83.8,450.5 83.3,450.9 82.8,451.2 82.3,451.6 81.9,451.8 81.4,452.1 80.9,452.3 80.4,452.5 80,452.6 79.5,452.7 79,452.8 78.5,452.9 78,452.9 77.6,452.9 77.1,452.8 76.6,452.8 76.1,452.7 75.7,452.6 75.2,452.5 74.7,452.3 74.2,452.2 73.7,452 73.3,451.9 72.8,451.7 72.3,451.6 71.8,451.4 71.4,451.3 70.9,451.2 70.4,451 69.9,450.9 69.4,450.8 69,450.7 68.5,450.6 68,450.5 67.5,450.4 67.1,450.4 66.6,450.3 66.1,450.3 65.6,450.3 65.1,450.3 64.7,450.3 64.2,450.3 63.7,450.3 63.2,450.3 62.7,450.4 62.3,450.4 61.8,450.5 61.3,450.5 60.8,450.6 60.4,450.7 59.9,450.7 59.4,450.8 58.9,450.9 58.4,451 58,451.1 57.5,451.2 57,451.2 56.5,451.3 56.1,451.4 55.6,451.5 55.1,451.6 54.6,451.7 54.1,451.8 53.7,451.9 53.2,452 52.7,452.1 52.2,452.2 51.8,452.3 51.3,452.4 50.8,452.5" fill="#1f9a8a" fill-opacity="0.2"/>
<polygon points="50.8,418.5 51.3,418.4 51.8,418.2 52.2,418.1 52.7,417.9 53.2,417.7 53.7,417.6 54.1,417.4 54.6,417.2 55.1,417.1 55.6,416.9 56.1,416.7 56.5,416.5 57,416.3 57.5,416.1 58,415.9 58.4,415.7 58.9,415.5 59.4,415.3 59.9,415.1 60.4,414.9 60.8,414.6 61.3,414.4 61.8,414.1 62.3,413.8 62.7,413.5 63.2,413.2 63.7,412.9 64.2,412.5 64.7,412.1 65.1,411.7 65.6,411.2 66.1,410.8 66.6,410.3 67.1,409.8 67.5,409.2 68,408.6 68.5,407.9 69,407.1 69.4,406.3 69.9,405.5 70.4,404.6 70.9,403.7 71.4,402.8 71.8,401.6 72.3,400.4 72.8,399.2 73.3,398 73.7,396.7 74.2,395.2 74.7,386.4 75.2,386.4 75.7,386.4 76.1,386.4 76.6,386.4 77.1,386.4 77.6,386.4 78,386.4 78.5,386.4 79,386.4 79.5,386.4 80,386.4 80.4,386.4 80.9,386.4 81.4,386.4 81.9,386.4 82.3,386.4 82.8,386.4 83.3,386.4 83.8,386.4 84.3,386.4 84.7,386.4 85.2,386.4 85.7,386.4 86.2,386.4 86.6,386.4 87.1,386.4 87.6,386.4 88.1,386.4 88.6,386.4 89,386.4 89.5,386.4 90,386.4 90.5,386.4 91,386.4 91.4,386.4 91.9,386.4 92.4,386.4 92.9,386.4 93.3,386.4 93.8,386.4 94.3,386.4 94.8,386.4 95.3,386.4 95.7,386.4 96.2,386.4 96.7,386.4 97.2,386.4 97.6,386.4 98.1,386.4 98.6,386.4 99.1,386.4 99.6,386.4 100,386.4 100.5,386.4 101,386.4 101.5,386.4 101.9,386.4 102.4,386.4 102.9,386.4 103.4,386.4 103.9,386.4 104.3,386.4 104.8,386.4 105.3,386.4 105.8,386.4 106.2,386.4 106.7,386.4 107.2,386.4 107.7,386.4 108.2,386.4 108.6,386.4 109.1,386.4 109.6,386.4 110.1,386.4 110.5,386.4 111,386.4 111.5,386.4 112,386.4 112.5,386.4 112.9,386.4 113.4,386.4 113.9,386.4 114.4,386.4 114.9,386.4 115.3,386.4 115.8,386.4 116.3,386.4 116.8,386.4 117.2,386.4 117.7,386.4 118.2,386.4 118.7,386.4 119.2,386.4 119.6,386.4 120.1,386.4 120.6,386.4 121.1,386.4 121.5,386.4 122,386.4 122.5,386.4 123,386.4 123.5,386.4 123.9,386.4 124.4,386.4 124.9,386.4 125.4,386.4 125.8,386.4 126.3,386.4 126.8,386.4 127.3,386.4 127.8,386.4 128.2,386.4 128.7,386.4 129.2,386.4 129.7,386.4 130.1,386.4 130.6,386.4 131.1,386.4 131.6,386.4 132.1,386.4 132.5,386.4 133,386.4 133.5,386.4 134,386.4 134.4,386.4 134.9,386.4 135.4,386.4 135.9,386.4 136.4,386.4 136.8,386.4 137.3,386.4 137.8,386.4 138.3,386.4 138.8,386.4 139.2,386.4 139.7,386.4 140.2,386.4 140.7,386.4 141.1,386.4 141.6,386.4 142.1,386.4 142.6,386.4 143.1,386.4 143.5,386.4 144,386.4 144.5,386.4 145,386.4 145.4,386.4 145.9,386.4 146.4,386.4 146.9,386.4 147.4,386.4 147.8,386.4 148.3,386.4 148.8,386.4 149.3,386.4 149.7,386.4 150.2,386.4 150.7,386.4 151.2,386.4 151.7,386.4 152.1,386.4 152.6,386.4 153.1,386.4 153.6,386.4 154,386.4 154.5,386.4 155,386.4 155.5,386.4 156,386.4 156.4,386.4 156.9,386.4 157.4,386.4 157.9,386.4 158.3,386.4 158.8,386.4 159.3,386.4 159.8,386.4 160.3,386.4 160.7,386.4 161.2,386.4 161.7,386.4 162.2,386.4 162.7,386.4 163.1,386.4 163.6,386.4 164.1,386.4 164.6,386.4 165,386.4 165.5,386.4 166,386.4 166.5,386.4 167,386.4 167.4,386.4 167.9,386.4 168.4,386.4 168.9,386.4 169.3,386.4 169.8,386.4 170.3,386.4 170.8,386.4 171.3,386.4 171.7,386.4 172.2,386.4 172.7,386.4 173.2,386.4 173.6,386.4 174.1,386.4 174.6,386.4 174.6,386.4 174.1,386.4 173.6,386.4 173.2,386.4 172.7,386.4 172.2,386.4 171.7,386.4 171.3,386.4 170.8,386.4 170.3,386.4 169.8,386.4 169.3,386.4 168.9,386.4 168.4,386.4 167.9,386.4 167.4,386.4 167,386.4 166.5,386.4 166,386.4 165.5,386.4 165,386.4 164.6,386.4 164.1,386.4 163.6,386.4 163.1,386.4 162.7,386.4 162.2,386.4 161.7,386.4 161.2,386.4 160.7,386.4 160.3,386.4 159.8,386.4 159.3,386.4 158.8,386.4 158.3,386.4 157.9,386.4 157.4,386.4 156.9,386.4 156.4,386.4 156,386.4 155.5,386.4 155,386.4 154.5,386.4 154,386.4 153.6,386.4 153.1,386.4 152.6,386.4 152.1,386.4 151.7,386.4 151.2,386.4 150.7,386.4 150.2,386.4 149.7,386.4 149.3,386.4 148.8,386.4 148.3,386.4 147.8,386.4 147.4,386.4 146.9,386.4 146.4,386.4 145.9,386.4 145.4,386.4 145,386.4 144.5,386.4 144,386.4 143.5,386.4 143.1,386.4 142.6,386.4 142.1,386.4 141.6,386.4 141.1,386.4 140.7,386.4 140.2,386.4 139.7,386.4 139.2,386.4 138.8,386.4 138.3,386.4 137.8,386.4 137.3,386.4 136.8,386.4 136.4,386.4 135.9,386.4 135.4,386.4 134.9,386.4 134.4,386.4 134,386.4 133.5,386.4 133,386.4 132.5,386.4 132.1,386.4 131.6,386.4 131.1,386.4 130.6,386.4 130.1,386.4 129.7,386.4 129.2,386.4 128.7,386.4 128.2,386.4 127.8,386.4 127.3,386.4 126.8,386.4 126.3,386.4 125.8,386.4 125.4,386.4 124.9,386.4 124.4,386.4 123.9,386.4 123.5,386.4 123,386.4 122.5,386.4 122,386.4 121.5,386.4 121.1,386.4 120.6,386.4 120.1,386.4 119.6,386.4 119.2,386.4 118.7,386.4 118.2,386.4 117.7,386.4 117.2,386.4 116.8,386.4 116.3,386.4 115.8,386.4 115.3,386.4 114.9,386.4 114.4,386.4 113.9,386.4 113.4,386.4 112.9,386.4 112.5,386.4 112,386.4 111.5,386.4 111,386.4 110.5,386.4 110.1,386.4 109.6,386.4 109.1,386.4 108.6,386.4 108.2,386.4 107.7,388.4 107.2,390.2 106.7,391.9 106.2,393.5 105.8,395 105.3,396.4 104.8,397.7 104.3,399.1 103.9,400.4 103.4,401.7 102.9,403.1 102.4,404.4 101.9,405.8 101.5,407.1 101,408.4 100.5,409.7 100,410.8 99.6,412 99.1,413.1 98.6,414.2 98.1,415.2 97.6,416.3 97.2,417.3 96.7,418.4 96.2,419.4 95.7,420.5 95.3,421.5 94.8,422.6 94.3,423.6 93.8,424.7 93.3,425.7 92.9,426.7 92.4,427.7 91.9,428.7 91.4,429.6 91,430.5 90.5,431.4 90,432.3 89.5,433.1 89,434 88.6,434.8 88.1,435.6 87.6,436.4 87.1,437.2 86.6,438 86.2,438.7 85.7,439.4 85.2,440.1 84.7,440.8 84.3,441.5 83.8,442.1 83.3,442.7 82.8,443.2 82.3,443.7 81.9,444.1 81.4,444.4 80.9,444.8 80.4,445.1 80,445.3 79.5,445.5 79,445.7 78.5,445.9 78,446 77.6,446.1 77.1,446.2 76.6,446.2 76.1,446.3 75.7,446.3 75.2,446.3 74.7,446.2 74.2,446.2 73.7,446.1 73.3,446.1 72.8,446 72.3,446 71.8,445.9 71.4,445.9 70.9,445.8 70.4,445.8 69.9,445.7 69.4,445.7 69,445.7 68.5,445.7 68,445.7 67.5,445.7 67.1,445.7 66.6,445.7 66.1,445.8 65.6,445.8 65.1,445.9 64.7,446 64.2,446.1 63.7,446.2 63.2,446.3 62.7,446.4 62.3,446.5 61.8,446.6 61.3,446.8 60.8,446.9 60.4,447 59.9,447.2 59.4,447.3 58.9,447.5 58.4,447.6 58,447.8 57.5,447.9 57,448.1 56.5,448.3 56.1,448.4 55.6,448.6 55.1,448.7 54.6,448.9 54.1,449 53.7,449.2 53.2,449.4 52.7,449.5 52.2,449.7 51.8,449.8 51.3,450 50.8,450.1" fill="#2e6f8e" fill-opacity="0.2"/>
<polygon points="50.8,416.1 51.3,415.9 51.8,415.7 52.2,415.5 52.7,415.2 53.2,415 53.7,414.7 54.1,414.5 54.6,414.2 55.1,413.9 55.6,413.7 56.1,413.4 56.5,413.1 57,412.8 57.5,412.5 58,412.1 58.4,411.8 58.9,411.5 59.4,411.1 59.9,410.7 60.4,410.3 60.8,409.9 61.3,409.5 61.8,409.1 62.3,408.6 62.7,408.1 63.2,407.6 63.7,407 64.2,406.5 64.7,405.9 65.1,405.3 65.6,404.7 66.1,404 66.6,403.3 67.1,402.5 67.5,401.7 68,400.8 68.5,399.7 69,398.5 69.4,397.3 69.9,396.1 70.4,395.1 70.9,394 71.4,386.4 71.8,386.4 72.3,386.4 72.8,386.4 73.3,386.4 73.7,386.4 74.2,386.4 74.7,386.4 75.2,386.4 75.7,386.4 76.1,386.4 76.6,386.4 77.1,386.4 77.6,386.4 78,386.4 78.5,386.4 79,386.4 79.5,386.4 80,386.4 80.4,386.4 80.9,386.4 81.4,386.4 81.9,386.4 82.3,386.4 82.8,386.4 83.3,386.4 83.8,386.4 84.3,386.4 84.7,386.4 85.2,386.4 85.7,386.4 86.2,386.4 86.6,386.4 87.1,386.4 87.6,386.4 88.1,386.4 88.6,386.4 89,386.4 89.5,386.4 90,386.4 90.5,386.4 91,386.4 91.4,386.4 91.9,386.4 92.4,386.4 92.9,386.4 93.3,386.4 93.8,386.4 94.3,386.4 94.8,386.4 95.3,386.4 95.7,386.4 96.2,386.4 96.7,386.4 97.2,386.4 97.6,386.4 98.1,386.4 98.6,386.4 99.1,386.4 99.6,386.4 100,386.4 100.5,386.4 101,386.4 101.5,386.4 101.9,386.4 102.4,386.4 102.9,386.4 103.4,386.4 103.9,386.4 104.3,386.4 104.8,386.4 105.3,386.4 105.8,386.4 106.2,386.4 106.7,386.4 107.2,386.4 107.7,386.4 108.2,386.4 108.6,386.4 109.1,386.4 109.6,386.4 110.1,386.4 110.5,386.4 111,386.4 111.5,386.4 112,386.4 112.5,386.4 112.9,386.4 113.4,386.4 113.9,386.4 114.4,386.4 114.9,386.4 115.3,386.4 115.8,386.4 116.3,386.4 116.8,386.4 117.2,386.4 117.7,386.4 118.2,386.4 118.7,386.4 119.2,386.4 119.6,386.4 120.1,386.4 120.6,386.4 121.1,386.4 121.5,386.4 122,386.4 122.5,386.4 123,386.4 123.5,386.4 123.9,386.4 124.4,386.4 124.9,386.4 125.4,386.4 125.8,386.4 126.3,386.4 126.8,386.4 127.3,386.4 127.8,386.4 128.2,386.4 128.7,386.4 129.2,386.4 129.7,386.4 130.1,386.4 130.6,386.4 131.1,386.4 131.6,386.4 132.1,386.4 132.5,386.4 133,386.4 133.5,386.4 134,386.4 134.4,386.4 134.9,386.4 135.4,386.4 135.9,386.4 136.4,386.4 136.8,386.4 137.3,386.4 137.8,386.4 138.3,386.4 138.8,386.4 139.2,386.4 139.7,386.4 140.2,386.4 140.7,386.4 141.1,386.4 141.6,386.4 142.1,386.4 142.6,386.4 143.1,386.4 143.5,386.4 144,386.4 144.5,386.4 145,386.4 145.4,386.4 145.9,386.4 146.4,386.4 146.9,386.4 147.4,386.4 147.8,386.4 148.3,386.4 148.8,386.4 149.3,386.4 149.7,386.4 150.2,386.4 150.7,386.4 151.2,386.4 151.7,386.4 152.1,386.4 152.6,386.4 153.1,386.4 153.6,386.4 154,386.4 154.5,386.4 155,386.4 155.5,386.4 156,386.4 156.4,386.4 156.9,386.4 157.4,386.4 157.9,386.4 158.3,386.4 158.8,386.4 159.3,386.4 159.8,386.4 160.3,386.4 160.7,386.4 161.2,386.4 161.7,386.4 162.2,386.4 162.7,386.4 163.1,386.4 163.6,386.4 164.1,386.4 164.6,386.4 165,386.4 165.5,386.4 166,386.4 166.5,386.4 167,386.4 167.4,386.4 167.9,386.4 168.4,386.4 168.9,386.4 169.3,386.4 169.8,386.4 170.3,386.4 170.8,386.4 171.3,386.4 171.7,386.4 172.2,386.4 172.7,386.4 173.2,386.4 173.6,386.4 174.1,386.4 174.6,386.4 174.6,386.4 174.1,386.4 173.6,386.4 173.2,386.4 172.7,386.4 172.2,386.4 171.7,386.4 171.3,386.4 170.8,386.4 170.3,386.4 169.8,386.4 169.3,386.4 168.9,386.4 168.4,386.4 167.9,386.4 167.4,386.4 167,386.4 166.5,386.4 166,386.4 165.5,386.4 165,386.4 164.6,386.4 164.1,386.4 163.6,386.4 163.1,386.4 162.7,386.4 162.2,386.4 161.7,386.4 161.2,386.4 160.7,386.4 160.3,386.4 159.8,386.4 159.3,386.4 158.8,386.4 158.3,386.4 157.9,386.4 157.4,386.4 156.9,386.4 156.4,386.4 156,386.4 155.5,386.4 155,386.4 154.5,386.4 154,386.4 153.6,386.4 153.1,386.4 152.6,386.4 152.1,386.4 151.7,386.4 151.2,386.4 150.7,386.4 150.2,386.4 149.7,386.4 149.3,386.4 148.8,386.4 148.3,386.4 147.8,386.4 147.4,386.4 146.9,386.4 146.4,386.4 145.9,386.4 145.4,386.4 145,386.4 144.5,386.4 144,386.4 143.5,386.4 143.1,386.4 142.6,386.4 142.1,386.4 141.6,386.4 141.1,386.4 140.7,386.4 140.2,386.4 139.7,386.4 139.2,386.4 138.8,386.4 138.3,386.4 137.8,386.4 137.3,386.4 136.8,386.4 136.4,386.4 135.9,386.4 135.4,386.4 134.9,386.4 134.4,386.4 134,386.4 133.5,386.4 133,386.4 132.5,386.4 132.1,386.4 131.6,386.4 131.1,386.4 130.6,386.4 130.1,386.4 129.7,386.4 129.2,386.4 128.7,386.4 128.2,386.4 127.8,386.4 127.3,386.4 126.8,386.4 126.3,386.4 125.8,386.4 125.4,386.4 124.9,386.4 124.4,386.4 123.9,386.4 123.5,386.4 123,386.4 122.5,386.4 122,386.4 121.5,386.4 121.1,386.4 120.6,386.4 120.1,386.4 119.6,386.4 119.2,386.4 118.7,386.4 118.2,386.4 117.7,386.4 117.2,386.4 116.8,386.4 116.3,386.4 115.8,386.4 115.3,386.4 114.9,386.4 114.4,386.4 113.9,386.4 113.4,386.4 112.9,386.4 112.5,386.4 112,386.4 111.5,386.4 111,386.4 110.5,386.4 110.1,386.4 109.6,386.4 109.1,386.4 108.6,386.4 108.2,386.4 107.7,386.4 107.2,386.4 106.7,386.4 106.2,386.4 105.8,386.4 105.3,386.4 104.8,386.4 104.3,386.4 103.9,388.4 103.4,389.5 102.9,390.6 102.4,391.7 101.9,392.9 101.5,394.1 101,395.3 100.5,396.6 100,398 99.6,399.3 99.1,400.7 98.6,402 98.1,403.4 97.6,404.7 97.2,405.9 96.7,407.1 96.2,408.2 95.7,409.3 95.3,410.3 94.8,411.4 94.3,412.4 93.8,413.5 93.3,414.5 92.9,415.5 92.4,416.6 91.9,417.6 91.4,418.6 91,419.6 90.5,420.6 90,421.6 89.5,422.6 89,423.5 88.6,424.4 88.1,425.3 87.6,426.2 87.1,427.1 86.6,427.9 86.2,428.7 85.7,429.5 85.2,430.3 84.7,431 84.3,431.7 83.8,432.4 83.3,433.1 82.8,433.7 82.3,434.3 81.9,434.9 81.4,435.4 80.9,435.9 80.4,436.4 80,436.7 79.5,437.1 79,437.4 78.5,437.7 78,438 77.6,438.2 77.1,438.4 76.6,438.6 76.1,438.8 75.7,438.9 75.2,439 74.7,439.1 74.2,439.2 73.7,439.3 73.3,439.4 72.8,439.4 72.3,439.5 71.8,439.6 71.4,439.6 70.9,439.7 70.4,439.8 69.9,439.9 69.4,439.9 69,440 68.5,440.1 68,440.2 67.5,440.4 67.1,440.5 66.6,440.6 66.1,440.8 65.6,440.9 65.1,441.1 64.7,441.2 64.2,441.4 63.7,441.6 63.2,441.8 62.7,442 62.3,442.2 61.8,442.4 61.3,442.7 60.8,442.9 60.4,443.1 59.9,443.3 59.4,443.6 58.9,443.8 58.4,444.1 58,444.3 57.5,444.5 57,444.8 56.5,445 56.1,445.2 55.6,445.5 55.1,445.7 54.6,446 54.1,446.2 53.7,446.4 53.2,446.6 52.7,446.9 52.2,447.1 51.8,447.3 51.3,447.5 50.8,447.8" fill="#433e85" fill-opacity="0.2"/>
<polygon points="50.8,412.1 51.3,411.9 51.8,411.6 52.2,411.4 52.7,411.1 53.2,410.8 53.7,410.5 54.1,410.2 54.6,410 55.1,409.7 55.6,409.3 56.1,409 56.5,408.7 57,408.3 57.5,408 58,407.6 58.4,407.2 58.9,406.8 59.4,406.4 59.9,405.9 60.4,405.5 60.8,405 61.3,404.5 61.8,404 62.3,403.5 62.7,403 63.2,402.5 63.7,401.9 64.2,401.4 64.7,400.8 65.1,400.1 65.6,399.4 66.1,398.7 66.6,397.7 67.1,396.6 67.5,395.6 68,394.7 68.5,394.1 69,386.4 69.4,386.4 69.9,386.4 70.4,386.4 70.9,386.4 71.4,386.4 71.8,386.4 72.3,386.4 72.8,386.4 73.3,386.4 73.7,386.4 74.2,386.4 74.7,386.4 75.2,386.4 75.7,386.4 76.1,386.4 76.6,386.4 77.1,386.4 77.6,386.4 78,386.4 78.5,386.4 79,386.4 79.5,386.4 80,386.4 80.4,386.4 80.9,386.4 81.4,386.4 81.9,386.4 82.3,386.4 82.8,386.4 83.3,386.4 83.8,386.4 84.3,386.4 84.7,386.4 85.2,386.4 85.7,386.4 86.2,386.4 86.6,386.4 87.1,386.4 87.6,386.4 88.1,386.4 88.6,386.4 89,386.4 89.5,386.4 90,386.4 90.5,386.4 91,386.4 91.4,386.4 91.9,386.4 92.4,386.4 92.9,386.4 93.3,386.4 93.8,386.4 94.3,386.4 94.8,386.4 95.3,386.4 95.7,386.4 96.2,386.4 96.7,386.4 97.2,386.4 97.6,386.4 98.1,386.4 98.6,386.4 99.1,386.4 99.6,386.4 100,386.4 100.5,386.4 101,386.4 101.5,386.4 101.9,386.4 102.4,386.4 102.9,386.4 103.4,386.4 103.9,386.4 104.3,386.4 104.8,386.4 105.3,386.4 105.8,386.4 106.2,386.4 106.7,386.4 107.2,386.4 107.7,386.4 108.2,386.4 108.6,386.4 109.1,386.4 109.6,386.4 110.1,386.4 110.5,386.4 111,386.4 111.5,386.4 112,386.4 112.5,386.4 112.9,386.4 113.4,386.4 113.9,386.4 114.4,386.4 114.9,386.4 115.3,386.4 115.8,386.4 116.3,386.4 116.8,386.4 117.2,386.4 117.7,386.4 118.2,386.4 118.7,386.4 119.2,386.4 119.6,386.4 120.1,386.4 120.6,386.4 121.1,386.4 121.5,386.4 122,386.4 122.5,386.4 123,386.4 123.5,386.4 123.9,386.4 124.4,386.4 124.9,386.4 125.4,386.4 125.8,386.4 126.3,386.4 126.8,386.4 127.3,386.4 127.8,386.4 128.2,386.4 128.7,386.4 129.2,386.4 129.7,386.4 130.1,386.4 130.6,386.4 131.1,386.4 131.6,386.4 132.1,386.4 132.5,386.4 133,386.4 133.5,386.4 134,386.4 134.4,386.4 134.9,386.4 135.4,386.4 135.9,386.4 136.4,386.4 136.8,386.4 137.3,386.4 137.8,386.4 138.3,386.4 138.8,386.4 139.2,386.4 139.7,386.4 140.2,386.4 140.7,386.4 141.1,386.4 141.6,386.4 142.1,386.4 142.6,386.4 143.1,386.4 143.5,386.4 144,386.4 144.5,386.4 145,386.4 145.4,386.4 145.9,386.4 146.4,386.4 146.9,386.4 147.4,386.4 147.8,386.4 148.3,386.4 148.8,386.4 149.3,386.4 149.7,386.4 150.2,386.4 150.7,386.4 151.2,386.4 151.7,386.4 152.1,386.4 152.6,386.4 153.1,386.4 153.6,386.4 154,386.4 154.5,386.4 155,386.4 155.5,386.4 156,386.4 156.4,386.4 156.9,386.4 157.4,386.4 157.9,386.4 158.3,386.4 158.8,386.4 159.3,386.4 159.8,386.4 160.3,386.4 160.7,386.4 161.2,386.4 161.7,386.4 162.2,386.4 162.7,386.4 163.1,386.4 163.6,386.4 164.1,386.4 164.6,386.4 165,386.4 165.5,386.4 166,386.4 166.5,386.4 167,386.4 167.4,386.4 167.9,386.4 168.4,386.4 168.9,386.4 169.3,386.4 169.8,386.4 170.3,386.4 170.8,386.4 171.3,386.4 171.7,386.4 172.2,386.4 172.7,386.4 173.2,386.4 173.6,386.4 174.1,386.4 174.6,386.4 174.6,386.4 174.1,386.4 173.6,386.4 173.2,386.4 172.7,386.4 172.2,386.4 171.7,386.4 171.3,386.4 170.8,386.4 170.3,386.4 169.8,386.4 169.3,386.4 168.9,386.4 168.4,386.4 167.9,386.4 167.4,386.4 167,386.4 166.5,386.4 166,386.4 165.5,386.4 165,386.4 164.6,386.4 164.1,386.4 163.6,386.4 163.1,386.4 162.7,386.4 162.2,386.4 161.7,386.4 161.2,386.4 160.7,386.4 160.3,386.4 159.8,386.4 159.3,386.4 158.8,386.4 158.3,386.4 157.9,386.4 157.4,386.4 156.9,386.4 156.4,386.4 156,386.4 155.5,386.4 155,386.4 154.5,386.4 154,386.4 153.6,386.4 153.1,386.4 152.6,386.4 152.1,386.4 151.7,386.4 151.2,386.4 150.7,386.4 150.2,386.4 149.7,386.4 149.3,386.4 148.8,386.4 148.3,386.4 147.8,386.4 147.4,386.4 146.9,386.4 146.4,386.4 145.9,386.4 145.4,386.4 145,386.4 144.5,386.4 144,386.4 143.5,386.4 143.1,386.4 142.6,386.4 142.1,386.4 141.6,386.4 141.1,386.4 140.7,386.4 140.2,386.4 139.7,386.4 139.2,386.4 138.8,386.4 138.3,386.4 137.8,386.4 137.3,386.4 136.8,386.4 136.4,386.4 135.9,386.4 135.4,386.4 134.9,386.4 134.4,386.4 134,386.4 133.5,386.4 133,386.4 132.5,386.4 132.1,386.4 131.6,386.4 131.1,386.4 130.6,386.4 130.1,386.4 129.7,386.4 129.2,386.4 128.7,386.4 128.2,386.4 127.8,386.4 127.3,386.4 126.8,386.4 126.3,386.4 125.8,386.4 125.4,386.4 124.9,386.4 124.4,386.4 123.9,386.4 123.5,386.4 123,386.4 122.5,386.4 122,386.4 121.5,386.4 121.1,386.4 120.6,386.4 120.1,386.4 119.6,386.4 119.2,386.4 118.7,386.4 118.2,386.4 117.7,386.4 117.2,386.4 116.8,386.4 116.3,386.4 115.8,386.4 115.3,386.4 114.9,386.4 114.4,386.4 113.9,386.4 113.4,386.4 112.9,386.4 112.5,386.4 112,386.4 111.5,386.4 111,386.4 110.5,386.4 110.1,386.4 109.6,386.4 109.1,386.4 108.6,386.4 108.2,386.4 107.7,386.4 107.2,386.4 106.7,386.4 106.2,386.4 105.8,386.4 105.3,386.4 104.8,386.4 104.3,386.4 103.9,386.4 103.4,386.4 102.9,386.4 102.4,386.4 101.9,387.6 101.5,388.2 101,388.9 100.5,389.7 100,390.5 99.6,391.6 99.1,392.7 98.6,393.9 98.1,395.1 97.6,396.4 97.2,397.8 96.7,399.1 96.2,400.4 95.7,401.7 95.3,402.9 94.8,404.1 94.3,405.1 93.8,406.2 93.3,407.2 92.9,408.2 92.4,409.2 91.9,410.2 91.4,411.2 91,412.1 90.5,413.1 90,414.1 89.5,415 89,415.9 88.6,416.9 88.1,417.8 87.6,418.7 87.1,419.5 86.6,420.4 86.2,421.2 85.7,422 85.2,422.8 84.7,423.6 84.3,424.3 83.8,425 83.3,425.7 82.8,426.3 82.3,426.9 81.9,427.5 81.4,428.1 80.9,428.6 80.4,429.1 80,429.5 79.5,429.9 79,430.3 78.5,430.7 78,431 77.6,431.3 77.1,431.6 76.6,431.8 76.1,432 75.7,432.3 75.2,432.4 74.7,432.6 74.2,432.8 73.7,432.9 73.3,433.1 72.8,433.2 72.3,433.3 71.8,433.5 71.4,433.6 70.9,433.7 70.4,433.9 69.9,434 69.4,434.1 69,434.3 68.5,434.5 68,434.6 67.5,434.8 67.1,435 66.6,435.2 66.1,435.4 65.6,435.6 65.1,435.8 64.7,436 64.2,436.2 63.7,436.5 63.2,436.7 62.7,437 62.3,437.2 61.8,437.5 61.3,437.7 60.8,438 60.4,438.3 59.9,438.6 59.4,438.8 58.9,439.1 58.4,439.4 58,439.7 57.5,440 57,440.2 56.5,440.5 56.1,440.8 55.6,441.1 55.1,441.3 54.6,441.6 54.1,441.9 53.7,442.2 53.2,442.4 52.7,442.7 52.2,442.9 51.8,443.2 51.3,443.5 50.8,443.7" fill="#440154" fill-opacity="0.2"/>
<polyline points="50.8,440.8 51.4,440.7 51.9,441 52.5,441.3 53,441.1 53.6,441.4 54.1,440.8 54.7,440.2 55.2,441.1 55.8,441.2 56.4,440.6 56.9,440.7 57.5,440.9 58,441.4 58.6,441 59.1,440.6 59.7,441.7 60.2,441.2 60.8,442 61.4,441.7 61.9,442 62.5,441.1 63,441.7 63.6,440.9 64.1,441 64.7,441.2 65.2,442.4 65.8,441.4 66.4,441.1 66.9,441 67.5,441.9 68,441.4 68.6,441.7 69.1,441.6 69.7,440.6 70.2,441.6 70.8,441.2 71.4,440.7 71.9,441.5 72.5,441.2 73,441.1 73.6,441.1 74.1,441.7 74.7,441 75.2,440.2 75.8,441.7 76.4,440.3 76.9,440.6 77.5,440.9 78,439.4 78.6,439.8 79.1,440.5 79.7,439.3 80.2,438.6 80.8,438.6 81.4,437.7 81.9,437.7 82.5,436.8 83,435.9 83.6,436.5 84.1,435.4 84.7,435.1 85.2,434.1 85.8,434.1 86.4,432.9 86.9,431.7 87.5,430 88,428.7 88.6,428.8 89.1,427.2 89.7,425.1 90.2,425.2 90.8,423.1 91.4,421.5 91.9,419.4 92.5,418.3 93,417.3 93.6,415.8 94.1,414.2 94.7,411.6 95.2,411 95.8,409.2 96.4,407.1 96.9,405.6 97.5,403.7 98,402.1 98.6,398.9 99.1,395.9 99.7,391.2 100.2,387.2 100.2,386.4 174.6,386.4" fill="none" stroke="#bddf26" stroke-width="1.8" stroke-linejoin="round"/>
<polyline points="50.8,439.8 51.3,438.9 51.8,439.4 52.3,439.1 52.8,440 53.3,439 53.8,440 54.4,440.2 54.9,439.2 55.4,439.4 55.9,438.7 56.4,437.6 56.9,439.1 57.4,438.9 57.9,438.4 58.4,438.2 58.9,438.4 59.4,438.4 59.9,437.8 60.4,437.8 60.9,438.5 61.5,437.9 62,437.8 62.5,438.3 63,437.5 63.5,438 64,436.9 64.5,437.2 65,437.2 65.5,437.4 66,437.1 66.5,438 67,437.4 67.5,436.5 68.1,437.7 68.6,436 69.1,437.3 69.6,435.8 70.1,436.6 70.6,435.6 71.1,435.8 71.6,436.5 72.1,434.8 72.6,434.6 73.1,435.2 73.6,435.1 74.1,434.8 74.6,435 75.2,433.7 75.7,434.3 76.2,433.8 76.7,433.8 77.2,433.2 77.7,433.1 78.2,431.3 78.7,431.6 79.2,430.5 79.7,430.6 80.2,430.4 80.7,429.7 81.2,429.3 81.8,428.4 82.3,428 82.8,427.2 83.3,427.1 83.8,425.9 84.3,423.7 84.8,423.9 85.3,423.1 85.8,421.3 86.3,419.6 86.8,420.1 87.3,418.3 87.8,417.4 88.4,416.8 88.9,414.3 89.4,413.5 89.9,412.1 90.4,411.2 90.9,409.1 91.4,408.2 91.9,406.5 92.4,405.5 92.9,404 93.4,401 93.9,400.3 94.4,397.9 94.9,395.7 95.5,393.1 96,390.1 96,386.4 174.6,386.4" fill="none" stroke="#4ec36b" stroke-width="1.8" stroke-linejoin="round"/>
<polyline points="50.8,438.4 51.3,438.2 51.8,437.5 52.3,437.7 52.7,437.7 53.2,438.1 53.7,438.5 54.2,437.1 54.7,437 55.2,437.5 55.7,437 56.2,436.8 56.6,436.6 57.1,436.4 57.6,437.1 58.1,435.9 58.6,437.2 59.1,436 59.6,436.1 60,435.7 60.5,435.1 61,435.2 61.5,436.4 62,436.6 62.5,435.1 63,436 63.5,435.3 63.9,434.7 64.4,435.9 64.9,436 65.4,434.6 65.9,434.6 66.4,434.6 66.9,434.3 67.4,434.6 67.8,434.8 68.3,433.9 68.8,434.1 69.3,434.3 69.8,433 70.3,433.1 70.8,432.7 71.2,433.2 71.7,432.8 72.2,432.8 72.7,432.5 73.2,431.6 73.7,431.9 74.2,431 74.7,430.8 75.1,429.5 75.6,430.9 76.1,429.3 76.6,429.3 77.1,428.9 77.6,429.2 78.1,428.2 78.5,427 79,427 79.5,426.4 80,426.1 80.5,424.7 81,424.7 81.5,425.3 82,423.8 82.4,423.7 82.9,423.5 83.4,421.2 83.9,419.2 84.4,419 84.9,418.6 85.4,417.5 85.9,415.4 86.3,414.9 86.8,413.9 87.3,412.9 87.8,411.7 88.3,410.1 88.8,409 89.3,407.9 89.7,407.1 90.2,404.9 90.7,404.2 91.2,401.8 91.7,401.6 92.2,399.4 92.7,397.6 93.2,396.3 93.6,392.4 94.1,390 94.1,386.4 174.6,386.4" fill="none" stroke="#1f9a8a" stroke-width="1.8" stroke-linejoin="round"/>
<polyline points="50.8,435.8 51.3,437.2 51.7,435.6 52.2,435.6 52.6,435.4 53.1,435.8 53.5,435.2 54,435 54.4,434.2 54.9,434.5 55.3,434.5 55.8,433.5 56.2,434.4 56.7,434.2 57.1,434.8 57.6,432.8 58,432.9 58.5,432.8 58.9,432.7 59.4,432.9 59.8,432.6 60.3,432.7 60.7,432.5 61.2,432.2 61.6,431.2 62.1,431.5 62.5,431.6 63,431.7 63.4,431.5 63.9,430.2 64.3,430.5 64.8,430.6 65.2,430.6 65.7,430.7 66.1,430 66.6,429.2 67,429.7 67.5,429.4 67.9,429.1 68.4,428.7 68.8,429.3 69.3,428.3 69.7,428.4 70.2,427.2 70.6,427.8 71.1,426.8 71.5,426 72,426.6 72.4,426.5 72.9,425.7 73.3,425.5 73.8,425.6 74.2,424.3 74.7,423.1 75.1,423.9 75.6,423.4 76,423.4 76.5,422.2 76.9,422.5 77.4,422 77.8,420.2 78.3,420.8 78.7,419.3 79.2,418.5 79.6,418.5 80.1,417.7 80.5,416.3 81,416.7 81.4,416.1 81.9,415.7 82.4,414.2 82.8,412.6 83.3,412.1 83.7,412.2 84.2,411.3 84.6,410.2 85.1,408.9 85.5,408.1 86,406.8 86.4,405.6 86.9,404.7 87.3,403.4 87.8,402 88.2,401 88.7,399.4 89.1,397.5 89.6,396.8 90,395.7 90.5,395 90.9,392.2 90.9,386.4 174.6,386.4" fill="none" stroke="#2e6f8e" stroke-width="1.8" stroke-linejoin="round"/>
<polyline points="50.8,433.2 51.2,433.1 51.6,433.3 52,434 52.4,433.1 52.8,433.1 53.3,432.2 53.7,431.1 54.1,432 54.5,432.3 54.9,432.3 55.3,431.5 55.7,431.4 56.1,431.7 56.5,430.8 56.9,431.2 57.4,429.8 57.8,429.6 58.2,429.4 58.6,430 59,429.2 59.4,429.3 59.8,429.2 60.2,429 60.6,429.2 61,429.1 61.4,427.6 61.9,427.9 62.3,427.4 62.7,426.7 63.1,427.9 63.5,427.2 63.9,426.4 64.3,426 64.7,426.1 65.1,425.1 65.5,425.2 66,425.7 66.4,425.2 66.8,424 67.2,423.9 67.6,424.8 68,422.7 68.4,422.8 68.8,422 69.2,422.6 69.6,422.2 70,422.3 70.5,420 70.9,421 71.3,419.7 71.7,420.5 72.1,419.6 72.5,420.2 72.9,419.1 73.3,417.9 73.7,418.7 74.1,417 74.5,416.9 75,417.2 75.4,416.5 75.8,416 76.2,415.3 76.6,415 77,414.7 77.4,413.9 77.8,413.7 78.2,413.2 78.6,412 79.1,410.9 79.5,411.5 79.9,410.1 80.3,409.8 80.7,409.3 81.1,407.6 81.5,407.6 81.9,405.8 82.3,406.2 82.7,404.7 83.1,404 83.6,403.3 84,401.5 84.4,400.9 84.8,399.5 85.2,398.9 85.6,398.5 86,397 86.4,396.1 86.8,394.7 87.2,394.8 87.2,386.4 174.6,386.4" fill="none" stroke="#433e85" stroke-width="1.8" stroke-linejoin="round"/>
<polyline points="50.8,429.2 51.2,430 51.6,430.2 52,429 52.3,428.2 52.7,429.4 53.1,429 53.5,428.6 53.9,428.6 54.3,427.6 54.6,428 55,427.8 55.4,426.9 55.8,427.4 56.2,426.5 56.6,427 56.9,426.9 57.3,427 57.7,424.8 58.1,425.8 58.5,425.2 58.9,425.1 59.2,424.8 59.6,424.6 60,423.4 60.4,424.7 60.8,424.7 61.2,424.1 61.5,424.1 61.9,422.7 62.3,422.4 62.7,423 63.1,423 63.5,422.2 63.8,420.9 64.2,422.9 64.6,420.8 65,421.4 65.4,419.9 65.8,420.7 66.1,420 66.5,420.3 66.9,419.7 67.3,418.1 67.7,418.1 68.1,418.4 68.4,418.2 68.8,418.4 69.2,417.3 69.6,416.7 70,416.4 70.4,416 70.8,416.2 71.1,415.2 71.5,414.8 71.9,413.7 72.3,413 72.7,413.7 73.1,413.6 73.4,412.8 73.8,412.7 74.2,412.4 74.6,411.6 75,411.7 75.4,410.4 75.7,410.3 76.1,409.7 76.5,409.5 76.9,409.3 77.3,409 77.7,408.1 78,407.7 78.4,406.8 78.8,406.4 79.2,406.6 79.6,405.2 80,405.4 80.3,404.4 80.7,403.5 81.1,403.6 81.5,401.6 81.9,400.7 82.3,400 82.6,399.3 83,398.5 83.4,398.1 83.8,397.1 84.2,396.7 84.6,395.9 84.9,396.2 85,386.4 174.6,386.4" fill="none" stroke="#440154" stroke-width="1.8" stroke-linejoin="round"/>
<rect x="50.8" y="385.2" width="123.8" height="77.2" fill="none" stroke="#a0a0a0" stroke-width="0.9"/>
<line x1="50.8" y1="385.2" x2="50.8" y2="462.4" stroke="#8a8a8a" stroke-width="1"/>
<line x1="50.8" y1="462.4" x2="174.6" y2="462.4" stroke="#8a8a8a" stroke-width="1"/>
<line x1="49" y1="462.4" x2="50.8" y2="462.4" stroke="#8a8a8a" stroke-width="0.9"/>
<text x="47" y="465.3" font-size="8.0" text-anchor="end" fill="#4d4d4d" stroke="#4d4d4d" stroke-width="0.15">0%</text>
<line x1="49" y1="447.2" x2="50.8" y2="447.2" stroke="#8a8a8a" stroke-width="0.9"/>
<text x="47" y="450.1" font-size="8.0" text-anchor="end" fill="#4d4d4d" stroke="#4d4d4d" stroke-width="0.15">20%</text>
<line x1="49" y1="432" x2="50.8" y2="432" stroke="#8a8a8a" stroke-width="0.9"/>
<text x="47" y="434.9" font-size="8.0" text-anchor="end" fill="#4d4d4d" stroke="#4d4d4d" stroke-width="0.15">40%</text>
<line x1="49" y1="416.8" x2="50.8" y2="416.8" stroke="#8a8a8a" stroke-width="0.9"/>
<text x="47" y="419.7" font-size="8.0" text-anchor="end" fill="#4d4d4d" stroke="#4d4d4d" stroke-width="0.15">60%</text>
<line x1="49" y1="401.6" x2="50.8" y2="401.6" stroke="#8a8a8a" stroke-width="0.9"/>
<text x="47" y="404.5" font-size="8.0" text-anchor="end" fill="#4d4d4d" stroke="#4d4d4d" stroke-width="0.15">80%</text>
<line x1="49" y1="386.4" x2="50.8" y2="386.4" stroke="#8a8a8a" stroke-width="0.9"/>
<text x="47" y="389.3" font-size="8.0" text-anchor="end" fill="#4d4d4d" stroke="#4d4d4d" stroke-width="0.15">100%</text>
<line x1="50.8" y1="462.4" x2="50.8" y2="464.2" stroke="#8a8a8a" stroke-width="0.9"/>
<text x="50.8" y="471.5" font-size="8.0" text-anchor="middle" fill="#4d4d4d" stroke="#4d4d4d" stroke-width="0.15">2</text>
<line x1="67.9" y1="462.4" x2="67.9" y2="464.2" stroke="#8a8a8a" stroke-width="0.9"/>
<text x="67.9" y="471.5" font-size="8.0" text-anchor="middle" fill="#4d4d4d" stroke="#4d4d4d" stroke-width="0.15">50</text>
<line x1="85.7" y1="462.4" x2="85.7" y2="464.2" stroke="#8a8a8a" stroke-width="0.9"/>
<text x="85.7" y="471.5" font-size="8.0" text-anchor="middle" fill="#4d4d4d" stroke="#4d4d4d" stroke-width="0.15">100</text>
<line x1="103.5" y1="462.4" x2="103.5" y2="464.2" stroke="#8a8a8a" stroke-width="0.9"/>
<text x="103.5" y="471.5" font-size="8.0" text-anchor="middle" fill="#4d4d4d" stroke="#4d4d4d" stroke-width="0.15">150</text>
<line x1="121.2" y1="462.4" x2="121.2" y2="464.2" stroke="#8a8a8a" stroke-width="0.9"/>
<text x="121.2" y="471.5" font-size="8.0" text-anchor="middle" fill="#4d4d4d" stroke="#4d4d4d" stroke-width="0.15">200</text>
<line x1="139" y1="462.4" x2="139" y2="464.2" stroke="#8a8a8a" stroke-width="0.9"/>
<text x="139" y="471.5" font-size="8.0" text-anchor="middle" fill="#4d4d4d" stroke="#4d4d4d" stroke-width="0.15">250</text>
<line x1="156.8" y1="462.4" x2="156.8" y2="464.2" stroke="#8a8a8a" stroke-width="0.9"/>
<text x="156.8" y="471.5" font-size="8.0" text-anchor="middle" fill="#4d4d4d" stroke="#4d4d4d" stroke-width="0.15">300</text>
<line x1="174.6" y1="462.4" x2="174.6" y2="464.2" stroke="#8a8a8a" stroke-width="0.9"/>
<text x="174.6" y="471.5" font-size="8.0" text-anchor="middle" fill="#4d4d4d" stroke="#4d4d4d" stroke-width="0.15">350</text>
<rect x="50.8" y="370.4" width="123.8" height="14.4" fill="#d9d9d9" stroke="#8c8c8c" stroke-width="0.9"/>
<line x1="50.8" y1="384.8" x2="174.6" y2="384.8" stroke="#555" stroke-width="1.0"/>
<text x="112.7" y="380.6" font-size="9.5" text-anchor="middle" fill="#1a1a1a" stroke="#1a1a1a" stroke-width="0.15">Vegetative stage</text>
<line x1="207.8" y1="454.8" x2="331.6" y2="454.8" stroke="#f3f3f3" stroke-width="0.8"/>
<line x1="207.8" y1="439.6" x2="331.6" y2="439.6" stroke="#f3f3f3" stroke-width="0.8"/>
<line x1="207.8" y1="424.4" x2="331.6" y2="424.4" stroke="#f3f3f3" stroke-width="0.8"/>
<line x1="207.8" y1="409.2" x2="331.6" y2="409.2" stroke="#f3f3f3" stroke-width="0.8"/>
<line x1="207.8" y1="394" x2="331.6" y2="394" stroke="#f3f3f3" stroke-width="0.8"/>
<line x1="216.3" y1="385.2" x2="216.3" y2="462.4" stroke="#f3f3f3" stroke-width="0.8"/>
<line x1="233.8" y1="385.2" x2="233.8" y2="462.4" stroke="#f3f3f3" stroke-width="0.8"/>
<line x1="251.6" y1="385.2" x2="251.6" y2="462.4" stroke="#f3f3f3" stroke-width="0.8"/>
<line x1="269.3" y1="385.2" x2="269.3" y2="462.4" stroke="#f3f3f3" stroke-width="0.8"/>
<line x1="287.1" y1="385.2" x2="287.1" y2="462.4" stroke="#f3f3f3" stroke-width="0.8"/>
<line x1="304.9" y1="385.2" x2="304.9" y2="462.4" stroke="#f3f3f3" stroke-width="0.8"/>
<line x1="322.7" y1="385.2" x2="322.7" y2="462.4" stroke="#f3f3f3" stroke-width="0.8"/>
<line x1="207.8" y1="462.4" x2="331.6" y2="462.4" stroke="#ebebeb" stroke-width="1"/>
<line x1="207.8" y1="447.2" x2="331.6" y2="447.2" stroke="#ebebeb" stroke-width="1"/>
<line x1="207.8" y1="432" x2="331.6" y2="432" stroke="#ebebeb" stroke-width="1"/>
<line x1="207.8" y1="416.8" x2="331.6" y2="416.8" stroke="#ebebeb" stroke-width="1"/>
<line x1="207.8" y1="401.6" x2="331.6" y2="401.6" stroke="#ebebeb" stroke-width="1"/>
<line x1="207.8" y1="386.4" x2="331.6" y2="386.4" stroke="#ebebeb" stroke-width="1"/>
<line x1="207.8" y1="385.2" x2="207.8" y2="462.4" stroke="#ebebeb" stroke-width="1"/>
<line x1="224.9" y1="385.2" x2="224.9" y2="462.4" stroke="#ebebeb" stroke-width="1"/>
<line x1="242.7" y1="385.2" x2="242.7" y2="462.4" stroke="#ebebeb" stroke-width="1"/>
<line x1="260.5" y1="385.2" x2="260.5" y2="462.4" stroke="#ebebeb" stroke-width="1"/>
<line x1="278.2" y1="385.2" x2="278.2" y2="462.4" stroke="#ebebeb" stroke-width="1"/>
<line x1="296" y1="385.2" x2="296" y2="462.4" stroke="#ebebeb" stroke-width="1"/>
<line x1="313.8" y1="385.2" x2="313.8" y2="462.4" stroke="#ebebeb" stroke-width="1"/>
<line x1="331.6" y1="385.2" x2="331.6" y2="462.4" stroke="#ebebeb" stroke-width="1"/>
<polygon points="207.8,418.2 208.3,418.2 208.8,418.1 209.2,418.1 209.7,418 210.2,418 210.7,417.9 211.1,417.8 211.6,417.7 212.1,417.7 212.6,417.6 213.1,417.5 213.5,417.4 214,417.3 214.5,417.2 215,417.1 215.4,417 215.9,416.9 216.4,416.8 216.9,416.7 217.4,416.6 217.8,416.5 218.3,416.4 218.8,416.3 219.3,416.2 219.7,416.1 220.2,416 220.7,415.9 221.2,415.7 221.7,415.6 222.1,415.5 222.6,415.4 223.1,415.2 223.6,415.1 224.1,415 224.5,414.8 225,414.7 225.5,414.5 226,414.4 226.4,414.2 226.9,414.1 227.4,413.9 227.9,413.7 228.4,413.5 228.8,413.3 229.3,413.1 229.8,412.9 230.3,412.7 230.7,412.5 231.2,412.3 231.7,412 232.2,411.8 232.7,411.5 233.1,411.2 233.6,410.9 234.1,410.5 234.6,410.1 235,409.7 235.5,409.2 236,408.7 236.5,408.1 237,407.6 237.4,407 237.9,406.5 238.4,405.9 238.9,405.4 239.3,404.8 239.8,404.3 240.3,403.7 240.8,403.1 241.3,402.5 241.7,401.9 242.2,401.3 242.7,400.7 243.2,400 243.6,399.3 244.1,398.6 244.6,397.9 245.1,397.2 245.6,396.5 246,395.8 246.5,394.9 247,393.9 247.5,392.4 248,389.5 248.4,386.4 248.9,386.4 249.4,386.4 249.9,386.4 250.3,386.4 250.8,386.4 251.3,386.4 251.8,386.4 252.3,386.4 252.7,386.4 253.2,386.4 253.7,386.4 254.2,386.4 254.6,386.4 255.1,386.4 255.6,386.4 256.1,386.4 256.6,386.4 257,386.4 257.5,386.4 258,386.4 258.5,386.4 258.9,386.4 259.4,386.4 259.9,386.4 260.4,386.4 260.9,386.4 261.3,386.4 261.8,386.4 262.3,386.4 262.8,386.4 263.2,386.4 263.7,386.4 264.2,386.4 264.7,386.4 265.2,386.4 265.6,386.4 266.1,386.4 266.6,386.4 267.1,386.4 267.5,386.4 268,386.4 268.5,386.4 269,386.4 269.5,386.4 269.9,386.4 270.4,386.4 270.9,386.4 271.4,386.4 271.9,386.4 272.3,386.4 272.8,386.4 273.3,386.4 273.8,386.4 274.2,386.4 274.7,386.4 275.2,386.4 275.7,386.4 276.2,386.4 276.6,386.4 277.1,386.4 277.6,386.4 278.1,386.4 278.5,386.4 279,386.4 279.5,386.4 280,386.4 280.5,386.4 280.9,386.4 281.4,386.4 281.9,386.4 282.4,386.4 282.8,386.4 283.3,386.4 283.8,386.4 284.3,386.4 284.8,386.4 285.2,386.4 285.7,386.4 286.2,386.4 286.7,386.4 287.1,386.4 287.6,386.4 288.1,386.4 288.6,386.4 289.1,386.4 289.5,386.4 290,386.4 290.5,386.4 291,386.4 291.4,386.4 291.9,386.4 292.4,386.4 292.9,386.4 293.4,386.4 293.8,386.4 294.3,386.4 294.8,386.4 295.3,386.4 295.8,386.4 296.2,386.4 296.7,386.4 297.2,386.4 297.7,386.4 298.1,386.4 298.6,386.4 299.1,386.4 299.6,386.4 300.1,386.4 300.5,386.4 301,386.4 301.5,386.4 302,386.4 302.4,386.4 302.9,386.4 303.4,386.4 303.9,386.4 304.4,386.4 304.8,386.4 305.3,386.4 305.8,386.4 306.3,386.4 306.7,386.4 307.2,386.4 307.7,386.4 308.2,386.4 308.7,386.4 309.1,386.4 309.6,386.4 310.1,386.4 310.6,386.4 311,386.4 311.5,386.4 312,386.4 312.5,386.4 313,386.4 313.4,386.4 313.9,386.4 314.4,386.4 314.9,386.4 315.3,386.4 315.8,386.4 316.3,386.4 316.8,386.4 317.3,386.4 317.7,386.4 318.2,386.4 318.7,386.4 319.2,386.4 319.7,386.4 320.1,386.4 320.6,386.4 321.1,386.4 321.6,386.4 322,386.4 322.5,386.4 323,386.4 323.5,386.4 324,386.4 324.4,386.4 324.9,386.4 325.4,386.4 325.9,386.4 326.3,386.4 326.8,386.4 327.3,386.4 327.8,386.4 328.3,386.4 328.7,386.4 329.2,386.4 329.7,386.4 330.2,386.4 330.6,386.4 331.1,386.4 331.6,386.4 331.6,386.4 331.1,386.4 330.6,386.4 330.2,386.4 329.7,386.4 329.2,386.4 328.7,386.4 328.3,386.4 327.8,386.4 327.3,386.4 326.8,386.4 326.3,386.4 325.9,386.4 325.4,386.4 324.9,386.4 324.4,386.4 324,386.4 323.5,386.4 323,386.4 322.5,386.4 322,386.4 321.6,386.4 321.1,386.4 320.6,386.4 320.1,386.4 319.7,386.4 319.2,386.4 318.7,386.4 318.2,386.4 317.7,386.4 317.3,386.4 316.8,386.4 316.3,386.4 315.8,386.4 315.3,386.4 314.9,386.4 314.4,386.4 313.9,386.4 313.4,386.4 313,386.4 312.5,386.4 312,386.4 311.5,386.4 311,386.4 310.6,386.4 310.1,386.4 309.6,386.4 309.1,386.4 308.7,386.4 308.2,386.4 307.7,386.4 307.2,386.4 306.7,386.4 306.3,386.4 305.8,386.4 305.3,386.4 304.8,386.4 304.4,386.4 303.9,386.4 303.4,386.4 302.9,386.4 302.4,386.4 302,386.4 301.5,386.4 301,386.4 300.5,386.4 300.1,386.4 299.6,386.4 299.1,386.4 298.6,386.4 298.1,386.4 297.7,386.4 297.2,386.4 296.7,386.4 296.2,386.4 295.8,386.4 295.3,386.4 294.8,386.4 294.3,386.4 293.8,386.4 293.4,386.4 292.9,386.4 292.4,386.4 291.9,386.4 291.4,386.4 291,386.4 290.5,386.4 290,386.4 289.5,387 289.1,390.6 288.6,394 288.1,396.8 287.6,398.9 287.1,400.2 286.7,401.4 286.2,402.5 285.7,403.4 285.2,404.3 284.8,405 284.3,405.7 283.8,406.4 283.3,407 282.8,407.7 282.4,408.3 281.9,409.1 281.4,409.8 280.9,410.5 280.5,411.1 280,411.8 279.5,412.5 279,413.1 278.5,413.8 278.1,414.4 277.6,415 277.1,415.6 276.6,416.2 276.2,416.8 275.7,417.4 275.2,418 274.7,418.5 274.2,419.1 273.8,419.6 273.3,420.2 272.8,420.7 272.3,421.3 271.9,421.8 271.4,422.3 270.9,422.9 270.4,423.4 269.9,423.9 269.5,424.5 269,425 268.5,425.6 268,426.1 267.5,426.7 267.1,427.2 266.6,427.7 266.1,428.3 265.6,428.8 265.2,429.3 264.7,429.8 264.2,430.3 263.7,430.8 263.2,431.2 262.8,431.7 262.3,432.1 261.8,432.6 261.3,433 260.9,433.4 260.4,433.8 259.9,434.1 259.4,434.5 258.9,434.8 258.5,435.1 258,435.3 257.5,435.6 257,435.8 256.6,436.1 256.1,436.3 255.6,436.5 255.1,436.8 254.6,437 254.2,437.2 253.7,437.4 253.2,437.6 252.7,437.8 252.3,438 251.8,438.2 251.3,438.4 250.8,438.6 250.3,438.8 249.9,439 249.4,439.2 248.9,439.4 248.4,439.5 248,439.7 247.5,439.9 247,440.1 246.5,440.2 246,440.4 245.6,440.5 245.1,440.7 244.6,440.9 244.1,441 243.6,441.2 243.2,441.3 242.7,441.4 242.2,441.6 241.7,441.7 241.3,441.9 240.8,442 240.3,442.1 239.8,442.3 239.3,442.4 238.9,442.5 238.4,442.6 237.9,442.8 237.4,442.9 237,443 236.5,443.1 236,443.2 235.5,443.4 235,443.5 234.6,443.6 234.1,443.7 233.6,443.8 233.1,443.9 232.7,444 232.2,444.1 231.7,444.3 231.2,444.4 230.7,444.5 230.3,444.6 229.8,444.7 229.3,444.8 228.8,444.9 228.4,445 227.9,445.1 227.4,445.2 226.9,445.3 226.4,445.4 226,445.5 225.5,445.6 225,445.7 224.5,445.8 224.1,445.9 223.6,446 223.1,446.1 222.6,446.2 222.1,446.3 221.7,446.4 221.2,446.5 220.7,446.6 220.2,446.6 219.7,446.7 219.3,446.8 218.8,446.9 218.3,447 217.8,447.1 217.4,447.1 216.9,447.2 216.4,447.3 215.9,447.4 215.4,447.4 215,447.5 214.5,447.6 214,447.7 213.5,447.7 213.1,447.8 212.6,447.9 212.1,447.9 211.6,448 211.1,448 210.7,448.1 210.2,448.2 209.7,448.2 209.2,448.3 208.8,448.3 208.3,448.4 207.8,448.4" fill="#bddf26" fill-opacity="0.2"/>
<polygon points="207.8,416.3 208.3,416.2 208.8,416.2 209.2,416.1 209.7,416 210.2,416 210.7,415.9 211.1,415.8 211.6,415.7 212.1,415.6 212.6,415.5 213.1,415.4 213.5,415.3 214,415.2 214.5,415.1 215,415 215.4,414.9 215.9,414.8 216.4,414.6 216.9,414.5 217.4,414.4 217.8,414.3 218.3,414.1 218.8,414 219.3,413.9 219.7,413.7 220.2,413.6 220.7,413.4 221.2,413.3 221.7,413.1 222.1,413 222.6,412.8 223.1,412.7 223.6,412.5 224.1,412.3 224.5,412.1 225,411.9 225.5,411.7 226,411.5 226.4,411.3 226.9,411.1 227.4,410.9 227.9,410.6 228.4,410.4 228.8,410.2 229.3,409.9 229.8,409.7 230.3,409.4 230.7,409.2 231.2,408.9 231.7,408.6 232.2,408.3 232.7,408 233.1,407.6 233.6,407.2 234.1,406.7 234.6,406.2 235,405.8 235.5,405.3 236,404.8 236.5,404.2 237,403.7 237.4,403.2 237.9,402.7 238.4,402.2 238.9,401.7 239.3,401.2 239.8,400.7 240.3,400.1 240.8,399.5 241.3,398.9 241.7,398.3 242.2,397.7 242.7,397 243.2,396.3 243.6,395.7 244.1,395 244.6,394.1 245.1,393.1 245.6,391.6 246,388.7 246.5,386.4 247,386.4 247.5,386.4 248,386.4 248.4,386.4 248.9,386.4 249.4,386.4 249.9,386.4 250.3,386.4 250.8,386.4 251.3,386.4 251.8,386.4 252.3,386.4 252.7,386.4 253.2,386.4 253.7,386.4 254.2,386.4 254.6,386.4 255.1,386.4 255.6,386.4 256.1,386.4 256.6,386.4 257,386.4 257.5,386.4 258,386.4 258.5,386.4 258.9,386.4 259.4,386.4 259.9,386.4 260.4,386.4 260.9,386.4 261.3,386.4 261.8,386.4 262.3,386.4 262.8,386.4 263.2,386.4 263.7,386.4 264.2,386.4 264.7,386.4 265.2,386.4 265.6,386.4 266.1,386.4 266.6,386.4 267.1,386.4 267.5,386.4 268,386.4 268.5,386.4 269,386.4 269.5,386.4 269.9,386.4 270.4,386.4 270.9,386.4 271.4,386.4 271.9,386.4 272.3,386.4 272.8,386.4 273.3,386.4 273.8,386.4 274.2,386.4 274.7,386.4 275.2,386.4 275.7,386.4 276.2,386.4 276.6,386.4 277.1,386.4 277.6,386.4 278.1,386.4 278.5,386.4 279,386.4 279.5,386.4 280,386.4 280.5,386.4 280.9,386.4 281.4,386.4 281.9,386.4 282.4,386.4 282.8,386.4 283.3,386.4 283.8,386.4 284.3,386.4 284.8,386.4 285.2,386.4 285.7,386.4 286.2,386.4 286.7,386.4 287.1,386.4 287.6,386.4 288.1,386.4 288.6,386.4 289.1,386.4 289.5,386.4 290,386.4 290.5,386.4 291,386.4 291.4,386.4 291.9,386.4 292.4,386.4 292.9,386.4 293.4,386.4 293.8,386.4 294.3,386.4 294.8,386.4 295.3,386.4 295.8,386.4 296.2,386.4 296.7,386.4 297.2,386.4 297.7,386.4 298.1,386.4 298.6,386.4 299.1,386.4 299.6,386.4 300.1,386.4 300.5,386.4 301,386.4 301.5,386.4 302,386.4 302.4,386.4 302.9,386.4 303.4,386.4 303.9,386.4 304.4,386.4 304.8,386.4 305.3,386.4 305.8,386.4 306.3,386.4 306.7,386.4 307.2,386.4 307.7,386.4 308.2,386.4 308.7,386.4 309.1,386.4 309.6,386.4 310.1,386.4 310.6,386.4 311,386.4 311.5,386.4 312,386.4 312.5,386.4 313,386.4 313.4,386.4 313.9,386.4 314.4,386.4 314.9,386.4 315.3,386.4 315.8,386.4 316.3,386.4 316.8,386.4 317.3,386.4 317.7,386.4 318.2,386.4 318.7,386.4 319.2,386.4 319.7,386.4 320.1,386.4 320.6,386.4 321.1,386.4 321.6,386.4 322,386.4 322.5,386.4 323,386.4 323.5,386.4 324,386.4 324.4,386.4 324.9,386.4 325.4,386.4 325.9,386.4 326.3,386.4 326.8,386.4 327.3,386.4 327.8,386.4 328.3,386.4 328.7,386.4 329.2,386.4 329.7,386.4 330.2,386.4 330.6,386.4 331.1,386.4 331.6,386.4 331.6,386.4 331.1,386.4 330.6,386.4 330.2,386.4 329.7,386.4 329.2,386.4 328.7,386.4 328.3,386.4 327.8,386.4 327.3,386.4 326.8,386.4 326.3,386.4 325.9,386.4 325.4,386.4 324.9,386.4 324.4,386.4 324,386.4 323.5,386.4 323,386.4 322.5,386.4 322,386.4 321.6,386.4 321.1,386.4 320.6,386.4 320.1,386.4 319.7,386.4 319.2,386.4 318.7,386.4 318.2,386.4 317.7,386.4 317.3,386.4 316.8,386.4 316.3,386.4 315.8,386.4 315.3,386.4 314.9,386.4 314.4,386.4 313.9,386.4 313.4,386.4 313,386.4 312.5,386.4 312,386.4 311.5,386.4 311,386.4 310.6,386.4 310.1,386.4 309.6,386.4 309.1,386.4 308.7,386.4 308.2,386.4 307.7,386.4 307.2,386.4 306.7,386.4 306.3,386.4 305.8,386.4 305.3,386.4 304.8,386.4 304.4,386.4 303.9,386.4 303.4,386.4 302.9,386.4 302.4,386.4 302,386.4 301.5,386.4 301,386.4 300.5,386.4 300.1,386.4 299.6,386.4 299.1,386.4 298.6,386.4 298.1,386.4 297.7,386.4 297.2,386.4 296.7,386.4 296.2,386.4 295.8,386.4 295.3,386.4 294.8,386.4 294.3,386.4 293.8,386.4 293.4,386.4 292.9,386.4 292.4,386.4 291.9,386.4 291.4,386.4 291,386.4 290.5,386.4 290,386.4 289.5,386.4 289.1,386.4 288.6,386.4 288.1,386.4 287.6,386.4 287.1,389.8 286.7,393 286.2,395.8 285.7,397.8 285.2,399.2 284.8,400.4 284.3,401.4 283.8,402.3 283.3,403.1 282.8,403.9 282.4,404.6 281.9,405.2 281.4,405.8 280.9,406.5 280.5,407.1 280,407.8 279.5,408.5 279,409.1 278.5,409.7 278.1,410.4 277.6,411 277.1,411.6 276.6,412.1 276.2,412.7 275.7,413.3 275.2,413.8 274.7,414.4 274.2,414.9 273.8,415.4 273.3,416 272.8,416.5 272.3,417 271.9,417.5 271.4,418 270.9,418.5 270.4,418.9 269.9,419.4 269.5,419.9 269,420.4 268.5,420.9 268,421.4 267.5,421.9 267.1,422.4 266.6,422.9 266.1,423.4 265.6,423.9 265.2,424.3 264.7,424.8 264.2,425.3 263.7,425.8 263.2,426.3 262.8,426.7 262.3,427.2 261.8,427.6 261.3,428 260.9,428.5 260.4,428.9 259.9,429.2 259.4,429.6 258.9,430 258.5,430.3 258,430.7 257.5,431 257,431.2 256.6,431.5 256.1,431.8 255.6,432 255.1,432.3 254.6,432.5 254.2,432.8 253.7,433 253.2,433.3 252.7,433.5 252.3,433.8 251.8,434 251.3,434.2 250.8,434.4 250.3,434.7 249.9,434.9 249.4,435.1 248.9,435.3 248.4,435.5 248,435.8 247.5,436 247,436.2 246.5,436.4 246,436.6 245.6,436.8 245.1,437 244.6,437.2 244.1,437.4 243.6,437.6 243.2,437.8 242.7,438 242.2,438.1 241.7,438.3 241.3,438.5 240.8,438.7 240.3,438.9 239.8,439 239.3,439.2 238.9,439.4 238.4,439.5 237.9,439.7 237.4,439.8 237,440 236.5,440.2 236,440.3 235.5,440.5 235,440.6 234.6,440.7 234.1,440.9 233.6,441 233.1,441.1 232.7,441.3 232.2,441.4 231.7,441.5 231.2,441.7 230.7,441.8 230.3,441.9 229.8,442.1 229.3,442.2 228.8,442.3 228.4,442.4 227.9,442.6 227.4,442.7 226.9,442.8 226.4,442.9 226,443 225.5,443.2 225,443.3 224.5,443.4 224.1,443.5 223.6,443.6 223.1,443.7 222.6,443.9 222.1,444 221.7,444.1 221.2,444.2 220.7,444.3 220.2,444.4 219.7,444.5 219.3,444.6 218.8,444.7 218.3,444.8 217.8,444.9 217.4,445 216.9,445.1 216.4,445.2 215.9,445.3 215.4,445.4 215,445.4 214.5,445.5 214,445.6 213.5,445.7 213.1,445.8 212.6,445.8 212.1,445.9 211.6,446 211.1,446 210.7,446.1 210.2,446.2 209.7,446.2 209.2,446.3 208.8,446.3 208.3,446.4 207.8,446.5" fill="#4ec36b" fill-opacity="0.2"/>
<polygon points="207.8,414.3 208.3,414.3 208.8,414.2 209.2,414.1 209.7,414 210.2,414 210.7,413.9 211.1,413.8 211.6,413.7 212.1,413.6 212.6,413.5 213.1,413.3 213.5,413.2 214,413.1 214.5,413 215,412.8 215.4,412.7 215.9,412.6 216.4,412.4 216.9,412.3 217.4,412.1 217.8,412 218.3,411.8 218.8,411.7 219.3,411.5 219.7,411.4 220.2,411.2 220.7,411 221.2,410.8 221.7,410.6 222.1,410.4 222.6,410.2 223.1,410 223.6,409.8 224.1,409.5 224.5,409.3 225,409.1 225.5,408.8 226,408.6 226.4,408.3 226.9,408.1 227.4,407.8 227.9,407.6 228.4,407.3 228.8,407 229.3,406.8 229.8,406.5 230.3,406.2 230.7,405.9 231.2,405.6 231.7,405.2 232.2,404.8 232.7,404.4 233.1,404 233.6,403.5 234.1,403.1 234.6,402.6 235,402.1 235.5,401.7 236,401.2 236.5,400.8 237,400.3 237.4,399.9 237.9,399.4 238.4,398.9 238.9,398.4 239.3,397.9 239.8,397.3 240.3,396.8 240.8,396.1 241.3,395.5 241.7,394.9 242.2,394.2 242.7,393.4 243.2,392.4 243.6,390.8 244.1,388 244.6,386.4 245.1,386.4 245.6,386.4 246,386.4 246.5,386.4 247,386.4 247.5,386.4 248,386.4 248.4,386.4 248.9,386.4 249.4,386.4 249.9,386.4 250.3,386.4 250.8,386.4 251.3,386.4 251.8,386.4 252.3,386.4 252.7,386.4 253.2,386.4 253.7,386.4 254.2,386.4 254.6,386.4 255.1,386.4 255.6,386.4 256.1,386.4 256.6,386.4 257,386.4 257.5,386.4 258,386.4 258.5,386.4 258.9,386.4 259.4,386.4 259.9,386.4 260.4,386.4 260.9,386.4 261.3,386.4 261.8,386.4 262.3,386.4 262.8,386.4 263.2,386.4 263.7,386.4 264.2,386.4 264.7,386.4 265.2,386.4 265.6,386.4 266.1,386.4 266.6,386.4 267.1,386.4 267.5,386.4 268,386.4 268.5,386.4 269,386.4 269.5,386.4 269.9,386.4 270.4,386.4 270.9,386.4 271.4,386.4 271.9,386.4 272.3,386.4 272.8,386.4 273.3,386.4 273.8,386.4 274.2,386.4 274.7,386.4 275.2,386.4 275.7,386.4 276.2,386.4 276.6,386.4 277.1,386.4 277.6,386.4 278.1,386.4 278.5,386.4 279,386.4 279.5,386.4 280,386.4 280.5,386.4 280.9,386.4 281.4,386.4 281.9,386.4 282.4,386.4 282.8,386.4 283.3,386.4 283.8,386.4 284.3,386.4 284.8,386.4 285.2,386.4 285.7,386.4 286.2,386.4 286.7,386.4 287.1,386.4 287.6,386.4 288.1,386.4 288.6,386.4 289.1,386.4 289.5,386.4 290,386.4 290.5,386.4 291,386.4 291.4,386.4 291.9,386.4 292.4,386.4 292.9,386.4 293.4,386.4 293.8,386.4 294.3,386.4 294.8,386.4 295.3,386.4 295.8,386.4 296.2,386.4 296.7,386.4 297.2,386.4 297.7,386.4 298.1,386.4 298.6,386.4 299.1,386.4 299.6,386.4 300.1,386.4 300.5,386.4 301,386.4 301.5,386.4 302,386.4 302.4,386.4 302.9,386.4 303.4,386.4 303.9,386.4 304.4,386.4 304.8,386.4 305.3,386.4 305.8,386.4 306.3,386.4 306.7,386.4 307.2,386.4 307.7,386.4 308.2,386.4 308.7,386.4 309.1,386.4 309.6,386.4 310.1,386.4 310.6,386.4 311,386.4 311.5,386.4 312,386.4 312.5,386.4 313,386.4 313.4,386.4 313.9,386.4 314.4,386.4 314.9,386.4 315.3,386.4 315.8,386.4 316.3,386.4 316.8,386.4 317.3,386.4 317.7,386.4 318.2,386.4 318.7,386.4 319.2,386.4 319.7,386.4 320.1,386.4 320.6,386.4 321.1,386.4 321.6,386.4 322,386.4 322.5,386.4 323,386.4 323.5,386.4 324,386.4 324.4,386.4 324.9,386.4 325.4,386.4 325.9,386.4 326.3,386.4 326.8,386.4 327.3,386.4 327.8,386.4 328.3,386.4 328.7,386.4 329.2,386.4 329.7,386.4 330.2,386.4 330.6,386.4 331.1,386.4 331.6,386.4 331.6,386.4 331.1,386.4 330.6,386.4 330.2,386.4 329.7,386.4 329.2,386.4 328.7,386.4 328.3,386.4 327.8,386.4 327.3,386.4 326.8,386.4 326.3,386.4 325.9,386.4 325.4,386.4 324.9,386.4 324.4,386.4 324,386.4 323.5,386.4 323,386.4 322.5,386.4 322,386.4 321.6,386.4 321.1,386.4 320.6,386.4 320.1,386.4 319.7,386.4 319.2,386.4 318.7,386.4 318.2,386.4 317.7,386.4 317.3,386.4 316.8,386.4 316.3,386.4 315.8,386.4 315.3,386.4 314.9,386.4 314.4,386.4 313.9,386.4 313.4,386.4 313,386.4 312.5,386.4 312,386.4 311.5,386.4 311,386.4 310.6,386.4 310.1,386.4 309.6,386.4 309.1,386.4 308.7,386.4 308.2,386.4 307.7,386.4 307.2,386.4 306.7,386.4 306.3,386.4 305.8,386.4 305.3,386.4 304.8,386.4 304.4,386.4 303.9,386.4 303.4,386.4 302.9,386.4 302.4,386.4 302,386.4 301.5,386.4 301,386.4 300.5,386.4 300.1,386.4 299.6,386.4 299.1,386.4 298.6,386.4 298.1,386.4 297.7,386.4 297.2,386.4 296.7,386.4 296.2,386.4 295.8,386.4 295.3,386.4 294.8,386.4 294.3,386.4 293.8,386.4 293.4,386.4 292.9,386.4 292.4,386.4 291.9,386.4 291.4,386.4 291,386.4 290.5,386.4 290,386.4 289.5,386.4 289.1,386.4 288.6,386.4 288.1,386.4 287.6,386.4 287.1,386.4 286.7,386.4 286.2,386.4 285.7,386.4 285.2,389 284.8,392.1 284.3,394.7 283.8,396.8 283.3,398.2 282.8,399.3 282.4,400.4 281.9,401.3 281.4,402.1 280.9,402.8 280.5,403.5 280,404.1 279.5,404.7 279,405.3 278.5,406 278.1,406.6 277.6,407.2 277.1,407.8 276.6,408.4 276.2,408.9 275.7,409.5 275.2,410 274.7,410.6 274.2,411.1 273.8,411.6 273.3,412.1 272.8,412.6 272.3,413 271.9,413.5 271.4,414 270.9,414.4 270.4,414.9 269.9,415.3 269.5,415.8 269,416.2 268.5,416.6 268,417.1 267.5,417.5 267.1,418 266.6,418.4 266.1,418.8 265.6,419.3 265.2,419.7 264.7,420.2 264.2,420.7 263.7,421.1 263.2,421.5 262.8,422 262.3,422.4 261.8,422.9 261.3,423.3 260.9,423.7 260.4,424.1 259.9,424.5 259.4,424.9 258.9,425.3 258.5,425.6 258,426 257.5,426.4 257,426.7 256.6,427 256.1,427.3 255.6,427.6 255.1,427.9 254.6,428.2 254.2,428.4 253.7,428.7 253.2,429 252.7,429.2 252.3,429.5 251.8,429.8 251.3,430 250.8,430.3 250.3,430.5 249.9,430.8 249.4,431 248.9,431.3 248.4,431.5 248,431.8 247.5,432 247,432.3 246.5,432.5 246,432.7 245.6,433 245.1,433.2 244.6,433.5 244.1,433.7 243.6,433.9 243.2,434.2 242.7,434.4 242.2,434.6 241.7,434.9 241.3,435.1 240.8,435.3 240.3,435.5 239.8,435.7 239.3,436 238.9,436.2 238.4,436.4 237.9,436.6 237.4,436.8 237,437 236.5,437.2 236,437.3 235.5,437.5 235,437.7 234.6,437.9 234.1,438 233.6,438.2 233.1,438.3 232.7,438.5 232.2,438.7 231.7,438.8 231.2,439 230.7,439.1 230.3,439.3 229.8,439.4 229.3,439.6 228.8,439.7 228.4,439.9 227.9,440 227.4,440.2 226.9,440.3 226.4,440.4 226,440.6 225.5,440.7 225,440.9 224.5,441 224.1,441.1 223.6,441.3 223.1,441.4 222.6,441.5 222.1,441.7 221.7,441.8 221.2,441.9 220.7,442 220.2,442.2 219.7,442.3 219.3,442.4 218.8,442.5 218.3,442.6 217.8,442.7 217.4,442.8 216.9,442.9 216.4,443.1 215.9,443.2 215.4,443.3 215,443.4 214.5,443.4 214,443.5 213.5,443.6 213.1,443.7 212.6,443.8 212.1,443.9 211.6,444 211.1,444 210.7,444.1 210.2,444.2 209.7,444.3 209.2,444.3 208.8,444.4 208.3,444.4 207.8,444.5" fill="#1f9a8a" fill-opacity="0.2"/>
<polygon points="207.8,412.4 208.3,412.3 208.8,412.2 209.2,412.2 209.7,412.1 210.2,412 210.7,411.9 211.1,411.8 211.6,411.6 212.1,411.5 212.6,411.4 213.1,411.3 213.5,411.1 214,411 214.5,410.8 215,410.7 215.4,410.5 215.9,410.4 216.4,410.2 216.9,410 217.4,409.9 217.8,409.7 218.3,409.5 218.8,409.3 219.3,409.2 219.7,409 220.2,408.8 220.7,408.5 221.2,408.3 221.7,408.1 222.1,407.8 222.6,407.6 223.1,407.3 223.6,407 224.1,406.7 224.5,406.5 225,406.2 225.5,405.9 226,405.6 226.4,405.3 226.9,405.1 227.4,404.8 227.9,404.5 228.4,404.2 228.8,403.9 229.3,403.6 229.8,403.3 230.3,402.9 230.7,402.6 231.2,402.2 231.7,401.8 232.2,401.4 232.7,401 233.1,400.6 233.6,400.2 234.1,399.8 234.6,399.4 235,399 235.5,398.6 236,398.2 236.5,397.8 237,397.3 237.4,396.9 237.9,396.4 238.4,395.8 238.9,395.3 239.3,394.7 239.8,394.1 240.3,393.5 240.8,392.7 241.3,391.7 241.7,390.1 242.2,387.4 242.7,386.4 243.2,386.4 243.6,386.4 244.1,386.4 244.6,386.4 245.1,386.4 245.6,386.4 246,386.4 246.5,386.4 247,386.4 247.5,386.4 248,386.4 248.4,386.4 248.9,386.4 249.4,386.4 249.9,386.4 250.3,386.4 250.8,386.4 251.3,386.4 251.8,386.4 252.3,386.4 252.7,386.4 253.2,386.4 253.7,386.4 254.2,386.4 254.6,386.4 255.1,386.4 255.6,386.4 256.1,386.4 256.6,386.4 257,386.4 257.5,386.4 258,386.4 258.5,386.4 258.9,386.4 259.4,386.4 259.9,386.4 260.4,386.4 260.9,386.4 261.3,386.4 261.8,386.4 262.3,386.4 262.8,386.4 263.2,386.4 263.7,386.4 264.2,386.4 264.7,386.4 265.2,386.4 265.6,386.4 266.1,386.4 266.6,386.4 267.1,386.4 267.5,386.4 268,386.4 268.5,386.4 269,386.4 269.5,386.4 269.9,386.4 270.4,386.4 270.9,386.4 271.4,386.4 271.9,386.4 272.3,386.4 272.8,386.4 273.3,386.4 273.8,386.4 274.2,386.4 274.7,386.4 275.2,386.4 275.7,386.4 276.2,386.4 276.6,386.4 277.1,386.4 277.6,386.4 278.1,386.4 278.5,386.4 279,386.4 279.5,386.4 280,386.4 280.5,386.4 280.9,386.4 281.4,386.4 281.9,386.4 282.4,386.4 282.8,386.4 283.3,386.4 283.8,386.4 284.3,386.4 284.8,386.4 285.2,386.4 285.7,386.4 286.2,386.4 286.7,386.4 287.1,386.4 287.6,386.4 288.1,386.4 288.6,386.4 289.1,386.4 289.5,386.4 290,386.4 290.5,386.4 291,386.4 291.4,386.4 291.9,386.4 292.4,386.4 292.9,386.4 293.4,386.4 293.8,386.4 294.3,386.4 294.8,386.4 295.3,386.4 295.8,386.4 296.2,386.4 296.7,386.4 297.2,386.4 297.7,386.4 298.1,386.4 298.6,386.4 299.1,386.4 299.6,386.4 300.1,386.4 300.5,386.4 301,386.4 301.5,386.4 302,386.4 302.4,386.4 302.9,386.4 303.4,386.4 303.9,386.4 304.4,386.4 304.8,386.4 305.3,386.4 305.8,386.4 306.3,386.4 306.7,386.4 307.2,386.4 307.7,386.4 308.2,386.4 308.7,386.4 309.1,386.4 309.6,386.4 310.1,386.4 310.6,386.4 311,386.4 311.5,386.4 312,386.4 312.5,386.4 313,386.4 313.4,386.4 313.9,386.4 314.4,386.4 314.9,386.4 315.3,386.4 315.8,386.4 316.3,386.4 316.8,386.4 317.3,386.4 317.7,386.4 318.2,386.4 318.7,386.4 319.2,386.4 319.7,386.4 320.1,386.4 320.6,386.4 321.1,386.4 321.6,386.4 322,386.4 322.5,386.4 323,386.4 323.5,386.4 324,386.4 324.4,386.4 324.9,386.4 325.4,386.4 325.9,386.4 326.3,386.4 326.8,386.4 327.3,386.4 327.8,386.4 328.3,386.4 328.7,386.4 329.2,386.4 329.7,386.4 330.2,386.4 330.6,386.4 331.1,386.4 331.6,386.4 331.6,386.4 331.1,386.4 330.6,386.4 330.2,386.4 329.7,386.4 329.2,386.4 328.7,386.4 328.3,386.4 327.8,386.4 327.3,386.4 326.8,386.4 326.3,386.4 325.9,386.4 325.4,386.4 324.9,386.4 324.4,386.4 324,386.4 323.5,386.4 323,386.4 322.5,386.4 322,386.4 321.6,386.4 321.1,386.4 320.6,386.4 320.1,386.4 319.7,386.4 319.2,386.4 318.7,386.4 318.2,386.4 317.7,386.4 317.3,386.4 316.8,386.4 316.3,386.4 315.8,386.4 315.3,386.4 314.9,386.4 314.4,386.4 313.9,386.4 313.4,386.4 313,386.4 312.5,386.4 312,386.4 311.5,386.4 311,386.4 310.6,386.4 310.1,386.4 309.6,386.4 309.1,386.4 308.7,386.4 308.2,386.4 307.7,386.4 307.2,386.4 306.7,386.4 306.3,386.4 305.8,386.4 305.3,386.4 304.8,386.4 304.4,386.4 303.9,386.4 303.4,386.4 302.9,386.4 302.4,386.4 302,386.4 301.5,386.4 301,386.4 300.5,386.4 300.1,386.4 299.6,386.4 299.1,386.4 298.6,386.4 298.1,386.4 297.7,386.4 297.2,386.4 296.7,386.4 296.2,386.4 295.8,386.4 295.3,386.4 294.8,386.4 294.3,386.4 293.8,386.4 293.4,386.4 292.9,386.4 292.4,386.4 291.9,386.4 291.4,386.4 291,386.4 290.5,386.4 290,386.4 289.5,386.4 289.1,386.4 288.6,386.4 288.1,386.4 287.6,386.4 287.1,386.4 286.7,386.4 286.2,386.4 285.7,386.4 285.2,386.4 284.8,386.4 284.3,386.4 283.8,386.4 283.3,388.4 282.8,391.2 282.4,393.8 281.9,395.8 281.4,397.2 280.9,398.3 280.5,399.3 280,400.2 279.5,401 279,401.8 278.5,402.4 278.1,403 277.6,403.6 277.1,404.2 276.6,404.8 276.2,405.4 275.7,405.9 275.2,406.5 274.7,407 274.2,407.5 273.8,408 273.3,408.5 272.8,409 272.3,409.5 271.9,409.9 271.4,410.4 270.9,410.8 270.4,411.2 269.9,411.6 269.5,412 269,412.4 268.5,412.8 268,413.2 267.5,413.6 267.1,414 266.6,414.4 266.1,414.8 265.6,415.2 265.2,415.6 264.7,416 264.2,416.4 263.7,416.8 263.2,417.2 262.8,417.6 262.3,418 261.8,418.4 261.3,418.8 260.9,419.2 260.4,419.6 259.9,420 259.4,420.4 258.9,420.7 258.5,421.1 258,421.5 257.5,421.8 257,422.2 256.6,422.5 256.1,422.9 255.6,423.2 255.1,423.5 254.6,423.8 254.2,424.1 253.7,424.4 253.2,424.7 252.7,425 252.3,425.3 251.8,425.6 251.3,425.8 250.8,426.1 250.3,426.4 249.9,426.7 249.4,426.9 248.9,427.2 248.4,427.5 248,427.8 247.5,428 247,428.3 246.5,428.6 246,428.9 245.6,429.1 245.1,429.4 244.6,429.7 244.1,430 243.6,430.3 243.2,430.5 242.7,430.8 242.2,431.1 241.7,431.4 241.3,431.6 240.8,431.9 240.3,432.1 239.8,432.4 239.3,432.7 238.9,432.9 238.4,433.2 237.9,433.4 237.4,433.6 237,433.9 236.5,434.1 236,434.3 235.5,434.6 235,434.8 234.6,435 234.1,435.2 233.6,435.4 233.1,435.6 232.7,435.7 232.2,435.9 231.7,436.1 231.2,436.3 230.7,436.4 230.3,436.6 229.8,436.8 229.3,436.9 228.8,437.1 228.4,437.3 227.9,437.5 227.4,437.6 226.9,437.8 226.4,437.9 226,438.1 225.5,438.3 225,438.4 224.5,438.6 224.1,438.7 223.6,438.9 223.1,439 222.6,439.2 222.1,439.3 221.7,439.5 221.2,439.6 220.7,439.8 220.2,439.9 219.7,440 219.3,440.2 218.8,440.3 218.3,440.4 217.8,440.6 217.4,440.7 216.9,440.8 216.4,440.9 215.9,441 215.4,441.2 215,441.3 214.5,441.4 214,441.5 213.5,441.6 213.1,441.7 212.6,441.8 212.1,441.9 211.6,442 211.1,442 210.7,442.1 210.2,442.2 209.7,442.3 209.2,442.3 208.8,442.4 208.3,442.5 207.8,442.5" fill="#2e6f8e" fill-opacity="0.2"/>
<polygon points="207.8,410.4 208.3,410.3 208.8,410.3 209.2,410.2 209.7,410.1 210.2,410 210.7,409.9 211.1,409.7 211.6,409.6 212.1,409.5 212.6,409.3 213.1,409.2 213.5,409 214,408.9 214.5,408.7 215,408.5 215.4,408.3 215.9,408.2 216.4,408 216.9,407.8 217.4,407.6 217.8,407.4 218.3,407.2 218.8,407 219.3,406.8 219.7,406.6 220.2,406.3 220.7,406 221.2,405.7 221.7,405.5 222.1,405.1 222.6,404.8 223.1,404.5 223.6,404.2 224.1,403.9 224.5,403.6 225,403.3 225.5,403 226,402.7 226.4,402.4 226.9,402.1 227.4,401.8 227.9,401.5 228.4,401.2 228.8,400.8 229.3,400.5 229.8,400.2 230.3,399.8 230.7,399.4 231.2,399.1 231.7,398.7 232.2,398.3 232.7,398 233.1,397.6 233.6,397.3 234.1,397 234.6,396.6 235,396.2 235.5,395.8 236,395.4 236.5,394.9 237,394.5 237.4,393.9 237.9,393.4 238.4,392.7 238.9,392 239.3,391 239.8,389.4 240.3,386.9 240.8,386.4 241.3,386.4 241.7,386.4 242.2,386.4 242.7,386.4 243.2,386.4 243.6,386.4 244.1,386.4 244.6,386.4 245.1,386.4 245.6,386.4 246,386.4 246.5,386.4 247,386.4 247.5,386.4 248,386.4 248.4,386.4 248.9,386.4 249.4,386.4 249.9,386.4 250.3,386.4 250.8,386.4 251.3,386.4 251.8,386.4 252.3,386.4 252.7,386.4 253.2,386.4 253.7,386.4 254.2,386.4 254.6,386.4 255.1,386.4 255.6,386.4 256.1,386.4 256.6,386.4 257,386.4 257.5,386.4 258,386.4 258.5,386.4 258.9,386.4 259.4,386.4 259.9,386.4 260.4,386.4 260.9,386.4 261.3,386.4 261.8,386.4 262.3,386.4 262.8,386.4 263.2,386.4 263.7,386.4 264.2,386.4 264.7,386.4 265.2,386.4 265.6,386.4 266.1,386.4 266.6,386.4 267.1,386.4 267.5,386.4 268,386.4 268.5,386.4 269,386.4 269.5,386.4 269.9,386.4 270.4,386.4 270.9,386.4 271.4,386.4 271.9,386.4 272.3,386.4 272.8,386.4 273.3,386.4 273.8,386.4 274.2,386.4 274.7,386.4 275.2,386.4 275.7,386.4 276.2,386.4 276.6,386.4 277.1,386.4 277.6,386.4 278.1,386.4 278.5,386.4 279,386.4 279.5,386.4 280,386.4 280.5,386.4 280.9,386.4 281.4,386.4 281.9,386.4 282.4,386.4 282.8,386.4 283.3,386.4 283.8,386.4 284.3,386.4 284.8,386.4 285.2,386.4 285.7,386.4 286.2,386.4 286.7,386.4 287.1,386.4 287.6,386.4 288.1,386.4 288.6,386.4 289.1,386.4 289.5,386.4 290,386.4 290.5,386.4 291,386.4 291.4,386.4 291.9,386.4 292.4,386.4 292.9,386.4 293.4,386.4 293.8,386.4 294.3,386.4 294.8,386.4 295.3,386.4 295.8,386.4 296.2,386.4 296.7,386.4 297.2,386.4 297.7,386.4 298.1,386.4 298.6,386.4 299.1,386.4 299.6,386.4 300.1,386.4 300.5,386.4 301,386.4 301.5,386.4 302,386.4 302.4,386.4 302.9,386.4 303.4,386.4 303.9,386.4 304.4,386.4 304.8,386.4 305.3,386.4 305.8,386.4 306.3,386.4 306.7,386.4 307.2,386.4 307.7,386.4 308.2,386.4 308.7,386.4 309.1,386.4 309.6,386.4 310.1,386.4 310.6,386.4 311,386.4 311.5,386.4 312,386.4 312.5,386.4 313,386.4 313.4,386.4 313.9,386.4 314.4,386.4 314.9,386.4 315.3,386.4 315.8,386.4 316.3,386.4 316.8,386.4 317.3,386.4 317.7,386.4 318.2,386.4 318.7,386.4 319.2,386.4 319.7,386.4 320.1,386.4 320.6,386.4 321.1,386.4 321.6,386.4 322,386.4 322.5,386.4 323,386.4 323.5,386.4 324,386.4 324.4,386.4 324.9,386.4 325.4,386.4 325.9,386.4 326.3,386.4 326.8,386.4 327.3,386.4 327.8,386.4 328.3,386.4 328.7,386.4 329.2,386.4 329.7,386.4 330.2,386.4 330.6,386.4 331.1,386.4 331.6,386.4 331.6,386.4 331.1,386.4 330.6,386.4 330.2,386.4 329.7,386.4 329.2,386.4 328.7,386.4 328.3,386.4 327.8,386.4 327.3,386.4 326.8,386.4 326.3,386.4 325.9,386.4 325.4,386.4 324.9,386.4 324.4,386.4 324,386.4 323.5,386.4 323,386.4 322.5,386.4 322,386.4 321.6,386.4 321.1,386.4 320.6,386.4 320.1,386.4 319.7,386.4 319.2,386.4 318.7,386.4 318.2,386.4 317.7,386.4 317.3,386.4 316.8,386.4 316.3,386.4 315.8,386.4 315.3,386.4 314.9,386.4 314.4,386.4 313.9,386.4 313.4,386.4 313,386.4 312.5,386.4 312,386.4 311.5,386.4 311,386.4 310.6,386.4 310.1,386.4 309.6,386.4 309.1,386.4 308.7,386.4 308.2,386.4 307.7,386.4 307.2,386.4 306.7,386.4 306.3,386.4 305.8,386.4 305.3,386.4 304.8,386.4 304.4,386.4 303.9,386.4 303.4,386.4 302.9,386.4 302.4,386.4 302,386.4 301.5,386.4 301,386.4 300.5,386.4 300.1,386.4 299.6,386.4 299.1,386.4 298.6,386.4 298.1,386.4 297.7,386.4 297.2,386.4 296.7,386.4 296.2,386.4 295.8,386.4 295.3,386.4 294.8,386.4 294.3,386.4 293.8,386.4 293.4,386.4 292.9,386.4 292.4,386.4 291.9,386.4 291.4,386.4 291,386.4 290.5,386.4 290,386.4 289.5,386.4 289.1,386.4 288.6,386.4 288.1,386.4 287.6,386.4 287.1,386.4 286.7,386.4 286.2,386.4 285.7,386.4 285.2,386.4 284.8,386.4 284.3,386.4 283.8,386.4 283.3,386.4 282.8,386.4 282.4,386.4 281.9,386.4 281.4,387.8 280.9,390.4 280.5,392.8 280,394.9 279.5,396.3 279,397.4 278.5,398.4 278.1,399.2 277.6,400 277.1,400.8 276.6,401.4 276.2,402 275.7,402.6 275.2,403.1 274.7,403.7 274.2,404.2 273.8,404.7 273.3,405.2 272.8,405.7 272.3,406.2 271.9,406.6 271.4,407 270.9,407.5 270.4,407.9 269.9,408.3 269.5,408.6 269,409 268.5,409.4 268,409.8 267.5,410.1 267.1,410.5 266.6,410.8 266.1,411.1 265.6,411.5 265.2,411.8 264.7,412.2 264.2,412.5 263.7,412.8 263.2,413.2 262.8,413.6 262.3,413.9 261.8,414.3 261.3,414.7 260.9,415 260.4,415.4 259.9,415.7 259.4,416.1 258.9,416.5 258.5,416.8 258,417.2 257.5,417.5 257,417.9 256.6,418.2 256.1,418.6 255.6,418.9 255.1,419.2 254.6,419.5 254.2,419.9 253.7,420.2 253.2,420.5 252.7,420.8 252.3,421.1 251.8,421.4 251.3,421.7 250.8,422 250.3,422.3 249.9,422.6 249.4,422.9 248.9,423.2 248.4,423.5 248,423.8 247.5,424.1 247,424.4 246.5,424.7 246,425 245.6,425.3 245.1,425.6 244.6,425.9 244.1,426.2 243.6,426.5 243.2,426.9 242.7,427.2 242.2,427.5 241.7,427.8 241.3,428.1 240.8,428.4 240.3,428.7 239.8,429 239.3,429.3 238.9,429.6 238.4,429.9 237.9,430.2 237.4,430.5 237,430.8 236.5,431 236,431.3 235.5,431.6 235,431.8 234.6,432.1 234.1,432.3 233.6,432.5 233.1,432.7 232.7,433 232.2,433.2 231.7,433.4 231.2,433.5 230.7,433.7 230.3,433.9 229.8,434.1 229.3,434.3 228.8,434.5 228.4,434.7 227.9,434.9 227.4,435.1 226.9,435.3 226.4,435.4 226,435.6 225.5,435.8 225,436 224.5,436.2 224.1,436.3 223.6,436.5 223.1,436.7 222.6,436.9 222.1,437 221.7,437.2 221.2,437.3 220.7,437.5 220.2,437.7 219.7,437.8 219.3,438 218.8,438.1 218.3,438.3 217.8,438.4 217.4,438.5 216.9,438.7 216.4,438.8 215.9,438.9 215.4,439.1 215,439.2 214.5,439.3 214,439.4 213.5,439.5 213.1,439.6 212.6,439.7 212.1,439.9 211.6,439.9 211.1,440 210.7,440.1 210.2,440.2 209.7,440.3 209.2,440.4 208.8,440.4 208.3,440.5 207.8,440.6" fill="#433e85" fill-opacity="0.2"/>
<polygon points="207.8,408.4 208.3,408.4 208.8,408.3 209.2,408.2 209.7,408.1 210.2,408 210.7,407.9 211.1,407.7 211.6,407.6 212.1,407.4 212.6,407.3 213.1,407.1 213.5,406.9 214,406.7 214.5,406.6 215,406.4 215.4,406.2 215.9,406 216.4,405.8 216.9,405.6 217.4,405.3 217.8,405.1 218.3,404.9 218.8,404.7 219.3,404.4 219.7,404.1 220.2,403.8 220.7,403.5 221.2,403.1 221.7,402.8 222.1,402.4 222.6,402.1 223.1,401.7 223.6,401.4 224.1,401.1 224.5,400.8 225,400.5 225.5,400.1 226,399.8 226.4,399.5 226.9,399.2 227.4,398.9 227.9,398.6 228.4,398.2 228.8,397.9 229.3,397.6 229.8,397.3 230.3,397 230.7,396.6 231.2,396.3 231.7,396 232.2,395.8 232.7,395.5 233.1,395.2 233.6,394.8 234.1,394.5 234.6,394.1 235,393.6 235.5,393.2 236,392.7 236.5,392.1 237,391.3 237.4,390.4 237.9,388.8 238.4,386.4 238.9,386.4 239.3,386.4 239.8,386.4 240.3,386.4 240.8,386.4 241.3,386.4 241.7,386.4 242.2,386.4 242.7,386.4 243.2,386.4 243.6,386.4 244.1,386.4 244.6,386.4 245.1,386.4 245.6,386.4 246,386.4 246.5,386.4 247,386.4 247.5,386.4 248,386.4 248.4,386.4 248.9,386.4 249.4,386.4 249.9,386.4 250.3,386.4 250.8,386.4 251.3,386.4 251.8,386.4 252.3,386.4 252.7,386.4 253.2,386.4 253.7,386.4 254.2,386.4 254.6,386.4 255.1,386.4 255.6,386.4 256.1,386.4 256.6,386.4 257,386.4 257.5,386.4 258,386.4 258.5,386.4 258.9,386.4 259.4,386.4 259.9,386.4 260.4,386.4 260.9,386.4 261.3,386.4 261.8,386.4 262.3,386.4 262.8,386.4 263.2,386.4 263.7,386.4 264.2,386.4 264.7,386.4 265.2,386.4 265.6,386.4 266.1,386.4 266.6,386.4 267.1,386.4 267.5,386.4 268,386.4 268.5,386.4 269,386.4 269.5,386.4 269.9,386.4 270.4,386.4 270.9,386.4 271.4,386.4 271.9,386.4 272.3,386.4 272.8,386.4 273.3,386.4 273.8,386.4 274.2,386.4 274.7,386.4 275.2,386.4 275.7,386.4 276.2,386.4 276.6,386.4 277.1,386.4 277.6,386.4 278.1,386.4 278.5,386.4 279,386.4 279.5,386.4 280,386.4 280.5,386.4 280.9,386.4 281.4,386.4 281.9,386.4 282.4,386.4 282.8,386.4 283.3,386.4 283.8,386.4 284.3,386.4 284.8,386.4 285.2,386.4 285.7,386.4 286.2,386.4 286.7,386.4 287.1,386.4 287.6,386.4 288.1,386.4 288.6,386.4 289.1,386.4 289.5,386.4 290,386.4 290.5,386.4 291,386.4 291.4,386.4 291.9,386.4 292.4,386.4 292.9,386.4 293.4,386.4 293.8,386.4 294.3,386.4 294.8,386.4 295.3,386.4 295.8,386.4 296.2,386.4 296.7,386.4 297.2,386.4 297.7,386.4 298.1,386.4 298.6,386.4 299.1,386.4 299.6,386.4 300.1,386.4 300.5,386.4 301,386.4 301.5,386.4 302,386.4 302.4,386.4 302.9,386.4 303.4,386.4 303.9,386.4 304.4,386.4 304.8,386.4 305.3,386.4 305.8,386.4 306.3,386.4 306.7,386.4 307.2,386.4 307.7,386.4 308.2,386.4 308.7,386.4 309.1,386.4 309.6,386.4 310.1,386.4 310.6,386.4 311,386.4 311.5,386.4 312,386.4 312.5,386.4 313,386.4 313.4,386.4 313.9,386.4 314.4,386.4 314.9,386.4 315.3,386.4 315.8,386.4 316.3,386.4 316.8,386.4 317.3,386.4 317.7,386.4 318.2,386.4 318.7,386.4 319.2,386.4 319.7,386.4 320.1,386.4 320.6,386.4 321.1,386.4 321.6,386.4 322,386.4 322.5,386.4 323,386.4 323.5,386.4 324,386.4 324.4,386.4 324.9,386.4 325.4,386.4 325.9,386.4 326.3,386.4 326.8,386.4 327.3,386.4 327.8,386.4 328.3,386.4 328.7,386.4 329.2,386.4 329.7,386.4 330.2,386.4 330.6,386.4 331.1,386.4 331.6,386.4 331.6,386.4 331.1,386.4 330.6,386.4 330.2,386.4 329.7,386.4 329.2,386.4 328.7,386.4 328.3,386.4 327.8,386.4 327.3,386.4 326.8,386.4 326.3,386.4 325.9,386.4 325.4,386.4 324.9,386.4 324.4,386.4 324,386.4 323.5,386.4 323,386.4 322.5,386.4 322,386.4 321.6,386.4 321.1,386.4 320.6,386.4 320.1,386.4 319.7,386.4 319.2,386.4 318.7,386.4 318.2,386.4 317.7,386.4 317.3,386.4 316.8,386.4 316.3,386.4 315.8,386.4 315.3,386.4 314.9,386.4 314.4,386.4 313.9,386.4 313.4,386.4 313,386.4 312.5,386.4 312,386.4 311.5,386.4 311,386.4 310.6,386.4 310.1,386.4 309.6,386.4 309.1,386.4 308.7,386.4 308.2,386.4 307.7,386.4 307.2,386.4 306.7,386.4 306.3,386.4 305.8,386.4 305.3,386.4 304.8,386.4 304.4,386.4 303.9,386.4 303.4,386.4 302.9,386.4 302.4,386.4 302,386.4 301.5,386.4 301,386.4 300.5,386.4 300.1,386.4 299.6,386.4 299.1,386.4 298.6,386.4 298.1,386.4 297.7,386.4 297.2,386.4 296.7,386.4 296.2,386.4 295.8,386.4 295.3,386.4 294.8,386.4 294.3,386.4 293.8,386.4 293.4,386.4 292.9,386.4 292.4,386.4 291.9,386.4 291.4,386.4 291,386.4 290.5,386.4 290,386.4 289.5,386.4 289.1,386.4 288.6,386.4 288.1,386.4 287.6,386.4 287.1,386.4 286.7,386.4 286.2,386.4 285.7,386.4 285.2,386.4 284.8,386.4 284.3,386.4 283.8,386.4 283.3,386.4 282.8,386.4 282.4,386.4 281.9,386.4 281.4,386.4 280.9,386.4 280.5,386.4 280,386.4 279.5,387.2 279,389.7 278.5,392 278.1,393.9 277.6,395.4 277.1,396.5 276.6,397.4 276.2,398.3 275.7,399.1 275.2,399.8 274.7,400.4 274.2,401 273.8,401.6 273.3,402.1 272.8,402.6 272.3,403 271.9,403.5 271.4,404 270.9,404.4 270.4,404.8 269.9,405.2 269.5,405.6 269,405.9 268.5,406.3 268,406.6 267.5,407 267.1,407.3 266.6,407.6 266.1,407.9 265.6,408.2 265.2,408.5 264.7,408.8 264.2,409.1 263.7,409.4 263.2,409.7 262.8,410 262.3,410.3 261.8,410.6 261.3,410.9 260.9,411.2 260.4,411.5 259.9,411.9 259.4,412.2 258.9,412.5 258.5,412.8 258,413.2 257.5,413.5 257,413.8 256.6,414.1 256.1,414.4 255.6,414.8 255.1,415.1 254.6,415.4 254.2,415.7 253.7,416.1 253.2,416.4 252.7,416.7 252.3,417 251.8,417.3 251.3,417.6 250.8,418 250.3,418.3 249.9,418.6 249.4,418.9 248.9,419.2 248.4,419.6 248,419.9 247.5,420.2 247,420.5 246.5,420.8 246,421.1 245.6,421.5 245.1,421.8 244.6,422.1 244.1,422.5 243.6,422.8 243.2,423.2 242.7,423.5 242.2,423.8 241.7,424.2 241.3,424.5 240.8,424.9 240.3,425.2 239.8,425.6 239.3,425.9 238.9,426.3 238.4,426.6 237.9,426.9 237.4,427.3 237,427.6 236.5,427.9 236,428.2 235.5,428.5 235,428.8 234.6,429.1 234.1,429.4 233.6,429.6 233.1,429.9 232.7,430.2 232.2,430.4 231.7,430.6 231.2,430.8 230.7,431.1 230.3,431.3 229.8,431.5 229.3,431.7 228.8,431.9 228.4,432.1 227.9,432.3 227.4,432.5 226.9,432.7 226.4,432.9 226,433.1 225.5,433.3 225,433.5 224.5,433.7 224.1,433.9 223.6,434.1 223.1,434.3 222.6,434.5 222.1,434.7 221.7,434.9 221.2,435.1 220.7,435.2 220.2,435.4 219.7,435.6 219.3,435.7 218.8,435.9 218.3,436.1 217.8,436.2 217.4,436.4 216.9,436.5 216.4,436.7 215.9,436.8 215.4,437 215,437.1 214.5,437.2 214,437.4 213.5,437.5 213.1,437.6 212.6,437.7 212.1,437.8 211.6,437.9 211.1,438 210.7,438.1 210.2,438.2 209.7,438.3 209.2,438.4 208.8,438.5 208.3,438.5 207.8,438.6" fill="#440154" fill-opacity="0.2"/>
<polyline points="207.8,433.1 208.5,433.2 209.2,432.6 209.8,433.7 210.5,432.4 211.2,432.5 211.9,432.4 212.6,432.2 213.2,432.7 213.9,432.3 214.6,431.8 215.3,431.8 216,431.8 216.6,432.6 217.3,431.4 218,430.9 218.7,430.8 219.4,431.1 220,431.9 220.7,430.5 221.4,430.9 222.1,432.1 222.7,430.4 223.4,431.2 224.1,431 224.8,430.5 225.5,429.3 226.1,430 226.8,429.5 227.5,428.6 228.2,428.5 228.9,429.2 229.5,429.1 230.2,429.5 230.9,429 231.6,428.3 232.3,428.1 232.9,428 233.6,427.4 234.3,428.1 235,427.5 235.7,426.9 236.3,426.8 237,426.3 237.7,426.4 238.4,426.5 239.1,425.9 239.7,426.4 240.4,426.4 241.1,425 241.8,425 242.5,424.5 243.1,425.3 243.8,424.2 244.5,424 245.2,423.8 245.9,424.1 246.5,422.6 247.2,421.4 247.9,421.1 248.6,421 249.2,420.1 249.9,419 250.6,420.1 251.3,418 252,416.9 252.6,416 253.3,414.7 254,414.3 254.7,414 255.4,413.2 256,412.2 256.7,412.2 257.4,411.1 258.1,409.8 258.8,408.4 259.4,408.7 260.1,407.8 260.8,406.8 261.5,405.2 262.2,405 262.8,403.2 263.5,403.5 264.2,402.2 264.9,401.3 265.6,399.6 266.2,398 266.9,397.4 267.6,393.3 268.3,387.8 268.3,386.4 331.6,386.4" fill="none" stroke="#bddf26" stroke-width="1.8" stroke-linejoin="round"/>
<polyline points="207.8,430.5 208.5,430.7 209.1,430.6 209.8,431.1 210.4,430.2 211.1,430.7 211.7,429.9 212.4,430.9 213.1,430.8 213.7,430.1 214.4,430.4 215,429.6 215.7,429.7 216.3,430.2 217,429.5 217.7,429.6 218.3,428.8 219,429.4 219.6,429.2 220.3,428.2 220.9,427.5 221.6,427.4 222.3,428.3 222.9,428 223.6,427.2 224.2,427.9 224.9,428.2 225.5,427.4 226.2,427.1 226.9,427.6 227.5,427.8 228.2,427.5 228.8,426.2 229.5,426.7 230.1,426.2 230.8,425.8 231.5,425.4 232.1,425.6 232.8,424.9 233.4,425.4 234.1,424.9 234.7,425 235.4,423.6 236.1,423.9 236.7,424 237.4,423.5 238,423.2 238.7,422.4 239.3,423.3 240,422.7 240.7,422.1 241.3,420.2 242,420.7 242.6,420.9 243.3,420.2 243.9,419.1 244.6,419.9 245.3,419.5 245.9,418.2 246.6,418.1 247.2,417.4 247.9,417.5 248.5,415.5 249.2,415 249.9,415 250.5,414.3 251.2,415.1 251.8,413 252.5,412.8 253.1,411.8 253.8,411 254.5,410.9 255.1,411 255.8,409.2 256.4,409.1 257.1,408.1 257.7,407.5 258.4,406.6 259.1,406.9 259.7,404.2 260.4,403.9 261,402.5 261.7,401.2 262.3,401.4 263,401.4 263.7,399.8 264.3,398.6 265,396.5 265.6,392.7 266.3,389.5 266.3,386.4 331.6,386.4" fill="none" stroke="#4ec36b" stroke-width="1.8" stroke-linejoin="round"/>
<polyline points="207.8,428.9 208.4,429.1 209.1,429.1 209.7,428.9 210.3,429 211,429 211.6,429.4 212.2,428.4 212.9,427.3 213.5,427.1 214.1,427.3 214.8,427.5 215.4,428.1 216.1,426.9 216.7,427.5 217.3,427.4 218,427.3 218.6,427 219.2,427.1 219.9,426.7 220.5,427.1 221.1,426.5 221.8,424.9 222.4,426 223,425.9 223.7,425.3 224.3,425 224.9,425.8 225.6,425.1 226.2,424.3 226.8,424.5 227.5,424.3 228.1,423.3 228.7,424.3 229.4,423.6 230,423.7 230.6,422.4 231.3,423.9 231.9,423 232.6,422.6 233.2,421.7 233.8,421.4 234.5,420.7 235.1,422 235.7,420.4 236.4,420.7 237,420.6 237.6,419.6 238.3,420.1 238.9,420.4 239.5,419.1 240.2,419.4 240.8,418.6 241.4,417.7 242.1,417.4 242.7,416.4 243.3,417 244,417.2 244.6,416.4 245.2,416 245.9,415.7 246.5,414.3 247.2,414.3 247.8,414.5 248.4,412.5 249.1,412.3 249.7,411.5 250.3,411.1 251,410.2 251.6,410 252.2,408.8 252.9,408.7 253.5,408.1 254.1,407.5 254.8,407.9 255.4,406.6 256,406 256.7,405.1 257.3,405.3 257.9,403 258.6,403 259.2,402.9 259.8,402.4 260.5,400.9 261.1,399.9 261.8,399.2 262.4,397.5 263,396.2 263.7,392.5 264.3,389.2 264.3,386.4 331.6,386.4" fill="none" stroke="#1f9a8a" stroke-width="1.8" stroke-linejoin="round"/>
<polyline points="207.8,425.7 208.4,427.6 209,427.2 209.6,427.3 210.2,426.3 210.9,427.3 211.5,426.8 212.1,426.4 212.7,426.8 213.3,426.7 213.9,426.3 214.5,427 215.1,426.5 215.8,425.8 216.4,425.4 217,425.4 217.6,426 218.2,425.2 218.8,424.3 219.4,424.3 220,424.4 220.7,424.7 221.3,423.7 221.9,424.1 222.5,424.2 223.1,423.8 223.7,422.4 224.3,422.9 224.9,422.2 225.6,422.8 226.2,421.8 226.8,422.4 227.4,422 228,420.3 228.6,420.9 229.2,421.3 229.8,420.8 230.5,420.3 231.1,419.5 231.7,420.1 232.3,420.4 232.9,419.3 233.5,418.9 234.1,418.5 234.7,417.5 235.4,417.7 236,417.1 236.6,417.8 237.2,416.4 237.8,415.4 238.4,415.8 239,415.7 239.6,415.4 240.3,414.2 240.9,415.3 241.5,414.5 242.1,413.9 242.7,413.3 243.3,413.5 243.9,412.7 244.5,412.6 245.2,411.9 245.8,411.6 246.4,411.6 247,410.6 247.6,409.6 248.2,410.1 248.8,409.2 249.4,408.3 250.1,408.7 250.7,407.6 251.3,407.8 251.9,406.1 252.5,405 253.1,404.7 253.7,405.3 254.3,404.3 254.9,404 255.6,403.5 256.2,402.1 256.8,402.9 257.4,401 258,400.9 258.6,399.3 259.2,399.2 259.8,398.7 260.5,397 261.1,395.1 261.7,392.7 262.3,389 262.3,386.4 331.6,386.4" fill="none" stroke="#2e6f8e" stroke-width="1.8" stroke-linejoin="round"/>
<polyline points="207.8,424.7 208.4,424.7 209,424.9 209.6,424.9 210.2,424.2 210.7,424.9 211.3,425 211.9,424.6 212.5,423.7 213.1,424.9 213.7,423.4 214.3,424.2 214.9,424.3 215.5,422.9 216.1,423.5 216.6,423.9 217.2,423.2 217.8,422.4 218.4,422.1 219,422.7 219.6,422.1 220.2,421.7 220.8,422.2 221.4,421.5 222,421.5 222.5,421.5 223.1,421.3 223.7,420.8 224.3,420.6 224.9,420.7 225.5,420.4 226.1,419.3 226.7,419.5 227.3,418.9 227.9,418.4 228.4,418.5 229,417.3 229.6,418.6 230.2,417.4 230.8,417.6 231.4,416.1 232,415.9 232.6,417.4 233.2,416.6 233.8,415.3 234.3,414.9 234.9,414.6 235.5,414.7 236.1,414.1 236.7,413.6 237.3,413.7 237.9,412.8 238.5,414.2 239.1,412.3 239.7,412.8 240.2,411.4 240.8,411.7 241.4,411.7 242,410.6 242.6,410.9 243.2,410.5 243.8,410.5 244.4,409.3 245,408.6 245.6,407.9 246.1,408.1 246.7,407 247.3,407.2 247.9,406.8 248.5,406.1 249.1,405.5 249.7,405.8 250.3,405.4 250.9,404.9 251.5,404.4 252,404.5 252.6,403 253.2,403.3 253.8,402.3 254.4,402.4 255,401.2 255.6,400.6 256.2,400.4 256.8,398.4 257.4,398.5 257.9,396.9 258.5,396.2 259.1,395.6 259.7,393 260.3,389.5 260.3,386.4 331.6,386.4" fill="none" stroke="#433e85" stroke-width="1.8" stroke-linejoin="round"/>
<polyline points="207.8,423.3 208.4,424.1 208.9,423.1 209.5,424.1 210.1,422.6 210.6,423.1 211.2,423 211.8,422.6 212.3,422.2 212.9,423 213.5,423 214,422.5 214.6,422.8 215.2,422.1 215.7,420.6 216.3,421.8 216.9,420.7 217.4,421.6 218,420.5 218.6,420.6 219.2,420.3 219.7,419.7 220.3,418.9 220.9,419.5 221.4,419.3 222,419.7 222.6,418.6 223.1,418.9 223.7,418.1 224.3,418.3 224.8,417.1 225.4,418.8 226,417.7 226.5,416.8 227.1,417.1 227.7,417 228.2,416.4 228.8,416.6 229.4,415.5 229.9,413.9 230.5,414.2 231.1,415 231.6,414.6 232.2,413.9 232.8,412.8 233.3,413.4 233.9,413 234.5,411.8 235,411.5 235.6,411.8 236.2,411.8 236.7,411.7 237.3,410.9 237.9,411.4 238.4,409.5 239,409.9 239.6,409 240.2,407.9 240.7,407.9 241.3,408.8 241.9,407.4 242.4,406.9 243,407.6 243.6,407.3 244.1,406.5 244.7,407 245.3,405 245.8,406.7 246.4,405.7 247,404.9 247.5,404.6 248.1,404.1 248.7,403.7 249.2,403.6 249.8,402.6 250.4,404 250.9,402.5 251.5,402.4 252.1,401.6 252.6,401 253.2,401.2 253.8,400.5 254.3,399.2 254.9,398.8 255.5,398.6 256,396.3 256.6,395.2 257.2,395.8 257.7,392.6 258.3,388.9 258.3,386.4 331.6,386.4" fill="none" stroke="#440154" stroke-width="1.8" stroke-linejoin="round"/>
<rect x="207.8" y="385.2" width="123.8" height="77.2" fill="none" stroke="#a0a0a0" stroke-width="0.9"/>
<line x1="207.8" y1="385.2" x2="207.8" y2="462.4" stroke="#8a8a8a" stroke-width="1"/>
<line x1="207.8" y1="462.4" x2="331.6" y2="462.4" stroke="#8a8a8a" stroke-width="1"/>
<line x1="206" y1="462.4" x2="207.8" y2="462.4" stroke="#8a8a8a" stroke-width="0.9"/>
<text x="204" y="465.3" font-size="8.0" text-anchor="end" fill="#4d4d4d" stroke="#4d4d4d" stroke-width="0.15">0%</text>
<line x1="206" y1="447.2" x2="207.8" y2="447.2" stroke="#8a8a8a" stroke-width="0.9"/>
<text x="204" y="450.1" font-size="8.0" text-anchor="end" fill="#4d4d4d" stroke="#4d4d4d" stroke-width="0.15">20%</text>
<line x1="206" y1="432" x2="207.8" y2="432" stroke="#8a8a8a" stroke-width="0.9"/>
<text x="204" y="434.9" font-size="8.0" text-anchor="end" fill="#4d4d4d" stroke="#4d4d4d" stroke-width="0.15">40%</text>
<line x1="206" y1="416.8" x2="207.8" y2="416.8" stroke="#8a8a8a" stroke-width="0.9"/>
<text x="204" y="419.7" font-size="8.0" text-anchor="end" fill="#4d4d4d" stroke="#4d4d4d" stroke-width="0.15">60%</text>
<line x1="206" y1="401.6" x2="207.8" y2="401.6" stroke="#8a8a8a" stroke-width="0.9"/>
<text x="204" y="404.5" font-size="8.0" text-anchor="end" fill="#4d4d4d" stroke="#4d4d4d" stroke-width="0.15">80%</text>
<line x1="206" y1="386.4" x2="207.8" y2="386.4" stroke="#8a8a8a" stroke-width="0.9"/>
<text x="204" y="389.3" font-size="8.0" text-anchor="end" fill="#4d4d4d" stroke="#4d4d4d" stroke-width="0.15">100%</text>
<line x1="207.8" y1="462.4" x2="207.8" y2="464.2" stroke="#8a8a8a" stroke-width="0.9"/>
<text x="207.8" y="471.5" font-size="8.0" text-anchor="middle" fill="#4d4d4d" stroke="#4d4d4d" stroke-width="0.15">2</text>
<line x1="224.9" y1="462.4" x2="224.9" y2="464.2" stroke="#8a8a8a" stroke-width="0.9"/>
<text x="224.9" y="471.5" font-size="8.0" text-anchor="middle" fill="#4d4d4d" stroke="#4d4d4d" stroke-width="0.15">50</text>
<line x1="242.7" y1="462.4" x2="242.7" y2="464.2" stroke="#8a8a8a" stroke-width="0.9"/>
<text x="242.7" y="471.5" font-size="8.0" text-anchor="middle" fill="#4d4d4d" stroke="#4d4d4d" stroke-width="0.15">100</text>
<line x1="260.5" y1="462.4" x2="260.5" y2="464.2" stroke="#8a8a8a" stroke-width="0.9"/>
<text x="260.5" y="471.5" font-size="8.0" text-anchor="middle" fill="#4d4d4d" stroke="#4d4d4d" stroke-width="0.15">150</text>
<line x1="278.2" y1="462.4" x2="278.2" y2="464.2" stroke="#8a8a8a" stroke-width="0.9"/>
<text x="278.2" y="471.5" font-size="8.0" text-anchor="middle" fill="#4d4d4d" stroke="#4d4d4d" stroke-width="0.15">200</text>
<line x1="296" y1="462.4" x2="296" y2="464.2" stroke="#8a8a8a" stroke-width="0.9"/>
<text x="296" y="471.5" font-size="8.0" text-anchor="middle" fill="#4d4d4d" stroke="#4d4d4d" stroke-width="0.15">250</text>
<line x1="313.8" y1="462.4" x2="313.8" y2="464.2" stroke="#8a8a8a" stroke-width="0.9"/>
<text x="313.8" y="471.5" font-size="8.0" text-anchor="middle" fill="#4d4d4d" stroke="#4d4d4d" stroke-width="0.15">300</text>
<line x1="331.6" y1="462.4" x2="331.6" y2="464.2" stroke="#8a8a8a" stroke-width="0.9"/>
<text x="331.6" y="471.5" font-size="8.0" text-anchor="middle" fill="#4d4d4d" stroke="#4d4d4d" stroke-width="0.15">350</text>
<rect x="207.8" y="370.4" width="123.8" height="14.4" fill="#d9d9d9" stroke="#8c8c8c" stroke-width="0.9"/>
<line x1="207.8" y1="384.8" x2="331.6" y2="384.8" stroke="#555" stroke-width="1.0"/>
<text x="269.7" y="380.6" font-size="9.5" text-anchor="middle" fill="#1a1a1a" stroke="#1a1a1a" stroke-width="0.15">Reproductive stage</text>
<line x1="364.8" y1="454.8" x2="488.6" y2="454.8" stroke="#f3f3f3" stroke-width="0.8"/>
<line x1="364.8" y1="439.6" x2="488.6" y2="439.6" stroke="#f3f3f3" stroke-width="0.8"/>
<line x1="364.8" y1="424.4" x2="488.6" y2="424.4" stroke="#f3f3f3" stroke-width="0.8"/>
<line x1="364.8" y1="409.2" x2="488.6" y2="409.2" stroke="#f3f3f3" stroke-width="0.8"/>
<line x1="364.8" y1="394" x2="488.6" y2="394" stroke="#f3f3f3" stroke-width="0.8"/>
<line x1="373.3" y1="385.2" x2="373.3" y2="462.4" stroke="#f3f3f3" stroke-width="0.8"/>
<line x1="390.8" y1="385.2" x2="390.8" y2="462.4" stroke="#f3f3f3" stroke-width="0.8"/>
<line x1="408.6" y1="385.2" x2="408.6" y2="462.4" stroke="#f3f3f3" stroke-width="0.8"/>
<line x1="426.3" y1="385.2" x2="426.3" y2="462.4" stroke="#f3f3f3" stroke-width="0.8"/>
<line x1="444.1" y1="385.2" x2="444.1" y2="462.4" stroke="#f3f3f3" stroke-width="0.8"/>
<line x1="461.9" y1="385.2" x2="461.9" y2="462.4" stroke="#f3f3f3" stroke-width="0.8"/>
<line x1="479.7" y1="385.2" x2="479.7" y2="462.4" stroke="#f3f3f3" stroke-width="0.8"/>
<line x1="364.8" y1="462.4" x2="488.6" y2="462.4" stroke="#ebebeb" stroke-width="1"/>
<line x1="364.8" y1="447.2" x2="488.6" y2="447.2" stroke="#ebebeb" stroke-width="1"/>
<line x1="364.8" y1="432" x2="488.6" y2="432" stroke="#ebebeb" stroke-width="1"/>
<line x1="364.8" y1="416.8" x2="488.6" y2="416.8" stroke="#ebebeb" stroke-width="1"/>
<line x1="364.8" y1="401.6" x2="488.6" y2="401.6" stroke="#ebebeb" stroke-width="1"/>
<line x1="364.8" y1="386.4" x2="488.6" y2="386.4" stroke="#ebebeb" stroke-width="1"/>
<line x1="364.8" y1="385.2" x2="364.8" y2="462.4" stroke="#ebebeb" stroke-width="1"/>
<line x1="381.9" y1="385.2" x2="381.9" y2="462.4" stroke="#ebebeb" stroke-width="1"/>
<line x1="399.7" y1="385.2" x2="399.7" y2="462.4" stroke="#ebebeb" stroke-width="1"/>
<line x1="417.5" y1="385.2" x2="417.5" y2="462.4" stroke="#ebebeb" stroke-width="1"/>
<line x1="435.2" y1="385.2" x2="435.2" y2="462.4" stroke="#ebebeb" stroke-width="1"/>
<line x1="453" y1="385.2" x2="453" y2="462.4" stroke="#ebebeb" stroke-width="1"/>
<line x1="470.8" y1="385.2" x2="470.8" y2="462.4" stroke="#ebebeb" stroke-width="1"/>
<line x1="488.6" y1="385.2" x2="488.6" y2="462.4" stroke="#ebebeb" stroke-width="1"/>
<polygon points="364.8,421.1 365.3,421 365.8,421 366.2,421 366.7,421 367.2,420.9 367.7,420.9 368.1,420.8 368.6,420.8 369.1,420.7 369.6,420.7 370.1,420.6 370.5,420.6 371,420.5 371.5,420.4 372,420.4 372.4,420.3 372.9,420.2 373.4,420.1 373.9,420.1 374.4,420 374.8,419.9 375.3,419.8 375.8,419.7 376.3,419.7 376.7,419.6 377.2,419.5 377.7,419.4 378.2,419.3 378.7,419.2 379.1,419.1 379.6,418.9 380.1,418.8 380.6,418.7 381.1,418.5 381.5,418.4 382,418.2 382.5,418.1 383,417.9 383.4,417.8 383.9,417.6 384.4,417.5 384.9,417.3 385.4,417.1 385.8,417 386.3,416.8 386.8,416.6 387.3,416.5 387.7,416.3 388.2,416.1 388.7,416 389.2,415.8 389.7,415.7 390.1,415.5 390.6,415.4 391.1,415.2 391.6,415.1 392,415 392.5,414.8 393,414.7 393.5,414.5 394,414.4 394.4,414.2 394.9,414 395.4,413.9 395.9,413.7 396.3,413.5 396.8,413.3 397.3,413 397.8,412.8 398.3,412.5 398.7,412.2 399.2,411.9 399.7,411.6 400.2,411.2 400.6,410.9 401.1,410.5 401.6,410.2 402.1,409.8 402.6,409.5 403,409.1 403.5,408.7 404,408.4 404.5,408 405,407.7 405.4,407.3 405.9,407 406.4,406.6 406.9,406.2 407.3,405.8 407.8,405.5 408.3,405.1 408.8,404.7 409.3,404.3 409.7,403.9 410.2,403.6 410.7,403.2 411.2,402.8 411.6,402.4 412.1,402.1 412.6,401.8 413.1,401.5 413.6,401.1 414,400.8 414.5,400.4 415,399.9 415.5,399.4 415.9,398.8 416.4,398 416.9,396.9 417.4,395.5 417.9,393.9 418.3,391.9 418.8,389.1 419.3,386.4 419.8,386.4 420.2,386.4 420.7,386.4 421.2,386.4 421.7,386.4 422.2,386.4 422.6,386.4 423.1,386.4 423.6,386.4 424.1,386.4 424.5,386.4 425,386.4 425.5,386.4 426,386.4 426.5,386.4 426.9,386.4 427.4,386.4 427.9,386.4 428.4,386.4 428.9,386.4 429.3,386.4 429.8,386.4 430.3,386.4 430.8,386.4 431.2,386.4 431.7,386.4 432.2,386.4 432.7,386.4 433.2,386.4 433.6,386.4 434.1,386.4 434.6,386.4 435.1,386.4 435.5,386.4 436,386.4 436.5,386.4 437,386.4 437.5,386.4 437.9,386.4 438.4,386.4 438.9,386.4 439.4,386.4 439.8,386.4 440.3,386.4 440.8,386.4 441.3,386.4 441.8,386.4 442.2,386.4 442.7,386.4 443.2,386.4 443.7,386.4 444.1,386.4 444.6,386.4 445.1,386.4 445.6,386.4 446.1,386.4 446.5,386.4 447,386.4 447.5,386.4 448,386.4 448.4,386.4 448.9,386.4 449.4,386.4 449.9,386.4 450.4,386.4 450.8,386.4 451.3,386.4 451.8,386.4 452.3,386.4 452.8,386.4 453.2,386.4 453.7,386.4 454.2,386.4 454.7,386.4 455.1,386.4 455.6,386.4 456.1,386.4 456.6,386.4 457.1,386.4 457.5,386.4 458,386.4 458.5,386.4 459,386.4 459.4,386.4 459.9,386.4 460.4,386.4 460.9,386.4 461.4,386.4 461.8,386.4 462.3,386.4 462.8,386.4 463.3,386.4 463.7,386.4 464.2,386.4 464.7,386.4 465.2,386.4 465.7,386.4 466.1,386.4 466.6,386.4 467.1,386.4 467.6,386.4 468,386.4 468.5,386.4 469,386.4 469.5,386.4 470,386.4 470.4,386.4 470.9,386.4 471.4,386.4 471.9,386.4 472.3,386.4 472.8,386.4 473.3,386.4 473.8,386.4 474.3,386.4 474.7,386.4 475.2,386.4 475.7,386.4 476.2,386.4 476.7,386.4 477.1,386.4 477.6,386.4 478.1,386.4 478.6,386.4 479,386.4 479.5,386.4 480,386.4 480.5,386.4 481,386.4 481.4,386.4 481.9,386.4 482.4,386.4 482.9,386.4 483.3,386.4 483.8,386.4 484.3,386.4 484.8,386.4 485.3,386.4 485.7,386.4 486.2,386.4 486.7,386.4 487.2,386.4 487.6,386.4 488.1,386.4 488.6,386.4 488.6,386.4 488.1,386.4 487.6,386.4 487.2,386.4 486.7,386.4 486.2,386.4 485.7,386.4 485.3,386.4 484.8,386.4 484.3,386.4 483.8,386.4 483.3,386.4 482.9,386.4 482.4,386.4 481.9,386.4 481.4,386.4 481,386.4 480.5,386.4 480,386.4 479.5,386.4 479,386.4 478.6,386.4 478.1,386.4 477.6,386.4 477.1,386.4 476.7,386.4 476.2,386.4 475.7,386.4 475.2,386.4 474.7,386.4 474.3,386.4 473.8,386.4 473.3,386.4 472.8,386.4 472.3,386.4 471.9,386.4 471.4,386.4 470.9,386.4 470.4,386.4 470,386.4 469.5,386.4 469,386.4 468.5,386.4 468,386.4 467.6,386.4 467.1,386.4 466.6,386.4 466.1,386.4 465.7,386.4 465.2,386.4 464.7,386.4 464.2,386.4 463.7,386.4 463.3,386.4 462.8,386.4 462.3,386.4 461.8,389.3 461.4,392.3 460.9,394.8 460.4,396.6 459.9,398.4 459.4,399.9 459,401.4 458.5,402.7 458,403.8 457.5,404.8 457.1,405.6 456.6,406.3 456.1,407 455.6,407.5 455.1,408.1 454.7,408.6 454.2,409 453.7,409.4 453.2,409.8 452.8,410.2 452.3,410.6 451.8,410.9 451.3,411.3 450.8,411.6 450.4,411.9 449.9,412.3 449.4,412.6 448.9,413 448.4,413.4 448,413.8 447.5,414.2 447,414.6 446.5,415 446.1,415.4 445.6,415.8 445.1,416.2 444.6,416.6 444.1,417 443.7,417.4 443.2,417.8 442.7,418.3 442.2,418.7 441.8,419.1 441.3,419.5 440.8,419.9 440.3,420.3 439.8,420.6 439.4,421 438.9,421.4 438.4,421.8 437.9,422.2 437.5,422.6 437,423 436.5,423.4 436,423.7 435.5,424.1 435.1,424.5 434.6,424.8 434.1,425.2 433.6,425.6 433.2,426 432.7,426.4 432.2,426.7 431.7,427.1 431.2,427.5 430.8,427.9 430.3,428.3 429.8,428.7 429.3,429 428.9,429.4 428.4,429.8 427.9,430.1 427.4,430.5 426.9,430.8 426.5,431.2 426,431.5 425.5,431.8 425,432.1 424.5,432.4 424.1,432.7 423.6,433 423.1,433.2 422.6,433.5 422.2,433.7 421.7,433.9 421.2,434.1 420.7,434.3 420.2,434.5 419.8,434.7 419.3,434.9 418.8,435.1 418.3,435.3 417.9,435.4 417.4,435.6 416.9,435.8 416.4,435.9 415.9,436.1 415.5,436.3 415,436.4 414.5,436.6 414,436.7 413.6,436.9 413.1,437 412.6,437.2 412.1,437.3 411.6,437.5 411.2,437.6 410.7,437.8 410.2,437.9 409.7,438.1 409.3,438.2 408.8,438.4 408.3,438.6 407.8,438.7 407.3,438.9 406.9,439.1 406.4,439.2 405.9,439.4 405.4,439.6 405,439.7 404.5,439.9 404,440.1 403.5,440.3 403,440.4 402.6,440.6 402.1,440.8 401.6,441 401.1,441.1 400.6,441.3 400.2,441.5 399.7,441.7 399.2,441.8 398.7,442 398.3,442.2 397.8,442.3 397.3,442.5 396.8,442.7 396.3,442.8 395.9,443 395.4,443.2 394.9,443.3 394.4,443.5 394,443.6 393.5,443.8 393,443.9 392.5,444.1 392,444.2 391.6,444.3 391.1,444.5 390.6,444.6 390.1,444.7 389.7,444.9 389.2,445 388.7,445.1 388.2,445.2 387.7,445.3 387.3,445.4 386.8,445.5 386.3,445.6 385.8,445.7 385.4,445.8 384.9,445.9 384.4,446 383.9,446 383.4,446.1 383,446.2 382.5,446.3 382,446.4 381.5,446.5 381.1,446.5 380.6,446.6 380.1,446.7 379.6,446.8 379.1,446.9 378.7,446.9 378.2,447 377.7,447.1 377.2,447.2 376.7,447.2 376.3,447.3 375.8,447.4 375.3,447.4 374.8,447.5 374.4,447.6 373.9,447.6 373.4,447.7 372.9,447.7 372.4,447.8 372,447.9 371.5,447.9 371,448 370.5,448 370.1,448.1 369.6,448.1 369.1,448.1 368.6,448.2 368.1,448.2 367.7,448.3 367.2,448.3 366.7,448.3 366.2,448.3 365.8,448.4 365.3,448.4 364.8,448.4" fill="#bddf26" fill-opacity="0.2"/>
<polygon points="364.8,419.2 365.3,419.2 365.8,419.2 366.2,419.1 366.7,419.1 367.2,419 367.7,419 368.1,418.9 368.6,418.9 369.1,418.8 369.6,418.8 370.1,418.7 370.5,418.6 371,418.5 371.5,418.5 372,418.4 372.4,418.3 372.9,418.2 373.4,418.2 373.9,418.1 374.4,418 374.8,417.9 375.3,417.8 375.8,417.7 376.3,417.6 376.7,417.6 377.2,417.5 377.7,417.4 378.2,417.2 378.7,417.1 379.1,417 379.6,416.9 380.1,416.7 380.6,416.6 381.1,416.5 381.5,416.3 382,416.2 382.5,416 383,415.9 383.4,415.7 383.9,415.6 384.4,415.4 384.9,415.3 385.4,415.1 385.8,414.9 386.3,414.8 386.8,414.6 387.3,414.5 387.7,414.3 388.2,414.1 388.7,414 389.2,413.8 389.7,413.7 390.1,413.5 390.6,413.4 391.1,413.3 391.6,413.1 392,413 392.5,412.8 393,412.6 393.5,412.5 394,412.3 394.4,412.1 394.9,411.9 395.4,411.7 395.9,411.5 396.3,411.3 396.8,411.1 397.3,410.8 397.8,410.5 398.3,410.3 398.7,410 399.2,409.6 399.7,409.3 400.2,409 400.6,408.7 401.1,408.3 401.6,408 402.1,407.7 402.6,407.3 403,407 403.5,406.7 404,406.4 404.5,406 405,405.7 405.4,405.3 405.9,405 406.4,404.7 406.9,404.3 407.3,403.9 407.8,403.6 408.3,403.2 408.8,402.9 409.3,402.5 409.7,402.1 410.2,401.8 410.7,401.4 411.2,401.1 411.6,400.8 412.1,400.4 412.6,400.1 413.1,399.7 413.6,399.2 414,398.7 414.5,398.1 415,397.3 415.5,396.4 415.9,395.1 416.4,393.7 416.9,391.8 417.4,389.1 417.9,386.4 418.3,386.4 418.8,386.4 419.3,386.4 419.8,386.4 420.2,386.4 420.7,386.4 421.2,386.4 421.7,386.4 422.2,386.4 422.6,386.4 423.1,386.4 423.6,386.4 424.1,386.4 424.5,386.4 425,386.4 425.5,386.4 426,386.4 426.5,386.4 426.9,386.4 427.4,386.4 427.9,386.4 428.4,386.4 428.9,386.4 429.3,386.4 429.8,386.4 430.3,386.4 430.8,386.4 431.2,386.4 431.7,386.4 432.2,386.4 432.7,386.4 433.2,386.4 433.6,386.4 434.1,386.4 434.6,386.4 435.1,386.4 435.5,386.4 436,386.4 436.5,386.4 437,386.4 437.5,386.4 437.9,386.4 438.4,386.4 438.9,386.4 439.4,386.4 439.8,386.4 440.3,386.4 440.8,386.4 441.3,386.4 441.8,386.4 442.2,386.4 442.7,386.4 443.2,386.4 443.7,386.4 444.1,386.4 444.6,386.4 445.1,386.4 445.6,386.4 446.1,386.4 446.5,386.4 447,386.4 447.5,386.4 448,386.4 448.4,386.4 448.9,386.4 449.4,386.4 449.9,386.4 450.4,386.4 450.8,386.4 451.3,386.4 451.8,386.4 452.3,386.4 452.8,386.4 453.2,386.4 453.7,386.4 454.2,386.4 454.7,386.4 455.1,386.4 455.6,386.4 456.1,386.4 456.6,386.4 457.1,386.4 457.5,386.4 458,386.4 458.5,386.4 459,386.4 459.4,386.4 459.9,386.4 460.4,386.4 460.9,386.4 461.4,386.4 461.8,386.4 462.3,386.4 462.8,386.4 463.3,386.4 463.7,386.4 464.2,386.4 464.7,386.4 465.2,386.4 465.7,386.4 466.1,386.4 466.6,386.4 467.1,386.4 467.6,386.4 468,386.4 468.5,386.4 469,386.4 469.5,386.4 470,386.4 470.4,386.4 470.9,386.4 471.4,386.4 471.9,386.4 472.3,386.4 472.8,386.4 473.3,386.4 473.8,386.4 474.3,386.4 474.7,386.4 475.2,386.4 475.7,386.4 476.2,386.4 476.7,386.4 477.1,386.4 477.6,386.4 478.1,386.4 478.6,386.4 479,386.4 479.5,386.4 480,386.4 480.5,386.4 481,386.4 481.4,386.4 481.9,386.4 482.4,386.4 482.9,386.4 483.3,386.4 483.8,386.4 484.3,386.4 484.8,386.4 485.3,386.4 485.7,386.4 486.2,386.4 486.7,386.4 487.2,386.4 487.6,386.4 488.1,386.4 488.6,386.4 488.6,386.4 488.1,386.4 487.6,386.4 487.2,386.4 486.7,386.4 486.2,386.4 485.7,386.4 485.3,386.4 484.8,386.4 484.3,386.4 483.8,386.4 483.3,386.4 482.9,386.4 482.4,386.4 481.9,386.4 481.4,386.4 481,386.4 480.5,386.4 480,386.4 479.5,386.4 479,386.4 478.6,386.4 478.1,386.4 477.6,386.4 477.1,386.4 476.7,386.4 476.2,386.4 475.7,386.4 475.2,386.4 474.7,386.4 474.3,386.4 473.8,386.4 473.3,386.4 472.8,386.4 472.3,386.4 471.9,386.4 471.4,386.4 470.9,386.4 470.4,386.4 470,386.4 469.5,386.4 469,386.4 468.5,386.4 468,386.4 467.6,386.4 467.1,386.4 466.6,386.4 466.1,386.4 465.7,386.4 465.2,386.4 464.7,386.4 464.2,386.4 463.7,386.4 463.3,386.4 462.8,386.4 462.3,386.4 461.8,386.4 461.4,386.4 460.9,386.4 460.4,389.3 459.9,392.1 459.4,394.5 459,396.3 458.5,397.9 458,399.4 457.5,400.7 457.1,402 456.6,403 456.1,404 455.6,404.8 455.1,405.4 454.7,406.1 454.2,406.6 453.7,407.2 453.2,407.7 452.8,408.2 452.3,408.6 451.8,409 451.3,409.4 450.8,409.8 450.4,410.2 449.9,410.5 449.4,410.9 448.9,411.2 448.4,411.6 448,411.9 447.5,412.3 447,412.7 446.5,413.1 446.1,413.5 445.6,413.9 445.1,414.3 444.6,414.7 444.1,415.1 443.7,415.5 443.2,415.8 442.7,416.2 442.2,416.6 441.8,417 441.3,417.4 440.8,417.8 440.3,418.1 439.8,418.5 439.4,418.9 438.9,419.3 438.4,419.6 437.9,420 437.5,420.4 437,420.7 436.5,421.1 436,421.4 435.5,421.8 435.1,422.1 434.6,422.5 434.1,422.8 433.6,423.2 433.2,423.6 432.7,423.9 432.2,424.3 431.7,424.6 431.2,425 430.8,425.3 430.3,425.7 429.8,426.1 429.3,426.4 428.9,426.8 428.4,427.1 427.9,427.5 427.4,427.8 426.9,428.2 426.5,428.5 426,428.8 425.5,429.1 425,429.4 424.5,429.7 424.1,430 423.6,430.3 423.1,430.6 422.6,430.8 422.2,431.1 421.7,431.3 421.2,431.6 420.7,431.8 420.2,432 419.8,432.2 419.3,432.4 418.8,432.6 418.3,432.8 417.9,433 417.4,433.2 416.9,433.4 416.4,433.5 415.9,433.7 415.5,433.9 415,434.1 414.5,434.2 414,434.4 413.6,434.5 413.1,434.7 412.6,434.9 412.1,435 411.6,435.2 411.2,435.3 410.7,435.5 410.2,435.7 409.7,435.8 409.3,436 408.8,436.1 408.3,436.3 407.8,436.5 407.3,436.6 406.9,436.8 406.4,437 405.9,437.1 405.4,437.3 405,437.5 404.5,437.7 404,437.8 403.5,438 403,438.2 402.6,438.3 402.1,438.5 401.6,438.7 401.1,438.9 400.6,439 400.2,439.2 399.7,439.4 399.2,439.5 398.7,439.7 398.3,439.9 397.8,440 397.3,440.2 396.8,440.4 396.3,440.5 395.9,440.7 395.4,440.8 394.9,441 394.4,441.2 394,441.3 393.5,441.5 393,441.6 392.5,441.8 392,441.9 391.6,442 391.1,442.2 390.6,442.3 390.1,442.4 389.7,442.6 389.2,442.7 388.7,442.8 388.2,442.9 387.7,443 387.3,443.1 386.8,443.3 386.3,443.4 385.8,443.4 385.4,443.5 384.9,443.6 384.4,443.7 383.9,443.8 383.4,443.9 383,444 382.5,444.1 382,444.2 381.5,444.3 381.1,444.4 380.6,444.5 380.1,444.6 379.6,444.6 379.1,444.7 378.7,444.8 378.2,444.9 377.7,445 377.2,445.1 376.7,445.1 376.3,445.2 375.8,445.3 375.3,445.4 374.8,445.4 374.4,445.5 373.9,445.6 373.4,445.7 372.9,445.7 372.4,445.8 372,445.9 371.5,445.9 371,446 370.5,446 370.1,446.1 369.6,446.2 369.1,446.2 368.6,446.3 368.1,446.3 367.7,446.4 367.2,446.4 366.7,446.4 366.2,446.5 365.8,446.5 365.3,446.6 364.8,446.6" fill="#4ec36b" fill-opacity="0.2"/>
<polygon points="364.8,417.4 365.3,417.4 365.8,417.3 366.2,417.3 366.7,417.2 367.2,417.2 367.7,417.1 368.1,417 368.6,417 369.1,416.9 369.6,416.8 370.1,416.8 370.5,416.7 371,416.6 371.5,416.5 372,416.5 372.4,416.4 372.9,416.3 373.4,416.2 373.9,416.1 374.4,416 374.8,415.9 375.3,415.8 375.8,415.7 376.3,415.6 376.7,415.5 377.2,415.4 377.7,415.3 378.2,415.2 378.7,415.1 379.1,415 379.6,414.9 380.1,414.7 380.6,414.6 381.1,414.4 381.5,414.3 382,414.2 382.5,414 383,413.9 383.4,413.7 383.9,413.6 384.4,413.4 384.9,413.3 385.4,413.1 385.8,413 386.3,412.8 386.8,412.6 387.3,412.5 387.7,412.3 388.2,412.2 388.7,412 389.2,411.9 389.7,411.7 390.1,411.6 390.6,411.4 391.1,411.3 391.6,411.1 392,411 392.5,410.8 393,410.6 393.5,410.4 394,410.2 394.4,410.1 394.9,409.8 395.4,409.6 395.9,409.4 396.3,409.2 396.8,408.9 397.3,408.6 397.8,408.4 398.3,408.1 398.7,407.8 399.2,407.5 399.7,407.2 400.2,406.9 400.6,406.6 401.1,406.3 401.6,406 402.1,405.7 402.6,405.4 403,405.1 403.5,404.8 404,404.4 404.5,404.1 405,403.8 405.4,403.5 405.9,403.2 406.4,402.8 406.9,402.5 407.3,402.2 407.8,401.8 408.3,401.5 408.8,401.1 409.3,400.8 409.7,400.4 410.2,400.1 410.7,399.8 411.2,399.4 411.6,399 412.1,398.5 412.6,398 413.1,397.4 413.6,396.7 414,395.8 414.5,394.7 415,393.4 415.5,391.7 415.9,389.1 416.4,386.4 416.9,386.4 417.4,386.4 417.9,386.4 418.3,386.4 418.8,386.4 419.3,386.4 419.8,386.4 420.2,386.4 420.7,386.4 421.2,386.4 421.7,386.4 422.2,386.4 422.6,386.4 423.1,386.4 423.6,386.4 424.1,386.4 424.5,386.4 425,386.4 425.5,386.4 426,386.4 426.5,386.4 426.9,386.4 427.4,386.4 427.9,386.4 428.4,386.4 428.9,386.4 429.3,386.4 429.8,386.4 430.3,386.4 430.8,386.4 431.2,386.4 431.7,386.4 432.2,386.4 432.7,386.4 433.2,386.4 433.6,386.4 434.1,386.4 434.6,386.4 435.1,386.4 435.5,386.4 436,386.4 436.5,386.4 437,386.4 437.5,386.4 437.9,386.4 438.4,386.4 438.9,386.4 439.4,386.4 439.8,386.4 440.3,386.4 440.8,386.4 441.3,386.4 441.8,386.4 442.2,386.4 442.7,386.4 443.2,386.4 443.7,386.4 444.1,386.4 444.6,386.4 445.1,386.4 445.6,386.4 446.1,386.4 446.5,386.4 447,386.4 447.5,386.4 448,386.4 448.4,386.4 448.9,386.4 449.4,386.4 449.9,386.4 450.4,386.4 450.8,386.4 451.3,386.4 451.8,386.4 452.3,386.4 452.8,386.4 453.2,386.4 453.7,386.4 454.2,386.4 454.7,386.4 455.1,386.4 455.6,386.4 456.1,386.4 456.6,386.4 457.1,386.4 457.5,386.4 458,386.4 458.5,386.4 459,386.4 459.4,386.4 459.9,386.4 460.4,386.4 460.9,386.4 461.4,386.4 461.8,386.4 462.3,386.4 462.8,386.4 463.3,386.4 463.7,386.4 464.2,386.4 464.7,386.4 465.2,386.4 465.7,386.4 466.1,386.4 466.6,386.4 467.1,386.4 467.6,386.4 468,386.4 468.5,386.4 469,386.4 469.5,386.4 470,386.4 470.4,386.4 470.9,386.4 471.4,386.4 471.9,386.4 472.3,386.4 472.8,386.4 473.3,386.4 473.8,386.4 474.3,386.4 474.7,386.4 475.2,386.4 475.7,386.4 476.2,386.4 476.7,386.4 477.1,386.4 477.6,386.4 478.1,386.4 478.6,386.4 479,386.4 479.5,386.4 480,386.4 480.5,386.4 481,386.4 481.4,386.4 481.9,386.4 482.4,386.4 482.9,386.4 483.3,386.4 483.8,386.4 484.3,386.4 484.8,386.4 485.3,386.4 485.7,386.4 486.2,386.4 486.7,386.4 487.2,386.4 487.6,386.4 488.1,386.4 488.6,386.4 488.6,386.4 488.1,386.4 487.6,386.4 487.2,386.4 486.7,386.4 486.2,386.4 485.7,386.4 485.3,386.4 484.8,386.4 484.3,386.4 483.8,386.4 483.3,386.4 482.9,386.4 482.4,386.4 481.9,386.4 481.4,386.4 481,386.4 480.5,386.4 480,386.4 479.5,386.4 479,386.4 478.6,386.4 478.1,386.4 477.6,386.4 477.1,386.4 476.7,386.4 476.2,386.4 475.7,386.4 475.2,386.4 474.7,386.4 474.3,386.4 473.8,386.4 473.3,386.4 472.8,386.4 472.3,386.4 471.9,386.4 471.4,386.4 470.9,386.4 470.4,386.4 470,386.4 469.5,386.4 469,386.4 468.5,386.4 468,386.4 467.6,386.4 467.1,386.4 466.6,386.4 466.1,386.4 465.7,386.4 465.2,386.4 464.7,386.4 464.2,386.4 463.7,386.4 463.3,386.4 462.8,386.4 462.3,386.4 461.8,386.4 461.4,386.4 460.9,386.4 460.4,386.4 459.9,386.4 459.4,386.4 459,389.3 458.5,392 458,394.2 457.5,395.9 457.1,397.4 456.6,398.8 456.1,400.1 455.6,401.2 455.1,402.2 454.7,403.1 454.2,403.9 453.7,404.6 453.2,405.2 452.8,405.8 452.3,406.3 451.8,406.8 451.3,407.3 450.8,407.8 450.4,408.2 449.9,408.6 449.4,409 448.9,409.4 448.4,409.8 448,410.1 447.5,410.5 447,410.9 446.5,411.2 446.1,411.6 445.6,412 445.1,412.4 444.6,412.8 444.1,413.2 443.7,413.6 443.2,413.9 442.7,414.3 442.2,414.7 441.8,415 441.3,415.4 440.8,415.8 440.3,416.1 439.8,416.5 439.4,416.8 438.9,417.2 438.4,417.5 437.9,417.9 437.5,418.2 437,418.6 436.5,418.9 436,419.3 435.5,419.6 435.1,419.9 434.6,420.3 434.1,420.6 433.6,420.9 433.2,421.3 432.7,421.6 432.2,421.9 431.7,422.3 431.2,422.6 430.8,422.9 430.3,423.3 429.8,423.6 429.3,423.9 428.9,424.3 428.4,424.6 427.9,424.9 427.4,425.3 426.9,425.6 426.5,425.9 426,426.2 425.5,426.5 425,426.8 424.5,427.1 424.1,427.4 423.6,427.7 423.1,428 422.6,428.3 422.2,428.5 421.7,428.8 421.2,429 420.7,429.3 420.2,429.5 419.8,429.7 419.3,429.9 418.8,430.1 418.3,430.4 417.9,430.6 417.4,430.8 416.9,431 416.4,431.1 415.9,431.3 415.5,431.5 415,431.7 414.5,431.9 414,432.1 413.6,432.2 413.1,432.4 412.6,432.6 412.1,432.7 411.6,432.9 411.2,433.1 410.7,433.2 410.2,433.4 409.7,433.6 409.3,433.7 408.8,433.9 408.3,434.1 407.8,434.2 407.3,434.4 406.9,434.6 406.4,434.7 405.9,434.9 405.4,435.1 405,435.3 404.5,435.4 404,435.6 403.5,435.8 403,435.9 402.6,436.1 402.1,436.3 401.6,436.4 401.1,436.6 400.6,436.8 400.2,436.9 399.7,437.1 399.2,437.3 398.7,437.4 398.3,437.6 397.8,437.8 397.3,437.9 396.8,438.1 396.3,438.3 395.9,438.4 395.4,438.6 394.9,438.7 394.4,438.9 394,439 393.5,439.2 393,439.3 392.5,439.5 392,439.6 391.6,439.8 391.1,439.9 390.6,440 390.1,440.2 389.7,440.3 389.2,440.4 388.7,440.5 388.2,440.7 387.7,440.8 387.3,440.9 386.8,441 386.3,441.1 385.8,441.2 385.4,441.3 384.9,441.4 384.4,441.5 383.9,441.6 383.4,441.7 383,441.8 382.5,441.9 382,442 381.5,442.1 381.1,442.2 380.6,442.3 380.1,442.4 379.6,442.5 379.1,442.6 378.7,442.7 378.2,442.8 377.7,442.9 377.2,443 376.7,443.1 376.3,443.1 375.8,443.2 375.3,443.3 374.8,443.4 374.4,443.5 373.9,443.6 373.4,443.6 372.9,443.7 372.4,443.8 372,443.9 371.5,443.9 371,444 370.5,444.1 370.1,444.1 369.6,444.2 369.1,444.3 368.6,444.3 368.1,444.4 367.7,444.5 367.2,444.5 366.7,444.6 366.2,444.6 365.8,444.7 365.3,444.7 364.8,444.8" fill="#1f9a8a" fill-opacity="0.2"/>
<polygon points="364.8,415.6 365.3,415.5 365.8,415.5 366.2,415.4 366.7,415.4 367.2,415.3 367.7,415.2 368.1,415.2 368.6,415.1 369.1,415 369.6,414.9 370.1,414.9 370.5,414.8 371,414.7 371.5,414.6 372,414.5 372.4,414.4 372.9,414.3 373.4,414.2 373.9,414.2 374.4,414.1 374.8,414 375.3,413.9 375.8,413.8 376.3,413.7 376.7,413.6 377.2,413.5 377.7,413.3 378.2,413.2 378.7,413.1 379.1,413 379.6,412.9 380.1,412.7 380.6,412.6 381.1,412.5 381.5,412.3 382,412.2 382.5,412 383,411.9 383.4,411.8 383.9,411.6 384.4,411.5 384.9,411.3 385.4,411.2 385.8,411 386.3,410.9 386.8,410.7 387.3,410.6 387.7,410.4 388.2,410.2 388.7,410.1 389.2,409.9 389.7,409.8 390.1,409.6 390.6,409.5 391.1,409.3 391.6,409.1 392,409 392.5,408.8 393,408.6 393.5,408.4 394,408.2 394.4,408 394.9,407.8 395.4,407.6 395.9,407.3 396.3,407.1 396.8,406.8 397.3,406.5 397.8,406.3 398.3,406 398.7,405.7 399.2,405.5 399.7,405.2 400.2,404.9 400.6,404.6 401.1,404.3 401.6,404.1 402.1,403.8 402.6,403.5 403,403.2 403.5,402.9 404,402.6 404.5,402.4 405,402 405.4,401.7 405.9,401.4 406.4,401.1 406.9,400.8 407.3,400.4 407.8,400.1 408.3,399.8 408.8,399.4 409.3,399.1 409.7,398.7 410.2,398.3 410.7,397.9 411.2,397.4 411.6,396.8 412.1,396.1 412.6,395.3 413.1,394.3 413.6,393.1 414,391.5 414.5,389.2 415,386.4 415.5,386.4 415.9,386.4 416.4,386.4 416.9,386.4 417.4,386.4 417.9,386.4 418.3,386.4 418.8,386.4 419.3,386.4 419.8,386.4 420.2,386.4 420.7,386.4 421.2,386.4 421.7,386.4 422.2,386.4 422.6,386.4 423.1,386.4 423.6,386.4 424.1,386.4 424.5,386.4 425,386.4 425.5,386.4 426,386.4 426.5,386.4 426.9,386.4 427.4,386.4 427.9,386.4 428.4,386.4 428.9,386.4 429.3,386.4 429.8,386.4 430.3,386.4 430.8,386.4 431.2,386.4 431.7,386.4 432.2,386.4 432.7,386.4 433.2,386.4 433.6,386.4 434.1,386.4 434.6,386.4 435.1,386.4 435.5,386.4 436,386.4 436.5,386.4 437,386.4 437.5,386.4 437.9,386.4 438.4,386.4 438.9,386.4 439.4,386.4 439.8,386.4 440.3,386.4 440.8,386.4 441.3,386.4 441.8,386.4 442.2,386.4 442.7,386.4 443.2,386.4 443.7,386.4 444.1,386.4 444.6,386.4 445.1,386.4 445.6,386.4 446.1,386.4 446.5,386.4 447,386.4 447.5,386.4 448,386.4 448.4,386.4 448.9,386.4 449.4,386.4 449.9,386.4 450.4,386.4 450.8,386.4 451.3,386.4 451.8,386.4 452.3,386.4 452.8,386.4 453.2,386.4 453.7,386.4 454.2,386.4 454.7,386.4 455.1,386.4 455.6,386.4 456.1,386.4 456.6,386.4 457.1,386.4 457.5,386.4 458,386.4 458.5,386.4 459,386.4 459.4,386.4 459.9,386.4 460.4,386.4 460.9,386.4 461.4,386.4 461.8,386.4 462.3,386.4 462.8,386.4 463.3,386.4 463.7,386.4 464.2,386.4 464.7,386.4 465.2,386.4 465.7,386.4 466.1,386.4 466.6,386.4 467.1,386.4 467.6,386.4 468,386.4 468.5,386.4 469,386.4 469.5,386.4 470,386.4 470.4,386.4 470.9,386.4 471.4,386.4 471.9,386.4 472.3,386.4 472.8,386.4 473.3,386.4 473.8,386.4 474.3,386.4 474.7,386.4 475.2,386.4 475.7,386.4 476.2,386.4 476.7,386.4 477.1,386.4 477.6,386.4 478.1,386.4 478.6,386.4 479,386.4 479.5,386.4 480,386.4 480.5,386.4 481,386.4 481.4,386.4 481.9,386.4 482.4,386.4 482.9,386.4 483.3,386.4 483.8,386.4 484.3,386.4 484.8,386.4 485.3,386.4 485.7,386.4 486.2,386.4 486.7,386.4 487.2,386.4 487.6,386.4 488.1,386.4 488.6,386.4 488.6,386.4 488.1,386.4 487.6,386.4 487.2,386.4 486.7,386.4 486.2,386.4 485.7,386.4 485.3,386.4 484.8,386.4 484.3,386.4 483.8,386.4 483.3,386.4 482.9,386.4 482.4,386.4 481.9,386.4 481.4,386.4 481,386.4 480.5,386.4 480,386.4 479.5,386.4 479,386.4 478.6,386.4 478.1,386.4 477.6,386.4 477.1,386.4 476.7,386.4 476.2,386.4 475.7,386.4 475.2,386.4 474.7,386.4 474.3,386.4 473.8,386.4 473.3,386.4 472.8,386.4 472.3,386.4 471.9,386.4 471.4,386.4 470.9,386.4 470.4,386.4 470,386.4 469.5,386.4 469,386.4 468.5,386.4 468,386.4 467.6,386.4 467.1,386.4 466.6,386.4 466.1,386.4 465.7,386.4 465.2,386.4 464.7,386.4 464.2,386.4 463.7,386.4 463.3,386.4 462.8,386.4 462.3,386.4 461.8,386.4 461.4,386.4 460.9,386.4 460.4,386.4 459.9,386.4 459.4,386.4 459,386.4 458.5,386.4 458,386.4 457.5,389.2 457.1,391.8 456.6,393.9 456.1,395.5 455.6,397 455.1,398.3 454.7,399.5 454.2,400.5 453.7,401.5 453.2,402.3 452.8,403 452.3,403.7 451.8,404.4 451.3,404.9 450.8,405.5 450.4,406 449.9,406.5 449.4,407 448.9,407.4 448.4,407.9 448,408.3 447.5,408.7 447,409.1 446.5,409.4 446.1,409.8 445.6,410.2 445.1,410.6 444.6,411 444.1,411.3 443.7,411.7 443.2,412.1 442.7,412.5 442.2,412.8 441.8,413.2 441.3,413.5 440.8,413.9 440.3,414.2 439.8,414.6 439.4,414.9 438.9,415.2 438.4,415.6 437.9,415.9 437.5,416.2 437,416.6 436.5,416.9 436,417.2 435.5,417.5 435.1,417.8 434.6,418.2 434.1,418.5 433.6,418.8 433.2,419.1 432.7,419.4 432.2,419.7 431.7,420 431.2,420.3 430.8,420.6 430.3,421 429.8,421.3 429.3,421.6 428.9,421.9 428.4,422.2 427.9,422.5 427.4,422.8 426.9,423.1 426.5,423.4 426,423.7 425.5,424 425,424.3 424.5,424.6 424.1,424.9 423.6,425.2 423.1,425.5 422.6,425.7 422.2,426 421.7,426.3 421.2,426.5 420.7,426.8 420.2,427 419.8,427.2 419.3,427.5 418.8,427.7 418.3,427.9 417.9,428.1 417.4,428.3 416.9,428.6 416.4,428.8 415.9,429 415.5,429.2 415,429.4 414.5,429.5 414,429.7 413.6,429.9 413.1,430.1 412.6,430.3 412.1,430.5 411.6,430.6 411.2,430.8 410.7,431 410.2,431.2 409.7,431.3 409.3,431.5 408.8,431.7 408.3,431.9 407.8,432 407.3,432.2 406.9,432.4 406.4,432.5 405.9,432.7 405.4,432.9 405,433 404.5,433.2 404,433.4 403.5,433.6 403,433.7 402.6,433.9 402.1,434.1 401.6,434.2 401.1,434.4 400.6,434.6 400.2,434.7 399.7,434.9 399.2,435.1 398.7,435.2 398.3,435.4 397.8,435.5 397.3,435.7 396.8,435.9 396.3,436 395.9,436.2 395.4,436.3 394.9,436.5 394.4,436.6 394,436.8 393.5,436.9 393,437.1 392.5,437.2 392,437.4 391.6,437.5 391.1,437.6 390.6,437.8 390.1,437.9 389.7,438 389.2,438.2 388.7,438.3 388.2,438.4 387.7,438.5 387.3,438.7 386.8,438.8 386.3,438.9 385.8,439 385.4,439.1 384.9,439.2 384.4,439.4 383.9,439.5 383.4,439.6 383,439.7 382.5,439.8 382,439.9 381.5,440 381.1,440.1 380.6,440.2 380.1,440.3 379.6,440.4 379.1,440.5 378.7,440.6 378.2,440.7 377.7,440.8 377.2,440.9 376.7,441 376.3,441.1 375.8,441.2 375.3,441.3 374.8,441.4 374.4,441.5 373.9,441.5 373.4,441.6 372.9,441.7 372.4,441.8 372,441.9 371.5,442 371,442 370.5,442.1 370.1,442.2 369.6,442.3 369.1,442.4 368.6,442.4 368.1,442.5 367.7,442.6 367.2,442.6 366.7,442.7 366.2,442.8 365.8,442.8 365.3,442.9 364.8,442.9" fill="#2e6f8e" fill-opacity="0.2"/>
<polygon points="364.8,413.8 365.3,413.7 365.8,413.6 366.2,413.6 366.7,413.5 367.2,413.4 367.7,413.4 368.1,413.3 368.6,413.2 369.1,413.1 369.6,413 370.1,413 370.5,412.9 371,412.8 371.5,412.7 372,412.6 372.4,412.5 372.9,412.4 373.4,412.3 373.9,412.2 374.4,412.1 374.8,412 375.3,411.9 375.8,411.8 376.3,411.7 376.7,411.6 377.2,411.5 377.7,411.4 378.2,411.3 378.7,411.1 379.1,411 379.6,410.9 380.1,410.8 380.6,410.6 381.1,410.5 381.5,410.4 382,410.2 382.5,410.1 383,410 383.4,409.8 383.9,409.7 384.4,409.5 384.9,409.4 385.4,409.3 385.8,409.1 386.3,409 386.8,408.8 387.3,408.7 387.7,408.5 388.2,408.3 388.7,408.2 389.2,408 389.7,407.9 390.1,407.7 390.6,407.5 391.1,407.4 391.6,407.2 392,407 392.5,406.8 393,406.6 393.5,406.4 394,406.2 394.4,406 394.9,405.8 395.4,405.5 395.9,405.3 396.3,405.1 396.8,404.8 397.3,404.6 397.8,404.3 398.3,404.1 398.7,403.8 399.2,403.6 399.7,403.3 400.2,403.1 400.6,402.8 401.1,402.6 401.6,402.3 402.1,402 402.6,401.8 403,401.5 403.5,401.2 404,401 404.5,400.7 405,400.4 405.4,400.1 405.9,399.8 406.4,399.4 406.9,399.1 407.3,398.8 407.8,398.4 408.3,398.1 408.8,397.7 409.3,397.2 409.7,396.7 410.2,396.2 410.7,395.6 411.2,394.8 411.6,393.9 412.1,392.8 412.6,391.4 413.1,389.2 413.6,386.4 414,386.4 414.5,386.4 415,386.4 415.5,386.4 415.9,386.4 416.4,386.4 416.9,386.4 417.4,386.4 417.9,386.4 418.3,386.4 418.8,386.4 419.3,386.4 419.8,386.4 420.2,386.4 420.7,386.4 421.2,386.4 421.7,386.4 422.2,386.4 422.6,386.4 423.1,386.4 423.6,386.4 424.1,386.4 424.5,386.4 425,386.4 425.5,386.4 426,386.4 426.5,386.4 426.9,386.4 427.4,386.4 427.9,386.4 428.4,386.4 428.9,386.4 429.3,386.4 429.8,386.4 430.3,386.4 430.8,386.4 431.2,386.4 431.7,386.4 432.2,386.4 432.7,386.4 433.2,386.4 433.6,386.4 434.1,386.4 434.6,386.4 435.1,386.4 435.5,386.4 436,386.4 436.5,386.4 437,386.4 437.5,386.4 437.9,386.4 438.4,386.4 438.9,386.4 439.4,386.4 439.8,386.4 440.3,386.4 440.8,386.4 441.3,386.4 441.8,386.4 442.2,386.4 442.7,386.4 443.2,386.4 443.7,386.4 444.1,386.4 444.6,386.4 445.1,386.4 445.6,386.4 446.1,386.4 446.5,386.4 447,386.4 447.5,386.4 448,386.4 448.4,386.4 448.9,386.4 449.4,386.4 449.9,386.4 450.4,386.4 450.8,386.4 451.3,386.4 451.8,386.4 452.3,386.4 452.8,386.4 453.2,386.4 453.7,386.4 454.2,386.4 454.7,386.4 455.1,386.4 455.6,386.4 456.1,386.4 456.6,386.4 457.1,386.4 457.5,386.4 458,386.4 458.5,386.4 459,386.4 459.4,386.4 459.9,386.4 460.4,386.4 460.9,386.4 461.4,386.4 461.8,386.4 462.3,386.4 462.8,386.4 463.3,386.4 463.7,386.4 464.2,386.4 464.7,386.4 465.2,386.4 465.7,386.4 466.1,386.4 466.6,386.4 467.1,386.4 467.6,386.4 468,386.4 468.5,386.4 469,386.4 469.5,386.4 470,386.4 470.4,386.4 470.9,386.4 471.4,386.4 471.9,386.4 472.3,386.4 472.8,386.4 473.3,386.4 473.8,386.4 474.3,386.4 474.7,386.4 475.2,386.4 475.7,386.4 476.2,386.4 476.7,386.4 477.1,386.4 477.6,386.4 478.1,386.4 478.6,386.4 479,386.4 479.5,386.4 480,386.4 480.5,386.4 481,386.4 481.4,386.4 481.9,386.4 482.4,386.4 482.9,386.4 483.3,386.4 483.8,386.4 484.3,386.4 484.8,386.4 485.3,386.4 485.7,386.4 486.2,386.4 486.7,386.4 487.2,386.4 487.6,386.4 488.1,386.4 488.6,386.4 488.6,386.4 488.1,386.4 487.6,386.4 487.2,386.4 486.7,386.4 486.2,386.4 485.7,386.4 485.3,386.4 484.8,386.4 484.3,386.4 483.8,386.4 483.3,386.4 482.9,386.4 482.4,386.4 481.9,386.4 481.4,386.4 481,386.4 480.5,386.4 480,386.4 479.5,386.4 479,386.4 478.6,386.4 478.1,386.4 477.6,386.4 477.1,386.4 476.7,386.4 476.2,386.4 475.7,386.4 475.2,386.4 474.7,386.4 474.3,386.4 473.8,386.4 473.3,386.4 472.8,386.4 472.3,386.4 471.9,386.4 471.4,386.4 470.9,386.4 470.4,386.4 470,386.4 469.5,386.4 469,386.4 468.5,386.4 468,386.4 467.6,386.4 467.1,386.4 466.6,386.4 466.1,386.4 465.7,386.4 465.2,386.4 464.7,386.4 464.2,386.4 463.7,386.4 463.3,386.4 462.8,386.4 462.3,386.4 461.8,386.4 461.4,386.4 460.9,386.4 460.4,386.4 459.9,386.4 459.4,386.4 459,386.4 458.5,386.4 458,386.4 457.5,386.4 457.1,386.4 456.6,386.4 456.1,389.2 455.6,391.7 455.1,393.6 454.7,395.1 454.2,396.5 453.7,397.7 453.2,398.8 452.8,399.8 452.3,400.7 451.8,401.5 451.3,402.2 450.8,402.9 450.4,403.5 449.9,404.1 449.4,404.7 448.9,405.2 448.4,405.8 448,406.2 447.5,406.7 447,407.1 446.5,407.6 446.1,408 445.6,408.4 445.1,408.8 444.6,409.1 444.1,409.5 443.7,409.9 443.2,410.3 442.7,410.6 442.2,411 441.8,411.4 441.3,411.7 440.8,412.1 440.3,412.4 439.8,412.7 439.4,413.1 438.9,413.4 438.4,413.7 437.9,414 437.5,414.3 437,414.6 436.5,415 436,415.3 435.5,415.6 435.1,415.9 434.6,416.2 434.1,416.4 433.6,416.7 433.2,417 432.7,417.3 432.2,417.6 431.7,417.9 431.2,418.2 430.8,418.5 430.3,418.8 429.8,419.1 429.3,419.4 428.9,419.6 428.4,419.9 427.9,420.2 427.4,420.5 426.9,420.8 426.5,421.1 426,421.4 425.5,421.6 425,421.9 424.5,422.2 424.1,422.5 423.6,422.7 423.1,423 422.6,423.3 422.2,423.5 421.7,423.8 421.2,424.1 420.7,424.3 420.2,424.6 419.8,424.8 419.3,425 418.8,425.3 418.3,425.5 417.9,425.7 417.4,425.9 416.9,426.2 416.4,426.4 415.9,426.6 415.5,426.8 415,427 414.5,427.2 414,427.4 413.6,427.6 413.1,427.8 412.6,428 412.1,428.2 411.6,428.4 411.2,428.6 410.7,428.8 410.2,428.9 409.7,429.1 409.3,429.3 408.8,429.5 408.3,429.7 407.8,429.8 407.3,430 406.9,430.2 406.4,430.4 405.9,430.5 405.4,430.7 405,430.9 404.5,431 404,431.2 403.5,431.4 403,431.6 402.6,431.7 402.1,431.9 401.6,432.1 401.1,432.2 400.6,432.4 400.2,432.5 399.7,432.7 399.2,432.9 398.7,433 398.3,433.2 397.8,433.3 397.3,433.5 396.8,433.7 396.3,433.8 395.9,434 395.4,434.1 394.9,434.3 394.4,434.4 394,434.6 393.5,434.7 393,434.9 392.5,435 392,435.1 391.6,435.3 391.1,435.4 390.6,435.6 390.1,435.7 389.7,435.8 389.2,436 388.7,436.1 388.2,436.2 387.7,436.3 387.3,436.5 386.8,436.6 386.3,436.7 385.8,436.8 385.4,437 384.9,437.1 384.4,437.2 383.9,437.3 383.4,437.4 383,437.5 382.5,437.6 382,437.8 381.5,437.9 381.1,438 380.6,438.1 380.1,438.2 379.6,438.3 379.1,438.4 378.7,438.5 378.2,438.6 377.7,438.7 377.2,438.8 376.7,438.9 376.3,439 375.8,439.1 375.3,439.2 374.8,439.3 374.4,439.4 373.9,439.5 373.4,439.6 372.9,439.7 372.4,439.8 372,439.9 371.5,440 371,440.1 370.5,440.2 370.1,440.3 369.6,440.3 369.1,440.4 368.6,440.5 368.1,440.6 367.7,440.7 367.2,440.8 366.7,440.8 366.2,440.9 365.8,441 365.3,441 364.8,441.1" fill="#433e85" fill-opacity="0.2"/>
<polygon points="364.8,411.9 365.3,411.9 365.8,411.8 366.2,411.7 366.7,411.6 367.2,411.6 367.7,411.5 368.1,411.4 368.6,411.3 369.1,411.2 369.6,411.2 370.1,411.1 370.5,411 371,410.9 371.5,410.8 372,410.7 372.4,410.6 372.9,410.5 373.4,410.4 373.9,410.3 374.4,410.2 374.8,410.1 375.3,410 375.8,409.9 376.3,409.8 376.7,409.7 377.2,409.6 377.7,409.4 378.2,409.3 378.7,409.2 379.1,409.1 379.6,409 380.1,408.9 380.6,408.7 381.1,408.6 381.5,408.5 382,408.4 382.5,408.2 383,408.1 383.4,408 383.9,407.8 384.4,407.7 384.9,407.5 385.4,407.4 385.8,407.2 386.3,407.1 386.8,406.9 387.3,406.8 387.7,406.6 388.2,406.5 388.7,406.3 389.2,406.1 389.7,406 390.1,405.8 390.6,405.6 391.1,405.4 391.6,405.2 392,405.1 392.5,404.9 393,404.7 393.5,404.5 394,404.2 394.4,404 394.9,403.8 395.4,403.6 395.9,403.4 396.3,403.2 396.8,403 397.3,402.7 397.8,402.5 398.3,402.3 398.7,402 399.2,401.8 399.7,401.6 400.2,401.4 400.6,401.1 401.1,400.9 401.6,400.7 402.1,400.4 402.6,400.2 403,399.9 403.5,399.6 404,399.4 404.5,399.1 405,398.8 405.4,398.5 405.9,398.1 406.4,397.8 406.9,397.4 407.3,397 407.8,396.6 408.3,396.1 408.8,395.6 409.3,395 409.7,394.3 410.2,393.5 410.7,392.5 411.2,391.2 411.6,389.2 412.1,386.4 412.6,386.4 413.1,386.4 413.6,386.4 414,386.4 414.5,386.4 415,386.4 415.5,386.4 415.9,386.4 416.4,386.4 416.9,386.4 417.4,386.4 417.9,386.4 418.3,386.4 418.8,386.4 419.3,386.4 419.8,386.4 420.2,386.4 420.7,386.4 421.2,386.4 421.7,386.4 422.2,386.4 422.6,386.4 423.1,386.4 423.6,386.4 424.1,386.4 424.5,386.4 425,386.4 425.5,386.4 426,386.4 426.5,386.4 426.9,386.4 427.4,386.4 427.9,386.4 428.4,386.4 428.9,386.4 429.3,386.4 429.8,386.4 430.3,386.4 430.8,386.4 431.2,386.4 431.7,386.4 432.2,386.4 432.7,386.4 433.2,386.4 433.6,386.4 434.1,386.4 434.6,386.4 435.1,386.4 435.5,386.4 436,386.4 436.5,386.4 437,386.4 437.5,386.4 437.9,386.4 438.4,386.4 438.9,386.4 439.4,386.4 439.8,386.4 440.3,386.4 440.8,386.4 441.3,386.4 441.8,386.4 442.2,386.4 442.7,386.4 443.2,386.4 443.7,386.4 444.1,386.4 444.6,386.4 445.1,386.4 445.6,386.4 446.1,386.4 446.5,386.4 447,386.4 447.5,386.4 448,386.4 448.4,386.4 448.9,386.4 449.4,386.4 449.9,386.4 450.4,386.4 450.8,386.4 451.3,386.4 451.8,386.4 452.3,386.4 452.8,386.4 453.2,386.4 453.7,386.4 454.2,386.4 454.7,386.4 455.1,386.4 455.6,386.4 456.1,386.4 456.6,386.4 457.1,386.4 457.5,386.4 458,386.4 458.5,386.4 459,386.4 459.4,386.4 459.9,386.4 460.4,386.4 460.9,386.4 461.4,386.4 461.8,386.4 462.3,386.4 462.8,386.4 463.3,386.4 463.7,386.4 464.2,386.4 464.7,386.4 465.2,386.4 465.7,386.4 466.1,386.4 466.6,386.4 467.1,386.4 467.6,386.4 468,386.4 468.5,386.4 469,386.4 469.5,386.4 470,386.4 470.4,386.4 470.9,386.4 471.4,386.4 471.9,386.4 472.3,386.4 472.8,386.4 473.3,386.4 473.8,386.4 474.3,386.4 474.7,386.4 475.2,386.4 475.7,386.4 476.2,386.4 476.7,386.4 477.1,386.4 477.6,386.4 478.1,386.4 478.6,386.4 479,386.4 479.5,386.4 480,386.4 480.5,386.4 481,386.4 481.4,386.4 481.9,386.4 482.4,386.4 482.9,386.4 483.3,386.4 483.8,386.4 484.3,386.4 484.8,386.4 485.3,386.4 485.7,386.4 486.2,386.4 486.7,386.4 487.2,386.4 487.6,386.4 488.1,386.4 488.6,386.4 488.6,386.4 488.1,386.4 487.6,386.4 487.2,386.4 486.7,386.4 486.2,386.4 485.7,386.4 485.3,386.4 484.8,386.4 484.3,386.4 483.8,386.4 483.3,386.4 482.9,386.4 482.4,386.4 481.9,386.4 481.4,386.4 481,386.4 480.5,386.4 480,386.4 479.5,386.4 479,386.4 478.6,386.4 478.1,386.4 477.6,386.4 477.1,386.4 476.7,386.4 476.2,386.4 475.7,386.4 475.2,386.4 474.7,386.4 474.3,386.4 473.8,386.4 473.3,386.4 472.8,386.4 472.3,386.4 471.9,386.4 471.4,386.4 470.9,386.4 470.4,386.4 470,386.4 469.5,386.4 469,386.4 468.5,386.4 468,386.4 467.6,386.4 467.1,386.4 466.6,386.4 466.1,386.4 465.7,386.4 465.2,386.4 464.7,386.4 464.2,386.4 463.7,386.4 463.3,386.4 462.8,386.4 462.3,386.4 461.8,386.4 461.4,386.4 460.9,386.4 460.4,386.4 459.9,386.4 459.4,386.4 459,386.4 458.5,386.4 458,386.4 457.5,386.4 457.1,386.4 456.6,386.4 456.1,386.4 455.6,386.4 455.1,386.5 454.7,389.1 454.2,391.5 453.7,393.3 453.2,394.7 452.8,396 452.3,397.2 451.8,398.2 451.3,399.1 450.8,400 450.4,400.7 449.9,401.5 449.4,402.1 448.9,402.8 448.4,403.4 448,403.9 447.5,404.5 447,405 446.5,405.5 446.1,406 445.6,406.4 445.1,406.9 444.6,407.3 444.1,407.7 443.7,408.1 443.2,408.5 442.7,408.9 442.2,409.2 441.8,409.6 441.3,410 440.8,410.3 440.3,410.6 439.8,411 439.4,411.3 438.9,411.6 438.4,411.9 437.9,412.2 437.5,412.5 437,412.8 436.5,413.1 436,413.4 435.5,413.7 435.1,414 434.6,414.3 434.1,414.5 433.6,414.8 433.2,415.1 432.7,415.4 432.2,415.6 431.7,415.9 431.2,416.2 430.8,416.4 430.3,416.7 429.8,417 429.3,417.2 428.9,417.5 428.4,417.8 427.9,418 427.4,418.3 426.9,418.6 426.5,418.8 426,419.1 425.5,419.4 425,419.6 424.5,419.9 424.1,420.1 423.6,420.4 423.1,420.7 422.6,420.9 422.2,421.2 421.7,421.4 421.2,421.7 420.7,421.9 420.2,422.2 419.8,422.4 419.3,422.6 418.8,422.9 418.3,423.1 417.9,423.3 417.4,423.6 416.9,423.8 416.4,424 415.9,424.3 415.5,424.5 415,424.7 414.5,424.9 414,425.1 413.6,425.3 413.1,425.5 412.6,425.7 412.1,425.9 411.6,426.1 411.2,426.3 410.7,426.5 410.2,426.7 409.7,426.9 409.3,427.1 408.8,427.3 408.3,427.5 407.8,427.7 407.3,427.8 406.9,428 406.4,428.2 405.9,428.4 405.4,428.6 405,428.7 404.5,428.9 404,429.1 403.5,429.2 403,429.4 402.6,429.6 402.1,429.7 401.6,429.9 401.1,430.1 400.6,430.2 400.2,430.4 399.7,430.6 399.2,430.7 398.7,430.9 398.3,431 397.8,431.2 397.3,431.3 396.8,431.5 396.3,431.6 395.9,431.8 395.4,431.9 394.9,432.1 394.4,432.2 394,432.4 393.5,432.5 393,432.7 392.5,432.8 392,433 391.6,433.1 391.1,433.2 390.6,433.4 390.1,433.5 389.7,433.6 389.2,433.8 388.7,433.9 388.2,434 387.7,434.2 387.3,434.3 386.8,434.4 386.3,434.5 385.8,434.7 385.4,434.8 384.9,434.9 384.4,435 383.9,435.2 383.4,435.3 383,435.4 382.5,435.5 382,435.6 381.5,435.8 381.1,435.9 380.6,436 380.1,436.1 379.6,436.2 379.1,436.3 378.7,436.5 378.2,436.6 377.7,436.7 377.2,436.8 376.7,436.9 376.3,437 375.8,437.1 375.3,437.2 374.8,437.3 374.4,437.4 373.9,437.5 373.4,437.6 372.9,437.7 372.4,437.8 372,437.9 371.5,438 371,438.1 370.5,438.2 370.1,438.3 369.6,438.4 369.1,438.5 368.6,438.6 368.1,438.7 367.7,438.8 367.2,438.9 366.7,439 366.2,439 365.8,439.1 365.3,439.2 364.8,439.3" fill="#440154" fill-opacity="0.2"/>
<polyline points="364.8,434.5 365.7,434.6 366.5,434.4 367.4,434.5 368.2,433.7 369.1,434.3 369.9,434.2 370.8,434.5 371.6,433.8 372.5,434.2 373.4,433.7 374.2,432.9 375.1,433.1 375.9,432.9 376.8,432.9 377.6,432.9 378.5,432.8 379.3,432.8 380.2,432.1 381.1,432.9 381.9,431.4 382.8,432 383.6,432.2 384.5,431.8 385.3,431.7 386.2,431 387,431.3 387.9,430 388.7,430.8 389.6,431.3 390.5,430.2 391.3,430.5 392.2,429.2 393,428.3 393.9,428.2 394.7,429 395.6,428.4 396.4,426.7 397.3,427.2 398.2,427.1 399,426.2 399.9,425.2 400.7,425.5 401.6,425.9 402.4,425.5 403.3,425.1 404.1,425.5 405,425.5 405.9,424.6 406.7,424.8 407.6,424 408.4,423.6 409.3,422 410.1,423.3 411,422.5 411.8,422 412.7,421.2 413.6,420.3 414.4,420.5 415.3,420 416.1,419.8 417,418.7 417.8,417.3 418.7,416.9 419.5,416.8 420.4,415.8 421.3,414.9 422.1,414 423,413.9 423.8,413 424.7,413.2 425.5,412.1 426.4,409.9 427.2,411.3 428.1,409.6 429,408.5 429.8,408.1 430.7,407.7 431.5,406.7 432.4,406.1 433.2,405.5 434.1,405.8 434.9,404.1 435.8,403.6 436.6,402.4 437.5,400.5 438.4,398.2 439.2,395.4 440.1,392.7 440.9,386.7 440.9,386.4 488.6,386.4" fill="none" stroke="#bddf26" stroke-width="1.8" stroke-linejoin="round"/>
<polyline points="364.8,431.8 365.6,432.6 366.5,432.5 367.3,431.9 368.2,433 369,432 369.8,432.3 370.7,432.1 371.5,432.8 372.4,432.2 373.2,431.6 374,431 374.9,430.8 375.7,431.2 376.6,431.1 377.4,431.3 378.2,430.5 379.1,430.7 379.9,430.1 380.7,429.3 381.6,430.1 382.4,430.7 383.3,430.2 384.1,430.3 384.9,429.9 385.8,428.4 386.6,428.7 387.5,429.4 388.3,427.9 389.1,427.4 390,427.9 390.8,427.8 391.7,427.4 392.5,426.7 393.3,426.3 394.2,425.7 395,425.4 395.9,425.1 396.7,424.7 397.5,424.8 398.4,425.7 399.2,424.7 400.1,424.1 400.9,424.2 401.7,423.3 402.6,423.7 403.4,423.7 404.3,422.2 405.1,422.3 405.9,422.2 406.8,421.5 407.6,421.1 408.4,421.1 409.3,422.2 410.1,420.8 411,420.3 411.8,420 412.6,418.9 413.5,417.8 414.3,418.1 415.2,417.8 416,415.5 416.8,416.2 417.7,416 418.5,414.6 419.4,413.9 420.2,413.9 421,412.5 421.9,412.6 422.7,412.2 423.6,411 424.4,410 425.2,410.1 426.1,408.9 426.9,408.5 427.8,406.3 428.6,407.5 429.4,405.7 430.3,405.9 431.1,405.3 431.9,404.2 432.8,403.5 433.6,402.5 434.5,402.1 435.3,401.5 436.1,400.1 437,397.5 437.8,395 438.7,391.4 439.5,387 439.5,386.4 488.6,386.4" fill="none" stroke="#4ec36b" stroke-width="1.8" stroke-linejoin="round"/>
<polyline points="364.8,430.6 365.6,431.4 366.4,431.2 367.3,431.2 368.1,429.5 368.9,430.7 369.7,429.5 370.6,429.7 371.4,429 372.2,429.2 373,429.7 373.9,429.6 374.7,429.3 375.5,429.1 376.3,429.3 377.2,428.9 378,427.8 378.8,429.4 379.6,428.2 380.4,428.7 381.3,427.9 382.1,427.4 382.9,427.7 383.7,427 384.6,428.1 385.4,426.4 386.2,427.1 387,426.2 387.9,426.2 388.7,427.4 389.5,426.2 390.3,425.4 391.1,424.4 392,424.8 392.8,424.5 393.6,425.1 394.4,423.3 395.3,422.9 396.1,423.5 396.9,423.4 397.7,423.8 398.6,422.2 399.4,421 400.2,421.8 401,421.2 401.9,421.3 402.7,421.8 403.5,420.3 404.3,421.4 405.1,420.5 406,419.9 406.8,419.3 407.6,419.1 408.4,418.8 409.3,419 410.1,418.8 410.9,417.6 411.7,417.5 412.6,417.3 413.4,416.8 414.2,415.8 415,416 415.8,415.2 416.7,414.8 417.5,413.2 418.3,412.6 419.1,411.2 420,412.5 420.8,411.5 421.6,410 422.4,410.1 423.3,409.5 424.1,407.9 424.9,408.3 425.7,408.1 426.6,407.6 427.4,406.1 428.2,405.5 429,405.7 429.8,404.9 430.7,403.5 431.5,402.8 432.3,402.6 433.1,401 434,400 434.8,399.9 435.6,397.3 436.4,394.6 437.3,392.1 438.1,388.3 438.1,386.4 488.6,386.4" fill="none" stroke="#1f9a8a" stroke-width="1.8" stroke-linejoin="round"/>
<polyline points="364.8,428 365.6,430 366.4,427.3 367.2,429.2 368,428 368.8,427.7 369.6,427.7 370.5,428 371.3,428.6 372.1,427.5 372.9,428 373.7,428.9 374.5,425.9 375.3,426.8 376.1,426.1 376.9,427.4 377.7,425.9 378.5,425.7 379.3,425.5 380.1,426.2 380.9,426.6 381.8,425.9 382.6,426.8 383.4,426.3 384.2,425.2 385,425.5 385.8,424.9 386.6,424.6 387.4,423.3 388.2,423.4 389,423.8 389.8,422.9 390.6,423.7 391.4,423.2 392.3,422.3 393.1,423.2 393.9,422.4 394.7,422.7 395.5,421.6 396.3,420.5 397.1,421.5 397.9,420.7 398.7,421 399.5,420.9 400.3,420.7 401.1,419 401.9,418.2 402.7,418.9 403.6,419.2 404.4,418.1 405.2,418.4 406,417.4 406.8,417.3 407.6,417 408.4,416.4 409.2,416.6 410,416.1 410.8,416.3 411.6,415.1 412.4,415.2 413.2,414 414.1,413.9 414.9,412.9 415.7,412.2 416.5,412.7 417.3,411.9 418.1,411.4 418.9,410 419.7,409 420.5,408.9 421.3,409 422.1,407.5 422.9,408.6 423.7,406.4 424.5,407 425.4,407.5 426.2,404 427,404 427.8,404.7 428.6,403.5 429.4,403 430.2,402.1 431,402.2 431.8,400.8 432.6,399.2 433.4,398 434.2,395.8 435,394.3 435.8,390.3 436.7,387.6 436.7,386.4 488.6,386.4" fill="none" stroke="#2e6f8e" stroke-width="1.8" stroke-linejoin="round"/>
<polyline points="364.8,427.7 365.6,426.2 366.4,427.3 367.2,426.4 368,426.6 368.8,427 369.5,426.5 370.3,426.4 371.1,426.3 371.9,425.5 372.7,425.4 373.5,425.9 374.3,425.9 375.1,425.1 375.9,425.1 376.7,424.4 377.5,423.3 378.3,424.1 379,424.4 379.8,424.3 380.6,424.5 381.4,424.3 382.2,424.2 383,423.6 383.8,423.4 384.6,422.6 385.4,423 386.2,422.7 387,423 387.8,421.2 388.5,421.6 389.3,420.7 390.1,421 390.9,420.3 391.7,421 392.5,420.2 393.3,418.9 394.1,420.8 394.9,419.2 395.7,418.7 396.5,419.1 397.2,418.6 398,418.1 398.8,418.8 399.6,418 400.4,418.4 401.2,418 402,417.6 402.8,417.1 403.6,416.6 404.4,416.1 405.2,416.8 406,414.6 406.7,414.6 407.5,414.5 408.3,414.7 409.1,414.1 409.9,413.4 410.7,413 411.5,413.7 412.3,411.9 413.1,410.3 413.9,412.5 414.7,410.5 415.4,410.3 416.2,410.1 417,408.9 417.8,409.8 418.6,408.6 419.4,407.4 420.2,407.9 421,407.5 421.8,406.7 422.6,406.5 423.4,404.9 424.2,405.7 424.9,404.1 425.7,404.7 426.5,403 427.3,402.8 428.1,403.5 428.9,401.4 429.7,401.1 430.5,399.9 431.3,397.8 432.1,398 432.9,396.4 433.7,393 434.4,391.2 435.2,386.4 435.2,386.4 488.6,386.4" fill="none" stroke="#433e85" stroke-width="1.8" stroke-linejoin="round"/>
<polyline points="364.8,425.3 365.6,424.4 366.4,424.5 367.1,424.8 367.9,424.7 368.7,424.6 369.5,424.7 370.2,423.2 371,424.1 371.8,424.6 372.6,424.1 373.3,423.2 374.1,423.1 374.9,423.4 375.7,423.5 376.4,422.9 377.2,423.7 378,423.3 378.8,422 379.5,422.5 380.3,421.8 381.1,421.2 381.9,421.3 382.6,421.4 383.4,420.1 384.2,420.7 385,421 385.7,420.2 386.5,420.2 387.3,420.7 388.1,419.9 388.8,419.8 389.6,420.6 390.4,419.4 391.2,419.2 391.9,419 392.7,419.4 393.5,418.5 394.3,418.1 395,417.7 395.8,418.1 396.6,416.9 397.4,417.6 398.1,416.8 398.9,415.7 399.7,416.5 400.5,416.1 401.2,414.9 402,415.4 402.8,415 403.6,414.4 404.3,413.6 405.1,415 405.9,413.9 406.7,413.7 407.4,413.3 408.2,412.8 409,412.4 409.8,411.4 410.5,411.7 411.3,410.7 412.1,410.2 412.9,410.4 413.7,409.5 414.4,408.3 415.2,408.6 416,408.7 416.8,408 417.5,408 418.3,407 419.1,406.2 419.9,406.7 420.6,405.9 421.4,404.7 422.2,405.1 423,404.2 423.7,404.3 424.5,403.6 425.3,402.9 426.1,400.8 426.8,401.5 427.6,400.8 428.4,400 429.2,398.9 429.9,397.4 430.7,396.5 431.5,394.1 432.3,393.3 433,390.2 433.8,387 433.8,386.4 488.6,386.4" fill="none" stroke="#440154" stroke-width="1.8" stroke-linejoin="round"/>
<rect x="364.8" y="385.2" width="123.8" height="77.2" fill="none" stroke="#a0a0a0" stroke-width="0.9"/>
<line x1="364.8" y1="385.2" x2="364.8" y2="462.4" stroke="#8a8a8a" stroke-width="1"/>
<line x1="364.8" y1="462.4" x2="488.6" y2="462.4" stroke="#8a8a8a" stroke-width="1"/>
<line x1="363" y1="462.4" x2="364.8" y2="462.4" stroke="#8a8a8a" stroke-width="0.9"/>
<text x="361" y="465.3" font-size="8.0" text-anchor="end" fill="#4d4d4d" stroke="#4d4d4d" stroke-width="0.15">0%</text>
<line x1="363" y1="447.2" x2="364.8" y2="447.2" stroke="#8a8a8a" stroke-width="0.9"/>
<text x="361" y="450.1" font-size="8.0" text-anchor="end" fill="#4d4d4d" stroke="#4d4d4d" stroke-width="0.15">20%</text>
<line x1="363" y1="432" x2="364.8" y2="432" stroke="#8a8a8a" stroke-width="0.9"/>
<text x="361" y="434.9" font-size="8.0" text-anchor="end" fill="#4d4d4d" stroke="#4d4d4d" stroke-width="0.15">40%</text>
<line x1="363" y1="416.8" x2="364.8" y2="416.8" stroke="#8a8a8a" stroke-width="0.9"/>
<text x="361" y="419.7" font-size="8.0" text-anchor="end" fill="#4d4d4d" stroke="#4d4d4d" stroke-width="0.15">60%</text>
<line x1="363" y1="401.6" x2="364.8" y2="401.6" stroke="#8a8a8a" stroke-width="0.9"/>
<text x="361" y="404.5" font-size="8.0" text-anchor="end" fill="#4d4d4d" stroke="#4d4d4d" stroke-width="0.15">80%</text>
<line x1="363" y1="386.4" x2="364.8" y2="386.4" stroke="#8a8a8a" stroke-width="0.9"/>
<text x="361" y="389.3" font-size="8.0" text-anchor="end" fill="#4d4d4d" stroke="#4d4d4d" stroke-width="0.15">100%</text>
<line x1="364.8" y1="462.4" x2="364.8" y2="464.2" stroke="#8a8a8a" stroke-width="0.9"/>
<text x="364.8" y="471.5" font-size="8.0" text-anchor="middle" fill="#4d4d4d" stroke="#4d4d4d" stroke-width="0.15">2</text>
<line x1="381.9" y1="462.4" x2="381.9" y2="464.2" stroke="#8a8a8a" stroke-width="0.9"/>
<text x="381.9" y="471.5" font-size="8.0" text-anchor="middle" fill="#4d4d4d" stroke="#4d4d4d" stroke-width="0.15">50</text>
<line x1="399.7" y1="462.4" x2="399.7" y2="464.2" stroke="#8a8a8a" stroke-width="0.9"/>
<text x="399.7" y="471.5" font-size="8.0" text-anchor="middle" fill="#4d4d4d" stroke="#4d4d4d" stroke-width="0.15">100</text>
<line x1="417.5" y1="462.4" x2="417.5" y2="464.2" stroke="#8a8a8a" stroke-width="0.9"/>
<text x="417.5" y="471.5" font-size="8.0" text-anchor="middle" fill="#4d4d4d" stroke="#4d4d4d" stroke-width="0.15">150</text>
<line x1="435.2" y1="462.4" x2="435.2" y2="464.2" stroke="#8a8a8a" stroke-width="0.9"/>
<text x="435.2" y="471.5" font-size="8.0" text-anchor="middle" fill="#4d4d4d" stroke="#4d4d4d" stroke-width="0.15">200</text>
<line x1="453" y1="462.4" x2="453" y2="464.2" stroke="#8a8a8a" stroke-width="0.9"/>
<text x="453" y="471.5" font-size="8.0" text-anchor="middle" fill="#4d4d4d" stroke="#4d4d4d" stroke-width="0.15">250</text>
<line x1="470.8" y1="462.4" x2="470.8" y2="464.2" stroke="#8a8a8a" stroke-width="0.9"/>
<text x="470.8" y="471.5" font-size="8.0" text-anchor="middle" fill="#4d4d4d" stroke="#4d4d4d" stroke-width="0.15">300</text>
<line x1="488.6" y1="462.4" x2="488.6" y2="464.2" stroke="#8a8a8a" stroke-width="0.9"/>
<text x="488.6" y="471.5" font-size="8.0" text-anchor="middle" fill="#4d4d4d" stroke="#4d4d4d" stroke-width="0.15">350</text>
<rect x="364.8" y="370.4" width="123.8" height="14.4" fill="#d9d9d9" stroke="#8c8c8c" stroke-width="0.9"/>
<line x1="364.8" y1="384.8" x2="488.6" y2="384.8" stroke="#555" stroke-width="1.0"/>
<text x="426.7" y="380.6" font-size="9.5" text-anchor="middle" fill="#1a1a1a" stroke="#1a1a1a" stroke-width="0.15">Maturity stage</text>
<text x="269.6" y="487.6" font-size="7.2" text-anchor="middle" fill="#111" stroke="#111" stroke-width="0.15">Water depth (cm)</text>
<text x="16.3" y="423.8" font-size="7.3" text-anchor="middle" fill="#111" transform="rotate(-90 16.3 423.8)" stroke="#111" stroke-width="0.15">Percentage of yield loss</text>
<text x="136.8" y="507.3" font-size="7.2" text-anchor="start" fill="#111" stroke="#111" stroke-width="0.15">Flood duration</text>
<rect x="186.6" y="499.9" width="9.5" height="9.6" fill="#bddf26" stroke="none" stroke-width="1" fill-opacity="0.2"/>
<line x1="187.2" y1="504.7" x2="195.5" y2="504.7" stroke="#bddf26" stroke-width="1.3"/>
<text x="199.8" y="507" font-size="6.2" text-anchor="start" fill="#222" stroke="#222" stroke-width="0.15">4 d</text>
<rect x="221" y="499.9" width="9.5" height="9.6" fill="#4ec36b" stroke="none" stroke-width="1" fill-opacity="0.2"/>
<line x1="221.6" y1="504.7" x2="229.9" y2="504.7" stroke="#4ec36b" stroke-width="1.3"/>
<text x="234.2" y="507" font-size="6.2" text-anchor="start" fill="#222" stroke="#222" stroke-width="0.15">8 d</text>
<rect x="255" y="499.9" width="9.5" height="9.6" fill="#1f9a8a" stroke="none" stroke-width="1" fill-opacity="0.2"/>
<line x1="255.6" y1="504.7" x2="263.9" y2="504.7" stroke="#1f9a8a" stroke-width="1.3"/>
<text x="268.2" y="507" font-size="6.2" text-anchor="start" fill="#222" stroke="#222" stroke-width="0.15">12 d</text>
<rect x="292.4" y="499.9" width="9.5" height="9.6" fill="#2e6f8e" stroke="none" stroke-width="1" fill-opacity="0.2"/>
<line x1="293" y1="504.7" x2="301.3" y2="504.7" stroke="#2e6f8e" stroke-width="1.3"/>
<text x="305.6" y="507" font-size="6.2" text-anchor="start" fill="#222" stroke="#222" stroke-width="0.15">16 d</text>
<rect x="330" y="499.9" width="9.5" height="9.6" fill="#433e85" stroke="none" stroke-width="1" fill-opacity="0.2"/>
<line x1="330.6" y1="504.7" x2="338.9" y2="504.7" stroke="#433e85" stroke-width="1.3"/>
<text x="343.2" y="507" font-size="6.2" text-anchor="start" fill="#222" stroke="#222" stroke-width="0.15">20 d</text>
<rect x="368" y="499.9" width="9.5" height="9.6" fill="#440154" stroke="none" stroke-width="1" fill-opacity="0.2"/>
<line x1="368.6" y1="504.7" x2="376.9" y2="504.7" stroke="#440154" stroke-width="1.3"/>
<text x="381.2" y="507" font-size="6.2" text-anchor="start" fill="#222" stroke="#222" stroke-width="0.15">27 d</text>
<line x1="50.8" y1="621.1" x2="174.6" y2="621.1" stroke="#f3f3f3" stroke-width="0.8"/>
<line x1="50.8" y1="608.8" x2="174.6" y2="608.8" stroke="#f3f3f3" stroke-width="0.8"/>
<line x1="50.8" y1="596.4" x2="174.6" y2="596.4" stroke="#f3f3f3" stroke-width="0.8"/>
<line x1="50.8" y1="584" x2="174.6" y2="584" stroke="#f3f3f3" stroke-width="0.8"/>
<line x1="50.8" y1="571.7" x2="174.6" y2="571.7" stroke="#f3f3f3" stroke-width="0.8"/>
<line x1="59.3" y1="564.5" x2="59.3" y2="627.3" stroke="#f3f3f3" stroke-width="0.8"/>
<line x1="76.8" y1="564.5" x2="76.8" y2="627.3" stroke="#f3f3f3" stroke-width="0.8"/>
<line x1="94.6" y1="564.5" x2="94.6" y2="627.3" stroke="#f3f3f3" stroke-width="0.8"/>
<line x1="112.3" y1="564.5" x2="112.3" y2="627.3" stroke="#f3f3f3" stroke-width="0.8"/>
<line x1="130.1" y1="564.5" x2="130.1" y2="627.3" stroke="#f3f3f3" stroke-width="0.8"/>
<line x1="147.9" y1="564.5" x2="147.9" y2="627.3" stroke="#f3f3f3" stroke-width="0.8"/>
<line x1="165.7" y1="564.5" x2="165.7" y2="627.3" stroke="#f3f3f3" stroke-width="0.8"/>
<line x1="50.8" y1="627.3" x2="174.6" y2="627.3" stroke="#ebebeb" stroke-width="1"/>
<line x1="50.8" y1="614.9" x2="174.6" y2="614.9" stroke="#ebebeb" stroke-width="1"/>
<line x1="50.8" y1="602.6" x2="174.6" y2="602.6" stroke="#ebebeb" stroke-width="1"/>
<line x1="50.8" y1="590.2" x2="174.6" y2="590.2" stroke="#ebebeb" stroke-width="1"/>
<line x1="50.8" y1="577.9" x2="174.6" y2="577.9" stroke="#ebebeb" stroke-width="1"/>
<line x1="50.8" y1="565.5" x2="174.6" y2="565.5" stroke="#ebebeb" stroke-width="1"/>
<line x1="50.8" y1="564.5" x2="50.8" y2="627.3" stroke="#ebebeb" stroke-width="1"/>
<line x1="67.9" y1="564.5" x2="67.9" y2="627.3" stroke="#ebebeb" stroke-width="1"/>
<line x1="85.7" y1="564.5" x2="85.7" y2="627.3" stroke="#ebebeb" stroke-width="1"/>
<line x1="103.5" y1="564.5" x2="103.5" y2="627.3" stroke="#ebebeb" stroke-width="1"/>
<line x1="121.2" y1="564.5" x2="121.2" y2="627.3" stroke="#ebebeb" stroke-width="1"/>
<line x1="139" y1="564.5" x2="139" y2="627.3" stroke="#ebebeb" stroke-width="1"/>
<line x1="156.8" y1="564.5" x2="156.8" y2="627.3" stroke="#ebebeb" stroke-width="1"/>
<line x1="174.6" y1="564.5" x2="174.6" y2="627.3" stroke="#ebebeb" stroke-width="1"/>
<polygon points="50.8,596.4 56.8,596.4 56.8,598.6 71.4,598.6 71.4,599.4 85.7,599.4 85.7,593.4 89.9,593.4 89.9,593.8 97.9,593.8 97.9,584.2 106.7,584.2 106.7,574.3 114.1,574.3 114.1,572.5 174.6,572.5 174.6,590.5 114.1,590.5 114.1,591.6 106.7,591.6 106.7,598.5 97.9,598.5 97.9,599.7 89.9,599.7 89.9,599.7 85.7,599.7 85.7,606 71.4,606 71.4,606 56.8,606 56.8,605.5 50.8,605.5" fill="#bddf26" fill-opacity="0.2"/>
<polygon points="50.8,594.5 56.8,594.5 56.8,596.6 71.4,596.6 71.4,597.3 85.7,597.3 85.7,592.7 89.9,592.7 89.9,593.3 97.9,593.3 97.9,584 106.7,584 106.7,574.8 114.1,574.8 114.1,573.1 174.6,573.1 174.6,588.3 114.1,588.3 114.1,589.6 106.7,589.6 106.7,596.7 97.9,596.7 97.9,598.7 89.9,598.7 89.9,598.8 85.7,598.8 85.7,604.3 71.4,604.3 71.4,604.5 56.8,604.5 56.8,603.4 50.8,603.4" fill="#4ec36b" fill-opacity="0.2"/>
<polygon points="50.8,586.8 56.8,586.8 56.8,588.7 71.4,588.7 71.4,589.5 85.7,589.5 85.7,584.2 89.9,584.2 89.9,584.3 97.9,584.3 97.9,576.4 106.7,576.4 106.7,570.5 114.1,570.5 114.1,569.3 174.6,569.3 174.6,581.7 114.1,581.7 114.1,582.8 106.7,582.8 106.7,587.5 97.9,587.5 97.9,589.3 89.9,589.3 89.9,590.1 85.7,590.1 85.7,596.8 71.4,596.8 71.4,597.2 56.8,597.2 56.8,595.5 50.8,595.5" fill="#1f9a8a" fill-opacity="0.2"/>
<polygon points="50.8,581.2 56.8,581.2 56.8,581.4 71.4,581.4 71.4,582.1 85.7,582.1 85.7,581 89.9,581 89.9,580.2 97.9,580.2 97.9,577.1 106.7,577.1 106.7,569.6 114.1,569.6 114.1,567.6 174.6,567.6 174.6,577.2 114.1,577.2 114.1,579.4 106.7,579.4 106.7,586.5 97.9,586.5 97.9,584.7 89.9,584.7 89.9,586.6 85.7,586.6 85.7,589.7 71.4,589.7 71.4,590.4 56.8,590.4 56.8,589.7 50.8,589.7" fill="#2e6f8e" fill-opacity="0.2"/>
<polygon points="50.8,576.8 56.8,576.8 56.8,577 71.4,577 71.4,576.2 85.7,576.2 85.7,575.1 89.9,575.1 89.9,574.4 97.9,574.4 97.9,574.2 106.7,574.2 106.7,567.4 114.1,567.4 114.1,566.1 174.6,566.1 174.6,572.9 114.1,572.9 114.1,574.8 106.7,574.8 106.7,582 97.9,582 97.9,578.5 89.9,578.5 89.9,580.5 85.7,580.5 85.7,584.1 71.4,584.1 71.4,586.5 56.8,586.5 56.8,585 50.8,585" fill="#433e85" fill-opacity="0.2"/>
<polygon points="50.8,576.2 56.8,576.2 56.8,576.2 71.4,576.2 71.4,575.4 85.7,575.4 85.7,574.5 89.9,574.5 89.9,573.8 97.9,573.8 97.9,574.2 106.7,574.2 106.7,567.7 114.1,567.7 114.1,566.4 174.6,566.4 174.6,570.5 114.1,570.5 114.1,572.6 106.7,572.6 106.7,580.3 97.9,580.3 97.9,577.6 89.9,577.6 89.9,579.7 85.7,579.7 85.7,583.5 71.4,583.5 71.4,586.2 56.8,586.2 56.8,584.3 50.8,584.3" fill="#440154" fill-opacity="0.2"/>
<polyline points="50.8,600.1 56.3,600.1 57.4,602.5 70.9,602.5 72,602.6 85.1,602.6 86.2,595.8 89.4,595.8 90.5,595.8 97.4,595.8 98.5,588.7 106.1,588.7 107.2,579.2 113.6,579.2 114.7,577.4 174.6,577.4" fill="none" stroke="#bddf26" stroke-width="1.6" stroke-linejoin="round"/>
<polyline points="50.8,598.3 56.3,598.3 57.4,600.7 70.9,600.7 72,600.7 85.1,600.7 86.2,595.2 89.4,595.2 90.5,595.2 97.4,595.2 98.5,588.2 106.1,588.2 107.2,579.2 113.6,579.2 114.7,577.4 174.6,577.4" fill="none" stroke="#4ec36b" stroke-width="1.6" stroke-linejoin="round"/>
<polyline points="50.8,590.7 56.3,590.7 57.4,593.2 70.9,593.2 72,593.2 85.1,593.2 86.2,586.6 89.4,586.6 90.5,586.1 97.4,586.1 98.5,580.3 106.1,580.3 107.2,574.3 113.6,574.3 114.7,572.9 174.6,572.9" fill="none" stroke="#1f9a8a" stroke-width="1.6" stroke-linejoin="round"/>
<polyline points="50.8,585.3 56.3,585.3 57.4,586.2 70.9,586.2 72,586 85.1,586 86.2,583.4 89.4,583.4 90.5,581.9 97.4,581.9 98.5,580.8 106.1,580.8 107.2,572.9 113.6,572.9 114.7,570.6 174.6,570.6" fill="none" stroke="#2e6f8e" stroke-width="1.6" stroke-linejoin="round"/>
<polyline points="50.8,580.9 56.3,580.9 57.4,582.1 70.9,582.1 72,580.3 85.1,580.3 86.2,577.6 89.4,577.6 90.5,576 97.4,576 98.5,577.6 106.1,577.6 107.2,570.2 113.6,570.2 114.7,568.5 174.6,568.5" fill="none" stroke="#433e85" stroke-width="1.6" stroke-linejoin="round"/>
<polyline points="50.8,580.5 56.3,580.5 57.4,581.7 70.9,581.7 72,579.7 85.1,579.7 86.2,576.9 89.4,576.9 90.5,575.4 97.4,575.4 98.5,577.2 106.1,577.2 107.2,569.9 113.6,569.9 114.7,568.2 174.6,568.2" fill="none" stroke="#440154" stroke-width="1.6" stroke-linejoin="round"/>
<rect x="50.8" y="564.5" width="123.8" height="62.8" fill="none" stroke="#a0a0a0" stroke-width="0.9"/>
<line x1="50.8" y1="564.5" x2="50.8" y2="627.3" stroke="#8a8a8a" stroke-width="1"/>
<line x1="50.8" y1="627.3" x2="174.6" y2="627.3" stroke="#8a8a8a" stroke-width="1"/>
<line x1="49" y1="627.3" x2="50.8" y2="627.3" stroke="#8a8a8a" stroke-width="0.9"/>
<text x="47" y="630.2" font-size="8.0" text-anchor="end" fill="#4d4d4d" stroke="#4d4d4d" stroke-width="0.15">0%</text>
<line x1="49" y1="614.9" x2="50.8" y2="614.9" stroke="#8a8a8a" stroke-width="0.9"/>
<text x="47" y="617.8" font-size="8.0" text-anchor="end" fill="#4d4d4d" stroke="#4d4d4d" stroke-width="0.15">20%</text>
<line x1="49" y1="602.6" x2="50.8" y2="602.6" stroke="#8a8a8a" stroke-width="0.9"/>
<text x="47" y="605.5" font-size="8.0" text-anchor="end" fill="#4d4d4d" stroke="#4d4d4d" stroke-width="0.15">40%</text>
<line x1="49" y1="590.2" x2="50.8" y2="590.2" stroke="#8a8a8a" stroke-width="0.9"/>
<text x="47" y="593.1" font-size="8.0" text-anchor="end" fill="#4d4d4d" stroke="#4d4d4d" stroke-width="0.15">60%</text>
<line x1="49" y1="577.9" x2="50.8" y2="577.9" stroke="#8a8a8a" stroke-width="0.9"/>
<text x="47" y="580.7" font-size="8.0" text-anchor="end" fill="#4d4d4d" stroke="#4d4d4d" stroke-width="0.15">80%</text>
<line x1="49" y1="565.5" x2="50.8" y2="565.5" stroke="#8a8a8a" stroke-width="0.9"/>
<text x="47" y="568.4" font-size="8.0" text-anchor="end" fill="#4d4d4d" stroke="#4d4d4d" stroke-width="0.15">100%</text>
<line x1="50.8" y1="627.3" x2="50.8" y2="629.1" stroke="#8a8a8a" stroke-width="0.9"/>
<text x="50.8" y="636.4" font-size="8.0" text-anchor="middle" fill="#4d4d4d" stroke="#4d4d4d" stroke-width="0.15">2</text>
<line x1="67.9" y1="627.3" x2="67.9" y2="629.1" stroke="#8a8a8a" stroke-width="0.9"/>
<text x="67.9" y="636.4" font-size="8.0" text-anchor="middle" fill="#4d4d4d" stroke="#4d4d4d" stroke-width="0.15">50</text>
<line x1="85.7" y1="627.3" x2="85.7" y2="629.1" stroke="#8a8a8a" stroke-width="0.9"/>
<text x="85.7" y="636.4" font-size="8.0" text-anchor="middle" fill="#4d4d4d" stroke="#4d4d4d" stroke-width="0.15">100</text>
<line x1="103.5" y1="627.3" x2="103.5" y2="629.1" stroke="#8a8a8a" stroke-width="0.9"/>
<text x="103.5" y="636.4" font-size="8.0" text-anchor="middle" fill="#4d4d4d" stroke="#4d4d4d" stroke-width="0.15">150</text>
<line x1="121.2" y1="627.3" x2="121.2" y2="629.1" stroke="#8a8a8a" stroke-width="0.9"/>
<text x="121.2" y="636.4" font-size="8.0" text-anchor="middle" fill="#4d4d4d" stroke="#4d4d4d" stroke-width="0.15">200</text>
<line x1="139" y1="627.3" x2="139" y2="629.1" stroke="#8a8a8a" stroke-width="0.9"/>
<text x="139" y="636.4" font-size="8.0" text-anchor="middle" fill="#4d4d4d" stroke="#4d4d4d" stroke-width="0.15">250</text>
<line x1="156.8" y1="627.3" x2="156.8" y2="629.1" stroke="#8a8a8a" stroke-width="0.9"/>
<text x="156.8" y="636.4" font-size="8.0" text-anchor="middle" fill="#4d4d4d" stroke="#4d4d4d" stroke-width="0.15">300</text>
<line x1="174.6" y1="627.3" x2="174.6" y2="629.1" stroke="#8a8a8a" stroke-width="0.9"/>
<text x="174.6" y="636.4" font-size="8.0" text-anchor="middle" fill="#4d4d4d" stroke="#4d4d4d" stroke-width="0.15">350</text>
<rect x="50.8" y="550.2" width="123.8" height="14.2" fill="#d9d9d9" stroke="#8c8c8c" stroke-width="0.9"/>
<line x1="50.8" y1="564.4" x2="174.6" y2="564.4" stroke="#555" stroke-width="1.0"/>
<text x="112.7" y="560.3" font-size="9.5" text-anchor="middle" fill="#1a1a1a" stroke="#1a1a1a" stroke-width="0.15">Vegetative stage</text>
<line x1="207.8" y1="621.1" x2="331.6" y2="621.1" stroke="#f3f3f3" stroke-width="0.8"/>
<line x1="207.8" y1="608.8" x2="331.6" y2="608.8" stroke="#f3f3f3" stroke-width="0.8"/>
<line x1="207.8" y1="596.4" x2="331.6" y2="596.4" stroke="#f3f3f3" stroke-width="0.8"/>
<line x1="207.8" y1="584" x2="331.6" y2="584" stroke="#f3f3f3" stroke-width="0.8"/>
<line x1="207.8" y1="571.7" x2="331.6" y2="571.7" stroke="#f3f3f3" stroke-width="0.8"/>
<line x1="216.3" y1="564.5" x2="216.3" y2="627.3" stroke="#f3f3f3" stroke-width="0.8"/>
<line x1="233.8" y1="564.5" x2="233.8" y2="627.3" stroke="#f3f3f3" stroke-width="0.8"/>
<line x1="251.6" y1="564.5" x2="251.6" y2="627.3" stroke="#f3f3f3" stroke-width="0.8"/>
<line x1="269.3" y1="564.5" x2="269.3" y2="627.3" stroke="#f3f3f3" stroke-width="0.8"/>
<line x1="287.1" y1="564.5" x2="287.1" y2="627.3" stroke="#f3f3f3" stroke-width="0.8"/>
<line x1="304.9" y1="564.5" x2="304.9" y2="627.3" stroke="#f3f3f3" stroke-width="0.8"/>
<line x1="322.7" y1="564.5" x2="322.7" y2="627.3" stroke="#f3f3f3" stroke-width="0.8"/>
<line x1="207.8" y1="627.3" x2="331.6" y2="627.3" stroke="#ebebeb" stroke-width="1"/>
<line x1="207.8" y1="614.9" x2="331.6" y2="614.9" stroke="#ebebeb" stroke-width="1"/>
<line x1="207.8" y1="602.6" x2="331.6" y2="602.6" stroke="#ebebeb" stroke-width="1"/>
<line x1="207.8" y1="590.2" x2="331.6" y2="590.2" stroke="#ebebeb" stroke-width="1"/>
<line x1="207.8" y1="577.9" x2="331.6" y2="577.9" stroke="#ebebeb" stroke-width="1"/>
<line x1="207.8" y1="565.5" x2="331.6" y2="565.5" stroke="#ebebeb" stroke-width="1"/>
<line x1="207.8" y1="564.5" x2="207.8" y2="627.3" stroke="#ebebeb" stroke-width="1"/>
<line x1="224.9" y1="564.5" x2="224.9" y2="627.3" stroke="#ebebeb" stroke-width="1"/>
<line x1="242.7" y1="564.5" x2="242.7" y2="627.3" stroke="#ebebeb" stroke-width="1"/>
<line x1="260.5" y1="564.5" x2="260.5" y2="627.3" stroke="#ebebeb" stroke-width="1"/>
<line x1="278.2" y1="564.5" x2="278.2" y2="627.3" stroke="#ebebeb" stroke-width="1"/>
<line x1="296" y1="564.5" x2="296" y2="627.3" stroke="#ebebeb" stroke-width="1"/>
<line x1="313.8" y1="564.5" x2="313.8" y2="627.3" stroke="#ebebeb" stroke-width="1"/>
<line x1="331.6" y1="564.5" x2="331.6" y2="627.3" stroke="#ebebeb" stroke-width="1"/>
<polygon points="207.8,595.5 213.8,595.5 213.8,597.5 228.4,597.5 228.4,597.6 239.1,597.6 239.1,594.2 242.7,594.2 242.7,589.5 250.8,589.5 250.8,589.8 254.9,589.8 254.9,581.9 263.3,581.9 263.3,573.9 270.4,573.9 270.4,569.4 277.2,569.4 277.2,568 331.6,568 331.6,587.6 277.2,587.6 277.2,589 270.4,589 270.4,590.2 263.3,590.2 263.3,591.6 254.9,591.6 254.9,598.9 250.8,598.9 250.8,598.9 242.7,598.9 242.7,601 239.1,601 239.1,606.9 228.4,606.9 228.4,606.9 213.8,606.9 213.8,603.6 207.8,603.6" fill="#bddf26" fill-opacity="0.2"/>
<polygon points="207.8,591.5 213.8,591.5 213.8,593.4 228.4,593.4 228.4,593.5 239.1,593.5 239.1,591.3 242.7,591.3 242.7,588.2 250.8,588.2 250.8,588.5 254.9,588.5 254.9,581.7 263.3,581.7 263.3,572.7 270.4,572.7 270.4,569.3 277.2,569.3 277.2,567.9 331.6,567.9 331.6,585.4 277.2,585.4 277.2,586.7 270.4,586.7 270.4,587.1 263.3,587.1 263.3,590.3 254.9,590.3 254.9,597.2 250.8,597.2 250.8,597.3 242.7,597.3 242.7,598.3 239.1,598.3 239.1,602.8 228.4,602.8 228.4,602.8 213.8,602.8 213.8,599.6 207.8,599.6" fill="#4ec36b" fill-opacity="0.2"/>
<polygon points="207.8,586.2 213.8,586.2 213.8,588.6 228.4,588.6 228.4,588.7 239.1,588.7 239.1,586.6 242.7,586.6 242.7,584.1 250.8,584.1 250.8,584.5 254.9,584.5 254.9,581.4 263.3,581.4 263.3,572.2 270.4,572.2 270.4,568.7 277.2,568.7 277.2,567.4 331.6,567.4 331.6,580.9 277.2,580.9 277.2,582.2 270.4,582.2 270.4,584.6 263.3,584.6 263.3,589 254.9,589 254.9,592.8 250.8,592.8 250.8,592.9 242.7,592.9 242.7,593.9 239.1,593.9 239.1,598 228.4,598 228.4,598.1 213.8,598.1 213.8,594.2 207.8,594.2" fill="#1f9a8a" fill-opacity="0.2"/>
<polygon points="207.8,580.9 213.8,580.9 213.8,581.2 228.4,581.2 228.4,581.4 239.1,581.4 239.1,578.6 242.7,578.6 242.7,578.3 250.8,578.3 250.8,578.2 254.9,578.2 254.9,579.7 263.3,579.7 263.3,571.2 270.4,571.2 270.4,568.3 277.2,568.3 277.2,567.1 331.6,567.1 331.6,576.9 277.2,576.9 277.2,578.3 270.4,578.3 270.4,581.8 263.3,581.8 263.3,586.3 254.9,586.3 254.9,586.1 250.8,586.1 250.8,586.9 242.7,586.9 242.7,586.1 239.1,586.1 239.1,590.7 228.4,590.7 228.4,590.7 213.8,590.7 213.8,588.9 207.8,588.9" fill="#2e6f8e" fill-opacity="0.2"/>
<polygon points="207.8,578.6 213.8,578.6 213.8,578.7 228.4,578.7 228.4,578.1 239.1,578.1 239.1,574.8 242.7,574.8 242.7,574.6 250.8,574.6 250.8,574 254.9,574 254.9,578.5 263.3,578.5 263.3,570.3 270.4,570.3 270.4,567.1 277.2,567.1 277.2,566.2 331.6,566.2 331.6,573.9 277.2,573.9 277.2,575.1 270.4,575.1 270.4,579 263.3,579 263.3,584.1 254.9,584.1 254.9,581.6 250.8,581.6 250.8,582.9 242.7,582.9 242.7,582.5 239.1,582.5 239.1,587.3 228.4,587.3 228.4,588.2 213.8,588.2 213.8,586.6 207.8,586.6" fill="#433e85" fill-opacity="0.2"/>
<polygon points="207.8,578.2 213.8,578.2 213.8,578.2 228.4,578.2 228.4,577.6 239.1,577.6 239.1,574.2 242.7,574.2 242.7,574.2 250.8,574.2 250.8,573.5 254.9,573.5 254.9,578.5 263.3,578.5 263.3,570.4 270.4,570.4 270.4,567.4 277.2,567.4 277.2,566.4 331.6,566.4 331.6,572.1 277.2,572.1 277.2,573.2 270.4,573.2 270.4,577.3 263.3,577.3 263.3,583.1 254.9,583.1 254.9,580.7 250.8,580.7 250.8,582.1 242.7,582.1 242.7,582.1 239.1,582.1 239.1,586.8 228.4,586.8 228.4,587.8 213.8,587.8 213.8,586.2 207.8,586.2" fill="#440154" fill-opacity="0.2"/>
<polyline points="207.8,599 213.3,599 214.4,601.7 227.9,601.7 229,601.7 238.6,601.7 239.6,597.4 242.1,597.4 243.2,593.3 250.3,593.3 251.4,593.3 254.4,593.3 255.5,585 262.8,585 263.8,579.1 269.9,579.1 270.9,577.6 276.6,577.6 277.7,576.6 331.6,576.6" fill="none" stroke="#bddf26" stroke-width="1.6" stroke-linejoin="round"/>
<polyline points="207.8,595.2 213.3,595.2 214.4,597.8 227.9,597.8 229,597.8 238.6,597.8 239.6,594.7 242.1,594.7 243.2,592.1 250.3,592.1 251.4,592.1 254.4,592.1 255.5,584.5 262.8,584.5 263.8,577.5 269.9,577.5 270.9,576.9 276.6,576.9 277.7,576.1 331.6,576.1" fill="none" stroke="#4ec36b" stroke-width="1.6" stroke-linejoin="round"/>
<polyline points="207.8,590 213.3,590 214.4,593.2 227.9,593.2 229,593.2 238.6,593.2 239.6,590.2 242.1,590.2 243.2,588.1 250.3,588.1 251.4,588.1 254.4,588.1 255.5,584 262.8,584 263.8,576.6 269.9,576.6 270.9,574.2 276.6,574.2 277.7,573.2 331.6,573.2" fill="none" stroke="#1f9a8a" stroke-width="1.6" stroke-linejoin="round"/>
<polyline points="207.8,584.8 213.3,584.8 214.4,586 227.9,586 229,586 238.6,586 239.6,582.4 242.1,582.4 243.2,582.4 250.3,582.4 251.4,581.8 254.4,581.8 255.5,582.2 262.8,582.2 263.8,575.4 269.9,575.4 270.9,572 276.6,572 277.7,570.8 331.6,570.8" fill="none" stroke="#2e6f8e" stroke-width="1.6" stroke-linejoin="round"/>
<polyline points="207.8,582.7 213.3,582.7 214.4,583.7 227.9,583.7 229,582.9 238.6,582.9 239.6,578.8 242.1,578.8 243.2,578.8 250.3,578.8 251.4,577.7 254.4,577.7 255.5,580.7 262.8,580.7 263.8,574.1 269.9,574.1 270.9,570.4 276.6,570.4 277.7,569.4 331.6,569.4" fill="none" stroke="#433e85" stroke-width="1.6" stroke-linejoin="round"/>
<polyline points="207.8,582.4 213.3,582.4 214.4,583.4 227.9,583.4 229,582.6 238.6,582.6 239.6,578.4 242.1,578.4 243.2,578.4 250.3,578.4 251.4,577.2 254.4,577.2 255.5,580.6 262.8,580.6 263.8,574 269.9,574 270.9,570.3 276.6,570.3 277.7,569.2 331.6,569.2" fill="none" stroke="#440154" stroke-width="1.6" stroke-linejoin="round"/>
<rect x="207.8" y="564.5" width="123.8" height="62.8" fill="none" stroke="#a0a0a0" stroke-width="0.9"/>
<line x1="207.8" y1="564.5" x2="207.8" y2="627.3" stroke="#8a8a8a" stroke-width="1"/>
<line x1="207.8" y1="627.3" x2="331.6" y2="627.3" stroke="#8a8a8a" stroke-width="1"/>
<line x1="206" y1="627.3" x2="207.8" y2="627.3" stroke="#8a8a8a" stroke-width="0.9"/>
<text x="204" y="630.2" font-size="8.0" text-anchor="end" fill="#4d4d4d" stroke="#4d4d4d" stroke-width="0.15">0%</text>
<line x1="206" y1="614.9" x2="207.8" y2="614.9" stroke="#8a8a8a" stroke-width="0.9"/>
<text x="204" y="617.8" font-size="8.0" text-anchor="end" fill="#4d4d4d" stroke="#4d4d4d" stroke-width="0.15">20%</text>
<line x1="206" y1="602.6" x2="207.8" y2="602.6" stroke="#8a8a8a" stroke-width="0.9"/>
<text x="204" y="605.5" font-size="8.0" text-anchor="end" fill="#4d4d4d" stroke="#4d4d4d" stroke-width="0.15">40%</text>
<line x1="206" y1="590.2" x2="207.8" y2="590.2" stroke="#8a8a8a" stroke-width="0.9"/>
<text x="204" y="593.1" font-size="8.0" text-anchor="end" fill="#4d4d4d" stroke="#4d4d4d" stroke-width="0.15">60%</text>
<line x1="206" y1="577.9" x2="207.8" y2="577.9" stroke="#8a8a8a" stroke-width="0.9"/>
<text x="204" y="580.7" font-size="8.0" text-anchor="end" fill="#4d4d4d" stroke="#4d4d4d" stroke-width="0.15">80%</text>
<line x1="206" y1="565.5" x2="207.8" y2="565.5" stroke="#8a8a8a" stroke-width="0.9"/>
<text x="204" y="568.4" font-size="8.0" text-anchor="end" fill="#4d4d4d" stroke="#4d4d4d" stroke-width="0.15">100%</text>
<line x1="207.8" y1="627.3" x2="207.8" y2="629.1" stroke="#8a8a8a" stroke-width="0.9"/>
<text x="207.8" y="636.4" font-size="8.0" text-anchor="middle" fill="#4d4d4d" stroke="#4d4d4d" stroke-width="0.15">2</text>
<line x1="224.9" y1="627.3" x2="224.9" y2="629.1" stroke="#8a8a8a" stroke-width="0.9"/>
<text x="224.9" y="636.4" font-size="8.0" text-anchor="middle" fill="#4d4d4d" stroke="#4d4d4d" stroke-width="0.15">50</text>
<line x1="242.7" y1="627.3" x2="242.7" y2="629.1" stroke="#8a8a8a" stroke-width="0.9"/>
<text x="242.7" y="636.4" font-size="8.0" text-anchor="middle" fill="#4d4d4d" stroke="#4d4d4d" stroke-width="0.15">100</text>
<line x1="260.5" y1="627.3" x2="260.5" y2="629.1" stroke="#8a8a8a" stroke-width="0.9"/>
<text x="260.5" y="636.4" font-size="8.0" text-anchor="middle" fill="#4d4d4d" stroke="#4d4d4d" stroke-width="0.15">150</text>
<line x1="278.2" y1="627.3" x2="278.2" y2="629.1" stroke="#8a8a8a" stroke-width="0.9"/>
<text x="278.2" y="636.4" font-size="8.0" text-anchor="middle" fill="#4d4d4d" stroke="#4d4d4d" stroke-width="0.15">200</text>
<line x1="296" y1="627.3" x2="296" y2="629.1" stroke="#8a8a8a" stroke-width="0.9"/>
<text x="296" y="636.4" font-size="8.0" text-anchor="middle" fill="#4d4d4d" stroke="#4d4d4d" stroke-width="0.15">250</text>
<line x1="313.8" y1="627.3" x2="313.8" y2="629.1" stroke="#8a8a8a" stroke-width="0.9"/>
<text x="313.8" y="636.4" font-size="8.0" text-anchor="middle" fill="#4d4d4d" stroke="#4d4d4d" stroke-width="0.15">300</text>
<line x1="331.6" y1="627.3" x2="331.6" y2="629.1" stroke="#8a8a8a" stroke-width="0.9"/>
<text x="331.6" y="636.4" font-size="8.0" text-anchor="middle" fill="#4d4d4d" stroke="#4d4d4d" stroke-width="0.15">350</text>
<rect x="207.8" y="550.2" width="123.8" height="14.2" fill="#d9d9d9" stroke="#8c8c8c" stroke-width="0.9"/>
<line x1="207.8" y1="564.4" x2="331.6" y2="564.4" stroke="#555" stroke-width="1.0"/>
<text x="269.7" y="560.3" font-size="9.5" text-anchor="middle" fill="#1a1a1a" stroke="#1a1a1a" stroke-width="0.15">Reproductive stage</text>
<line x1="364.8" y1="621.1" x2="488.6" y2="621.1" stroke="#f3f3f3" stroke-width="0.8"/>
<line x1="364.8" y1="608.8" x2="488.6" y2="608.8" stroke="#f3f3f3" stroke-width="0.8"/>
<line x1="364.8" y1="596.4" x2="488.6" y2="596.4" stroke="#f3f3f3" stroke-width="0.8"/>
<line x1="364.8" y1="584" x2="488.6" y2="584" stroke="#f3f3f3" stroke-width="0.8"/>
<line x1="364.8" y1="571.7" x2="488.6" y2="571.7" stroke="#f3f3f3" stroke-width="0.8"/>
<line x1="373.3" y1="564.5" x2="373.3" y2="627.3" stroke="#f3f3f3" stroke-width="0.8"/>
<line x1="390.8" y1="564.5" x2="390.8" y2="627.3" stroke="#f3f3f3" stroke-width="0.8"/>
<line x1="408.6" y1="564.5" x2="408.6" y2="627.3" stroke="#f3f3f3" stroke-width="0.8"/>
<line x1="426.3" y1="564.5" x2="426.3" y2="627.3" stroke="#f3f3f3" stroke-width="0.8"/>
<line x1="444.1" y1="564.5" x2="444.1" y2="627.3" stroke="#f3f3f3" stroke-width="0.8"/>
<line x1="461.9" y1="564.5" x2="461.9" y2="627.3" stroke="#f3f3f3" stroke-width="0.8"/>
<line x1="479.7" y1="564.5" x2="479.7" y2="627.3" stroke="#f3f3f3" stroke-width="0.8"/>
<line x1="364.8" y1="627.3" x2="488.6" y2="627.3" stroke="#ebebeb" stroke-width="1"/>
<line x1="364.8" y1="614.9" x2="488.6" y2="614.9" stroke="#ebebeb" stroke-width="1"/>
<line x1="364.8" y1="602.6" x2="488.6" y2="602.6" stroke="#ebebeb" stroke-width="1"/>
<line x1="364.8" y1="590.2" x2="488.6" y2="590.2" stroke="#ebebeb" stroke-width="1"/>
<line x1="364.8" y1="577.9" x2="488.6" y2="577.9" stroke="#ebebeb" stroke-width="1"/>
<line x1="364.8" y1="565.5" x2="488.6" y2="565.5" stroke="#ebebeb" stroke-width="1"/>
<line x1="364.8" y1="564.5" x2="364.8" y2="627.3" stroke="#ebebeb" stroke-width="1"/>
<line x1="381.9" y1="564.5" x2="381.9" y2="627.3" stroke="#ebebeb" stroke-width="1"/>
<line x1="399.7" y1="564.5" x2="399.7" y2="627.3" stroke="#ebebeb" stroke-width="1"/>
<line x1="417.5" y1="564.5" x2="417.5" y2="627.3" stroke="#ebebeb" stroke-width="1"/>
<line x1="435.2" y1="564.5" x2="435.2" y2="627.3" stroke="#ebebeb" stroke-width="1"/>
<line x1="453" y1="564.5" x2="453" y2="627.3" stroke="#ebebeb" stroke-width="1"/>
<line x1="470.8" y1="564.5" x2="470.8" y2="627.3" stroke="#ebebeb" stroke-width="1"/>
<line x1="488.6" y1="564.5" x2="488.6" y2="627.3" stroke="#ebebeb" stroke-width="1"/>
<polygon points="364.8,598.2 370.8,598.2 370.8,599.6 385.4,599.6 385.4,599.6 396.1,599.6 396.1,595.5 399.7,595.5 399.7,595.6 411.9,595.6 411.9,588.4 420.1,588.4 420.1,574.5 427.3,574.5 427.3,569.9 433.7,569.9 433.7,568.1 488.6,568.1 488.6,599.6 433.7,599.6 433.7,599.8 427.3,599.8 427.3,600.1 420.1,600.1 420.1,601.3 411.9,601.3 411.9,603.8 399.7,603.8 399.7,604.4 396.1,604.4 396.1,607.5 385.4,607.5 385.4,607.5 370.8,607.5 370.8,606.2 364.8,606.2" fill="#bddf26" fill-opacity="0.2"/>
<polygon points="364.8,596.6 370.8,596.6 370.8,598.8 385.4,598.8 385.4,598.8 396.1,598.8 396.1,594.7 399.7,594.7 399.7,594.3 411.9,594.3 411.9,587.9 420.1,587.9 420.1,574.2 427.3,574.2 427.3,569.8 433.7,569.8 433.7,568.1 488.6,568.1 488.6,596.9 433.7,596.9 433.7,597.3 427.3,597.3 427.3,597.1 420.1,597.1 420.1,600.3 411.9,600.3 411.9,603 399.7,603 399.7,604.2 396.1,604.2 396.1,607.6 385.4,607.6 385.4,607.6 370.8,607.6 370.8,605 364.8,605" fill="#4ec36b" fill-opacity="0.2"/>
<polygon points="364.8,587.4 370.8,587.4 370.8,588.7 385.4,588.7 385.4,588.7 396.1,588.7 396.1,586.6 399.7,586.6 399.7,584.4 411.9,584.4 411.9,579.4 420.1,579.4 420.1,572.4 427.3,572.4 427.3,568.9 433.7,568.9 433.7,567.5 488.6,567.5 488.6,588.8 433.7,588.8 433.7,589.1 427.3,589.1 427.3,589.2 420.1,589.2 420.1,591.3 411.9,591.3 411.9,593.6 399.7,593.6 399.7,596.6 396.1,596.6 396.1,598.5 385.4,598.5 385.4,598.5 370.8,598.5 370.8,596.4 364.8,596.4" fill="#1f9a8a" fill-opacity="0.2"/>
<polygon points="364.8,582.6 370.8,582.6 370.8,582.6 385.4,582.6 385.4,582.6 396.1,582.6 396.1,579.6 399.7,579.6 399.7,579.7 411.9,579.7 411.9,578.5 420.1,578.5 420.1,572.2 427.3,572.2 427.3,568.7 433.7,568.7 433.7,567.3 488.6,567.3 488.6,584.4 433.7,584.4 433.7,585.1 427.3,585.1 427.3,586.4 420.1,586.4 420.1,589.9 411.9,589.9 411.9,589.4 399.7,589.4 399.7,590.2 396.1,590.2 396.1,593.3 385.4,593.3 385.4,593.3 370.8,593.3 370.8,592.1 364.8,592.1" fill="#2e6f8e" fill-opacity="0.2"/>
<polygon points="364.8,580.1 370.8,580.1 370.8,580.2 385.4,580.2 385.4,579.1 396.1,579.1 396.1,577.5 399.7,577.5 399.7,577.5 411.9,577.5 411.9,577.2 420.1,577.2 420.1,569.8 427.3,569.8 427.3,567.3 433.7,567.3 433.7,566.3 488.6,566.3 488.6,579.6 433.7,579.6 433.7,580 427.3,580 427.3,581.4 420.1,581.4 420.1,588.1 411.9,588.1 411.9,587.7 399.7,587.7 399.7,588.7 396.1,588.7 396.1,590.7 385.4,590.7 385.4,591.9 370.8,591.9 370.8,590.1 364.8,590.1" fill="#433e85" fill-opacity="0.2"/>
<polygon points="364.8,579.5 370.8,579.5 370.8,579.5 385.4,579.5 385.4,578.2 396.1,578.2 396.1,576.9 399.7,576.9 399.7,576.9 411.9,576.9 411.9,576.9 420.1,576.9 420.1,569.9 427.3,569.9 427.3,567.4 433.7,567.4 433.7,566.4 488.6,566.4 488.6,577.1 433.7,577.1 433.7,577.5 427.3,577.5 427.3,578.9 420.1,578.9 420.1,587.4 411.9,587.4 411.9,587.7 399.7,587.7 399.7,588.7 396.1,588.7 396.1,590.8 385.4,590.8 385.4,592.1 370.8,592.1 370.8,590.1 364.8,590.1" fill="#440154" fill-opacity="0.2"/>
<polyline points="364.8,602.3 370.3,602.3 371.4,604.2 384.9,604.2 386,604.2 395.6,604.2 396.6,600.1 399.1,600.1 400.2,599.8 411.4,599.8 412.5,593.6 419.6,593.6 420.7,585 426.7,585 427.8,584 433.1,584 434.2,583.4 488.6,583.4" fill="none" stroke="#bddf26" stroke-width="1.6" stroke-linejoin="round"/>
<polyline points="364.8,601 370.3,601 371.4,603.9 384.9,603.9 386,603.9 395.6,603.9 396.6,599.7 399.1,599.7 400.2,598.9 411.4,598.9 412.5,593.2 419.6,593.2 420.7,584.2 426.7,584.2 427.8,583.7 433.1,583.7 434.2,583.1 488.6,583.1" fill="none" stroke="#4ec36b" stroke-width="1.6" stroke-linejoin="round"/>
<polyline points="364.8,592.2 370.3,592.2 371.4,594.3 384.9,594.3 386,594.3 395.6,594.3 396.6,592 399.1,592 400.2,589.3 411.4,589.3 412.5,584.8 419.6,584.8 420.7,578.5 426.7,578.5 427.8,577.9 433.1,577.9 434.2,577.2 488.6,577.2" fill="none" stroke="#1f9a8a" stroke-width="1.6" stroke-linejoin="round"/>
<polyline points="364.8,587.7 370.3,587.7 371.4,588.7 384.9,588.7 386,588.7 395.6,588.7 396.6,585.3 399.1,585.3 400.2,584.9 411.4,584.9 412.5,584 419.6,584 420.7,577.9 426.7,577.9 427.8,576 433.1,576 434.2,575.1 488.6,575.1" fill="none" stroke="#2e6f8e" stroke-width="1.6" stroke-linejoin="round"/>
<polyline points="364.8,585.6 370.3,585.6 371.4,586.8 384.9,586.8 386,585.7 395.6,585.7 396.6,583.7 399.1,583.7 400.2,583.1 411.4,583.1 412.5,582.8 419.6,582.8 420.7,575.1 426.7,575.1 427.8,573.2 433.1,573.2 434.2,572.6 488.6,572.6" fill="none" stroke="#433e85" stroke-width="1.6" stroke-linejoin="round"/>
<polyline points="364.8,585.3 370.3,585.3 371.4,586.6 384.9,586.6 386,585.3 395.6,585.3 396.6,583.5 399.1,583.5 400.2,582.9 411.4,582.9 412.5,582.7 419.6,582.7 420.7,574.8 426.7,574.8 427.8,572.9 433.1,572.9 434.2,572.3 488.6,572.3" fill="none" stroke="#440154" stroke-width="1.6" stroke-linejoin="round"/>
<rect x="364.8" y="564.5" width="123.8" height="62.8" fill="none" stroke="#a0a0a0" stroke-width="0.9"/>
<line x1="364.8" y1="564.5" x2="364.8" y2="627.3" stroke="#8a8a8a" stroke-width="1"/>
<line x1="364.8" y1="627.3" x2="488.6" y2="627.3" stroke="#8a8a8a" stroke-width="1"/>
<line x1="363" y1="627.3" x2="364.8" y2="627.3" stroke="#8a8a8a" stroke-width="0.9"/>
<text x="361" y="630.2" font-size="8.0" text-anchor="end" fill="#4d4d4d" stroke="#4d4d4d" stroke-width="0.15">0%</text>
<line x1="363" y1="614.9" x2="364.8" y2="614.9" stroke="#8a8a8a" stroke-width="0.9"/>
<text x="361" y="617.8" font-size="8.0" text-anchor="end" fill="#4d4d4d" stroke="#4d4d4d" stroke-width="0.15">20%</text>
<line x1="363" y1="602.6" x2="364.8" y2="602.6" stroke="#8a8a8a" stroke-width="0.9"/>
<text x="361" y="605.5" font-size="8.0" text-anchor="end" fill="#4d4d4d" stroke="#4d4d4d" stroke-width="0.15">40%</text>
<line x1="363" y1="590.2" x2="364.8" y2="590.2" stroke="#8a8a8a" stroke-width="0.9"/>
<text x="361" y="593.1" font-size="8.0" text-anchor="end" fill="#4d4d4d" stroke="#4d4d4d" stroke-width="0.15">60%</text>
<line x1="363" y1="577.9" x2="364.8" y2="577.9" stroke="#8a8a8a" stroke-width="0.9"/>
<text x="361" y="580.7" font-size="8.0" text-anchor="end" fill="#4d4d4d" stroke="#4d4d4d" stroke-width="0.15">80%</text>
<line x1="363" y1="565.5" x2="364.8" y2="565.5" stroke="#8a8a8a" stroke-width="0.9"/>
<text x="361" y="568.4" font-size="8.0" text-anchor="end" fill="#4d4d4d" stroke="#4d4d4d" stroke-width="0.15">100%</text>
<line x1="364.8" y1="627.3" x2="364.8" y2="629.1" stroke="#8a8a8a" stroke-width="0.9"/>
<text x="364.8" y="636.4" font-size="8.0" text-anchor="middle" fill="#4d4d4d" stroke="#4d4d4d" stroke-width="0.15">2</text>
<line x1="381.9" y1="627.3" x2="381.9" y2="629.1" stroke="#8a8a8a" stroke-width="0.9"/>
<text x="381.9" y="636.4" font-size="8.0" text-anchor="middle" fill="#4d4d4d" stroke="#4d4d4d" stroke-width="0.15">50</text>
<line x1="399.7" y1="627.3" x2="399.7" y2="629.1" stroke="#8a8a8a" stroke-width="0.9"/>
<text x="399.7" y="636.4" font-size="8.0" text-anchor="middle" fill="#4d4d4d" stroke="#4d4d4d" stroke-width="0.15">100</text>
<line x1="417.5" y1="627.3" x2="417.5" y2="629.1" stroke="#8a8a8a" stroke-width="0.9"/>
<text x="417.5" y="636.4" font-size="8.0" text-anchor="middle" fill="#4d4d4d" stroke="#4d4d4d" stroke-width="0.15">150</text>
<line x1="435.2" y1="627.3" x2="435.2" y2="629.1" stroke="#8a8a8a" stroke-width="0.9"/>
<text x="435.2" y="636.4" font-size="8.0" text-anchor="middle" fill="#4d4d4d" stroke="#4d4d4d" stroke-width="0.15">200</text>
<line x1="453" y1="627.3" x2="453" y2="629.1" stroke="#8a8a8a" stroke-width="0.9"/>
<text x="453" y="636.4" font-size="8.0" text-anchor="middle" fill="#4d4d4d" stroke="#4d4d4d" stroke-width="0.15">250</text>
<line x1="470.8" y1="627.3" x2="470.8" y2="629.1" stroke="#8a8a8a" stroke-width="0.9"/>
<text x="470.8" y="636.4" font-size="8.0" text-anchor="middle" fill="#4d4d4d" stroke="#4d4d4d" stroke-width="0.15">300</text>
<line x1="488.6" y1="627.3" x2="488.6" y2="629.1" stroke="#8a8a8a" stroke-width="0.9"/>
<text x="488.6" y="636.4" font-size="8.0" text-anchor="middle" fill="#4d4d4d" stroke="#4d4d4d" stroke-width="0.15">350</text>
<rect x="364.8" y="550.2" width="123.8" height="14.2" fill="#d9d9d9" stroke="#8c8c8c" stroke-width="0.9"/>
<line x1="364.8" y1="564.4" x2="488.6" y2="564.4" stroke="#555" stroke-width="1.0"/>
<text x="426.7" y="560.3" font-size="9.5" text-anchor="middle" fill="#1a1a1a" stroke="#1a1a1a" stroke-width="0.15">Maturity stage</text>
<text x="269.6" y="653" font-size="7.2" text-anchor="middle" fill="#111" stroke="#111" stroke-width="0.15">Water depth (cm)</text>
<text x="16.3" y="595.9" font-size="7.3" text-anchor="middle" fill="#111" transform="rotate(-90 16.3 595.9)" stroke="#111" stroke-width="0.15">Percentage of yield loss</text>
<text x="136.8" y="672.2" font-size="7.2" text-anchor="start" fill="#111" stroke="#111" stroke-width="0.15">Flood duration</text>
<rect x="186.6" y="664.8" width="9.5" height="9.6" fill="#bddf26" stroke="none" stroke-width="1" fill-opacity="0.2"/>
<line x1="187.2" y1="669.6" x2="195.5" y2="669.6" stroke="#bddf26" stroke-width="1.3"/>
<text x="199.8" y="671.9" font-size="6.2" text-anchor="start" fill="#222" stroke="#222" stroke-width="0.15">4 d</text>
<rect x="221" y="664.8" width="9.5" height="9.6" fill="#4ec36b" stroke="none" stroke-width="1" fill-opacity="0.2"/>
<line x1="221.6" y1="669.6" x2="229.9" y2="669.6" stroke="#4ec36b" stroke-width="1.3"/>
<text x="234.2" y="671.9" font-size="6.2" text-anchor="start" fill="#222" stroke="#222" stroke-width="0.15">8 d</text>
<rect x="255" y="664.8" width="9.5" height="9.6" fill="#1f9a8a" stroke="none" stroke-width="1" fill-opacity="0.2"/>
<line x1="255.6" y1="669.6" x2="263.9" y2="669.6" stroke="#1f9a8a" stroke-width="1.3"/>
<text x="268.2" y="671.9" font-size="6.2" text-anchor="start" fill="#222" stroke="#222" stroke-width="0.15">12 d</text>
<rect x="292.4" y="664.8" width="9.5" height="9.6" fill="#2e6f8e" stroke="none" stroke-width="1" fill-opacity="0.2"/>
<line x1="293" y1="669.6" x2="301.3" y2="669.6" stroke="#2e6f8e" stroke-width="1.3"/>
<text x="305.6" y="671.9" font-size="6.2" text-anchor="start" fill="#222" stroke="#222" stroke-width="0.15">16 d</text>
<rect x="330" y="664.8" width="9.5" height="9.6" fill="#433e85" stroke="none" stroke-width="1" fill-opacity="0.2"/>
<line x1="330.6" y1="669.6" x2="338.9" y2="669.6" stroke="#433e85" stroke-width="1.3"/>
<text x="343.2" y="671.9" font-size="6.2" text-anchor="start" fill="#222" stroke="#222" stroke-width="0.15">20 d</text>
<rect x="368" y="664.8" width="9.5" height="9.6" fill="#440154" stroke="none" stroke-width="1" fill-opacity="0.2"/>
<line x1="368.6" y1="669.6" x2="376.9" y2="669.6" stroke="#440154" stroke-width="1.3"/>
<text x="381.2" y="671.9" font-size="6.2" text-anchor="start" fill="#222" stroke="#222" stroke-width="0.15">27 d</text></svg></body></html>
